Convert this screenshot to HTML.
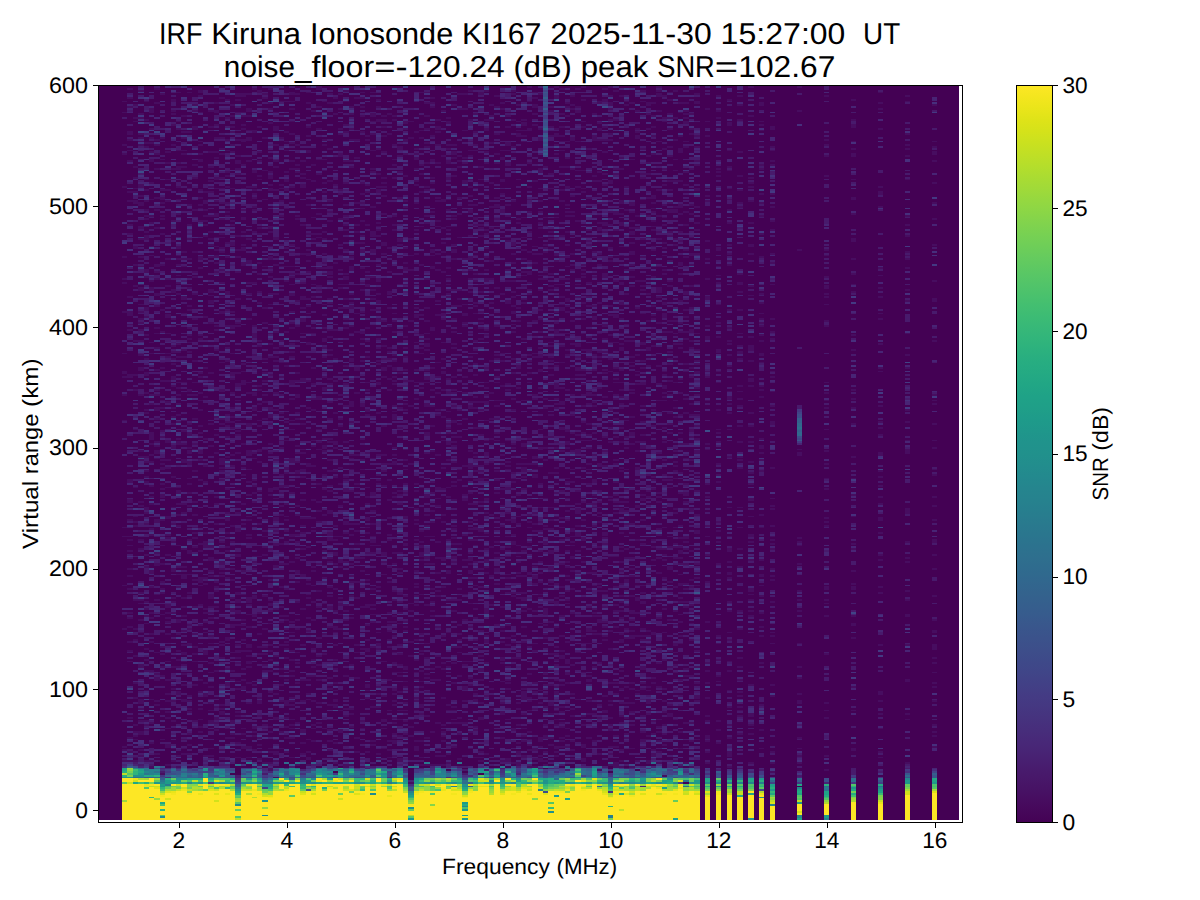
<!DOCTYPE html>
<html lang="en"><head><meta charset="utf-8"><title>IRF Kiruna Ionosonde KI167</title>
<style>html,body{margin:0;padding:0;background:#fff}svg{display:block}text{font-family:"Liberation Sans",sans-serif;fill:#000;text-rendering:geometricPrecision}</style></head><body>
<svg width="1200" height="900" viewBox="0 0 1200 900">
<defs><linearGradient id="vg" x1="0" y1="0" x2="0" y2="1"><stop offset="0.0000" stop-color="#fde725"/><stop offset="0.0156" stop-color="#f4e61e"/><stop offset="0.0312" stop-color="#eae51a"/><stop offset="0.0469" stop-color="#dfe318"/><stop offset="0.0625" stop-color="#d5e21a"/><stop offset="0.0781" stop-color="#cae11f"/><stop offset="0.0938" stop-color="#c0df25"/><stop offset="0.1094" stop-color="#b5de2b"/><stop offset="0.1250" stop-color="#aadc32"/><stop offset="0.1406" stop-color="#a0da39"/><stop offset="0.1562" stop-color="#95d840"/><stop offset="0.1719" stop-color="#8bd646"/><stop offset="0.1875" stop-color="#81d34d"/><stop offset="0.2031" stop-color="#77d153"/><stop offset="0.2188" stop-color="#6ece58"/><stop offset="0.2344" stop-color="#65cb5e"/><stop offset="0.2500" stop-color="#5cc863"/><stop offset="0.2656" stop-color="#54c568"/><stop offset="0.2812" stop-color="#4cc26c"/><stop offset="0.2969" stop-color="#44bf70"/><stop offset="0.3125" stop-color="#3dbc74"/><stop offset="0.3281" stop-color="#37b878"/><stop offset="0.3438" stop-color="#31b57b"/><stop offset="0.3594" stop-color="#2cb17e"/><stop offset="0.3750" stop-color="#27ad81"/><stop offset="0.3906" stop-color="#24aa83"/><stop offset="0.4062" stop-color="#21a685"/><stop offset="0.4219" stop-color="#1fa287"/><stop offset="0.4375" stop-color="#1f9f88"/><stop offset="0.4531" stop-color="#1e9b8a"/><stop offset="0.4688" stop-color="#1f978b"/><stop offset="0.4844" stop-color="#20938c"/><stop offset="0.5000" stop-color="#21918c"/><stop offset="0.5156" stop-color="#228d8d"/><stop offset="0.5312" stop-color="#23898e"/><stop offset="0.5469" stop-color="#25858e"/><stop offset="0.5625" stop-color="#26828e"/><stop offset="0.5781" stop-color="#277e8e"/><stop offset="0.5938" stop-color="#297a8e"/><stop offset="0.6094" stop-color="#2a768e"/><stop offset="0.6250" stop-color="#2c728e"/><stop offset="0.6406" stop-color="#2e6f8e"/><stop offset="0.6562" stop-color="#2f6b8e"/><stop offset="0.6719" stop-color="#31678e"/><stop offset="0.6875" stop-color="#33638d"/><stop offset="0.7031" stop-color="#355f8d"/><stop offset="0.7188" stop-color="#375b8d"/><stop offset="0.7344" stop-color="#39568c"/><stop offset="0.7500" stop-color="#3b528b"/><stop offset="0.7656" stop-color="#3d4e8a"/><stop offset="0.7812" stop-color="#3e4989"/><stop offset="0.7969" stop-color="#404588"/><stop offset="0.8125" stop-color="#424086"/><stop offset="0.8281" stop-color="#443b84"/><stop offset="0.8438" stop-color="#453781"/><stop offset="0.8594" stop-color="#46327e"/><stop offset="0.8750" stop-color="#472d7b"/><stop offset="0.8906" stop-color="#482878"/><stop offset="0.9062" stop-color="#482374"/><stop offset="0.9219" stop-color="#481d6f"/><stop offset="0.9375" stop-color="#48186a"/><stop offset="0.9531" stop-color="#471365"/><stop offset="0.9688" stop-color="#470d60"/><stop offset="0.9844" stop-color="#46075a"/><stop offset="1.0000" stop-color="#440154"/></linearGradient></defs>
<rect width="1200" height="900" fill="#fff"/>
<g shape-rendering="crispEdges" fill="none">
<rect x="98" y="85" width="861" height="735" fill="#440154"/>
<path stroke="#470d60" stroke-width="5" d="M124.5 101v1m0 10v1m0 31v2m0 7v2m0 31v2m0 68v2m0 20v2m0 2v2m0 27v2m0 40v1m0 17v3m0 2v2m0 16v2m0 24v1m0 106v1m0 8v1m0 48v1m0 28v1m0 13v2m0 116v2m0 1v2m0 9v2M135.5 104v2m0 11v2m0 2v1m0 44v2m0 9v2m0 9v1m0 2v2m0 7v4m0 42v3m0 15v2m0 19v2m0 53v2m0 32v2m0 13v2m0 38v1m0 57v1m0 28v1m0 4v2m0 2v2m0 72v2m0 27v2m0 9v2m0 14v2m0 25v2m0 13v2m0 25v2m0 5v2m0 2v2m0 2v1m0 17v1m0 2v2M146.5 101v1m0 17v2m0 21v2m0 2v2m0 31v1m0 9v2m0 9v2m0 7v2m0 4v2m0 1v2m0 11v2m0 2v5m0 29v4m0 3v2m0 29v4m0 5v2m0 16v2m0 22v2m0 12v4m0 16v2m0 15v2m0 1v2m0 42v2m0 3v2m0 7v2m0 4v2m0 3v2m0 24v3m0 2v2m0 9v2m0 29v2m0 10v2m0 33v2m0 5v2m0 5v2m0 6v1m0 24v2m0 9v2m0 9v2m0 18v1m0 29v2m0 2v2m0 3v2m0 26v1m0 2v2M151.5 108v5m0 15v2m0 7v2m0 3v2m0 7v2m0 6v3m0 20v2m0 15v1m0 15v2m0 5v2m0 22v1m0 8v1m0 24v2m0 5v4m0 27v2m0 22v1m0 10v1m0 40v2m0 7v2m0 27v8m0 3v2m0 9v2m0 5v2m0 22v2m0 9v2m0 5v2m0 23v2m0 4v2m0 34v4m0 12v2m0 24v2m0 3v2m0 14v2m0 6v2m0 27v2m0 27v1m0 22v2m0 18v2m0 16v2m0 4v3M162.5 93v2m0 42v2m0 20v1m0 29v2m0 6v3m0 2v2m0 11v2m0 1v2m0 13v2m0 29v2m0 43v2m0 20v2m0 29v1m0 4v2m0 11v2m0 18v1m0 6v2m0 21v2m0 4v2m0 21v2m0 2v2m0 2v3m0 13v2m0 3v2m0 4v4m0 21v2m0 15v1m0 8v1m0 17v2m0 16v2m0 5v2m0 2v2m0 20v1m0 17v1m0 13v2m0 5v2m0 11v2m0 7v2m0 62v1m0 33v2M173.5 99v3m0 8v2m0 1v2m0 9v2m0 18v2m0 22v2m0 9v1m0 40v2m0 18v2m0 47v4m0 14v2m0 9v2m0 25v2m0 4v2m0 5v2m0 3v2m0 11v4m0 5v2m0 20v2m0 7v2m0 5v2m0 20v4m0 27v2m0 9v1m0 19v1m0 15v2m0 16v2m0 2v1m0 22v4m0 25v2m0 2v2m0 9v2m0 52v2m0 11v2m0 7v2m0 10v2m0 18v2m0 26v1m0 11v2M178.5 92v1m0 28v1m0 6v2m0 20v1m0 11v2m0 2v4m0 16v2m0 11v1m0 13v2m0 31v3m0 6v1m0 2v2m0 4v2m0 9v1m0 6v2m0 9v2m0 48v2m0 6v2m0 3v2m0 24v1m0 4v2m0 5v2m0 7v2m0 9v2m0 5v2m0 15v2m0 1v4m0 42v1m0 2v4m0 9v2m0 9v2m0 9v2m0 18v1m0 10v1m0 9v2m0 6v1m0 11v2m0 31v4m0 10v2m0 15v2m0 7v2m0 5v2m0 23v4m0 60v2m0 9v2M189.5 92v1m0 38v2m0 8v1m0 46v1m0 15v2m0 18v2m0 12v2m0 18v2m0 27v2m0 16v2m0 2v2m0 16v2m0 5v2m0 2v2m0 2v1m0 8v2m0 36v3m0 2v2m0 27v2m0 7v4m0 11v2m0 1v4m0 7v4m0 13v1m0 4v2m0 7v2m0 11v2m0 32v2m0 9v4m0 20v1m0 17v2m0 1v2m0 27v2m0 2v2m0 13v3m0 35v1m0 13v2m0 3v2m0 6v2m0 1v2m0 20v2m0 4v1m0 4v2m0 7v2M200.5 90v3m0 2v2m0 15v1m0 28v1m0 2v2m0 7v2m0 4v3m0 27v2m0 6v2m0 5v2m0 2v1m0 11v2m0 34v4m0 7v2m0 65v2m0 2v2m0 32v2m0 2v2m0 14v2m0 6v1m0 8v2m0 14v2m0 5v2m0 16v4m0 5v2m0 18v2m0 62v2m0 5v2m0 25v6m0 2v1m0 18v2m0 18v2m0 9v2m0 42v2m0 10v2m0 15v2m0 9v1m0 6v2m0 3v2M205.5 130v1m0 60v2m0 7v4m0 5v2m0 4v2m0 3v2m0 2v2m0 9v2m0 79v2m0 49v2m0 13v1m0 2v2m0 9v2m0 40v2m0 25v2m0 14v2m0 49v2m0 7v7m0 29v2m0 4v2m0 23v2m0 2v2m0 7v2m0 9v1m0 17v5m0 27v2m0 9v4m0 58v2M216.5 102v2m0 6v3m0 11v2m0 11v2m0 12v2m0 4v2m0 18v3m0 8v1m0 11v2m0 11v4m0 20v1m0 8v1m0 2v2m0 4v3m0 4v2m0 7v2m0 52v2m0 2v2m0 18v2m0 65v2m0 16v2m0 16v2m0 42v2m0 5v2m0 18v2m0 34v2m0 20v2m0 3v2m0 2v2m0 11v1m0 2v2m0 62v2m0 34v2m0 9v3m0 2v2m0 5v2M227.5 99v2m0 16v2m0 20v2m0 9v1m0 20v2m0 2v2m0 9v2m0 14v2m0 4v1m0 2v2m0 2v2m0 25v2m0 12v2m0 13v2m0 18v4m0 14v2m0 14v2m0 20v2m0 11v2m0 52v2m0 5v2m0 2v2m0 9v2m0 18v2m0 1v2m0 17v1m0 9v2m0 22v2m0 3v4m0 11v2m0 12v2m0 2v2m0 5v2m0 18v2m0 58v4m0 27v2m0 12v4m0 42v1m0 8v2M232.5 104v2m0 9v2m0 9v2m0 3v2m0 11v2m0 5v2m0 35v1m0 31v2m0 2v2m0 3v2m0 11v4m0 65v2m0 12v4m0 24v1m0 18v4m0 2v2m0 12v2m0 13v2m0 7v2m0 3v2m0 4v2m0 25v2m0 9v2m0 58v2m0 14v2m0 2v1m0 10v1m0 11v2m0 9v2m0 16v2m0 9v4m0 2v1m0 9v4m0 2v2m0 20v1m0 17v2m0 7v2m0 39v4m0 2v2m0 5v2m0 2v2M243.5 93v4m0 15v1m0 2v2m0 7v2m0 2v2m0 9v3m0 22v2m0 13v1m0 8v1m0 20v2m0 6v3m0 11v2m0 11v2m0 1v4m0 11v4m0 97v2m0 6v1m0 8v5m0 58v2m0 22v2m0 5v2m0 27v2m0 18v2m0 2v1m0 17v1m0 24v2m0 22v1m0 24v2m0 3v2m0 13v2m0 9v2m0 16v2m0 9v2m0 5v4m0 38v1m0 4v2m0 11v3M254.5 85v1m0 2v2m0 40v3m0 37v3m0 13v2m0 1v2m0 2v2m0 2v2m0 7v2m0 1v2m0 20v2m0 13v1m0 35v2m0 41v2m0 6v5m0 4v1m0 11v2m0 11v2m0 23v4m0 11v4m0 41v2m0 4v1m0 20v2m0 4v2m0 5v2m0 7v2m0 53v1m0 4v2m0 5v2m0 25v4m0 15v3m0 67v2m0 40v3m0 2v2m0 2v2m0 12v2m0 15v2M259.5 90v3m0 33v2m0 23v2m0 7v2m0 13v2m0 2v1m0 38v2m0 7v2m0 4v2m0 27v2m0 9v2m0 16v2m0 9v2m0 36v2m0 3v2m0 38v2m0 2v2m0 12v2m0 15v1m0 4v2m0 22v3m0 9v2m0 27v2m0 4v2m0 25v2m0 31v1m0 55v2m0 19v2m0 11v2m0 5v2m0 42v2m0 1v4m0 11v2m0 20v2m0 5v2m0 12v2m0 4v2M270.5 88v2m0 12v2m0 4v2m0 12v2m0 33v2m0 12v2m0 2v4m0 5v2m0 2v3m0 35v3m0 2v2m0 13v1m0 9v4m0 7v2m0 2v2m0 3v2m0 15v2m0 9v1m0 28v1m0 9v2m0 11v2m0 16v2m0 31v4m0 3v4m0 5v2m0 18v2m0 7v2m0 34v4m0 2v2m0 52v2m0 29v2m0 18v2m0 2v3m0 4v2m0 11v1m0 8v1m0 11v2m0 4v2m0 7v2m0 9v2m0 19v2m0 33v2m0 3v2m0 15v1m0 2v2m0 9v2m0 4v3M281.5 101v1m0 35v2m0 45v2m0 2v1m0 11v2m0 13v2m0 27v2m0 20v1m0 73v2m0 3v2m0 15v1m0 13v2m0 16v2m0 16v2m0 26v1m0 6v2m0 25v2m0 9v3m0 4v2m0 11v2m0 7v2m0 27v2m0 18v2m0 12v2m0 7v2m0 18v2m0 7v2m0 4v2m0 21v2m0 22v2m0 14v2m0 14v2m0 17v1m0 11v2m0 15v1M286.5 101v1m0 29v2m0 8v1m0 8v1m0 20v2m0 6v3m0 6v3m0 17v1m0 38v2m0 17v1m0 13v2m0 49v2m0 29v1m0 2v2m0 54v2m0 6v1m0 10v1m0 18v2m0 6v3m0 2v2m0 11v2m0 16v2m0 11v1m0 2v2m0 9v2m0 9v2m0 20v2m0 20v1m0 2v2m0 25v2m0 2v2m0 7v2m0 11v2m0 1v2m0 2v2m0 7v2m0 20v2m0 19v6m0 11v2m0 7v2m0 9v2m0 12v2M297.5 93v2m0 49v2m0 18v2m0 2v2m0 1v2m0 42v2m0 1v2m0 27v2m0 6v1m0 13v2m0 2v2m0 25v2m0 23v2m0 45v2m0 6v2m0 12v4m0 14v2m0 4v2m0 25v2m0 5v2m0 7v2m0 7v4m0 31v2m0 7v2m0 18v2m0 5v2m0 14v2m0 11v4m0 7v2m0 18v2m0 16v2m0 7v2m0 22v1m0 9v2m0 18v2m0 38v2m0 40v2M308.5 92v1m0 9v2m0 22v2m0 7v2m0 13v3m0 26v1m0 24v2m0 20v1m0 6v2m0 14v2m0 2v3m0 4v2m0 9v2m0 25v2m0 5v2m0 6v1m0 19v1m0 8v3m0 35v2m0 16v2m0 7v2m0 54v4m0 50v2m0 27v2m0 31v2m0 2v2m0 9v1m0 2v2m0 18v2m0 11v2m0 43v2m0 2v2m0 12v2m0 4v1m0 39v1m0 11v2m0 4v3m0 4v2M313.5 110v2m0 52v2m0 14v2m0 17v1m0 17v1m0 15v2m0 3v2m0 44v1m0 11v2m0 29v2m0 4v1m0 33v2m0 14v2m0 13v2m0 9v2m0 29v1m0 4v2m0 18v2m0 32v2m0 16v2m0 11v2m0 34v2m0 2v2m0 13v1m0 15v2m0 16v2m0 27v2m0 2v1m0 6v2m0 5v2m0 7v2m0 23v2m0 22v2m0 2v1m0 11v2M324.5 101v1m0 37v2m0 3v2m0 13v1m0 10v1m0 11v2m0 7v2m0 38v2m0 5v2m0 13v2m0 7v2m0 3v2m0 4v2m0 29v1m0 9v2m0 11v2m0 9v4m0 5v2m0 7v2m0 18v2m0 9v4m0 47v2m0 5v4m0 1v2m0 22v2m0 12v2m0 24v2m0 34v2m0 4v1m0 8v1m0 11v2m0 24v1m0 29v2m0 18v2m0 26v1m0 46v1m0 33v2M335.5 97v2m0 14v2m0 69v2m0 2v1m0 73v2m0 65v2m0 27v2m0 20v2m0 16v2m0 12v2m0 27v4m0 2v2m0 21v2m0 4v2m0 47v2m0 9v1m0 2v2m0 11v4m0 7v2m0 23v2m0 20v2m0 14v4m0 2v1m0 11v2m0 13v2m0 7v2m0 12v2m0 6v1m0 8v3m0 2v4m0 11v1m0 22v2m0 18v2M340.5 93v2m0 13v2m0 18v2m0 3v2m0 18v4m0 32v2m0 2v2m0 23v2m0 24v2m0 9v1m0 13v2m0 13v1m0 2v2m0 18v2m0 85v2m0 22v2m0 5v2m0 40v2m0 14v2m0 20v2m0 29v1m0 22v4m0 3v2m0 29v2m0 4v3m0 8v1m0 13v2m0 31v1m0 48v1m0 18v4M351.5 106v2m0 5v2m0 13v2m0 9v2m0 19v2m0 4v2m0 40v1m0 17v1m0 29v2m0 8v5m0 22v2m0 7v2m0 1v4m0 16v2m0 6v1m0 24v4m0 18v2m0 19v6m0 14v2m0 31v2m0 2v1m0 10v1m0 20v2m0 31v2m0 9v2m0 27v2m0 10v2m0 4v2m0 12v2m0 20v2m0 45v2m0 42v2m0 3v2m0 11v2m0 36v2M362.5 92v1m0 4v2m0 7v2m0 7v2m0 14v2m0 49v2m0 9v2m0 7v2m0 4v1m0 11v2m0 13v2m0 5v2m0 5v4m0 14v2m0 13v2m0 5v2m0 20v2m0 18v3m0 4v2m0 20v2m0 41v4m0 31v2m0 19v2m0 8v1m0 87v2m0 11v2m0 9v2m0 23v2m0 40v2m0 70v2m0 6v1m0 37v2M367.5 112v1m0 22v2m0 2v2m0 43v2m0 5v2m0 31v2m0 45v2m0 3v2m0 6v3m0 15v2m0 23v2m0 11v2m0 14v2m0 24v1m0 6v2m0 18v3m0 2v2m0 36v2m0 33v1m0 8v2m0 5v2m0 12v4m0 6v1m0 4v2m0 18v2m0 25v2m0 23v4m0 16v2m0 13v2m0 7v4m0 32v4m0 2v1m0 6v2m0 52v2M378.5 99v2m0 5v2m0 11v3m0 8v1m0 17v2m0 23v2m0 11v2m0 1v4m0 29v2m0 2v1m0 2v2m0 4v2m0 27v2m0 12v4m0 11v2m0 5v4m0 5v2m0 7v4m0 16v2m0 7v2m0 11v2m0 1v2m0 17v3m0 27v2m0 40v2m0 18v2m0 3v2m0 2v2m0 16v2m0 42v1m0 40v2m0 26v1m0 17v1m0 10v3m0 2v2m0 11v1m0 15v2m0 2v1m0 4v2m0 5v2m0 7v2m0 2v2m0 45v2m0 3v2M389.5 113v2m0 18v2m0 82v1m0 29v2m0 22v2m0 18v4m0 12v2m0 16v2m0 20v2m0 2v2m0 5v2m0 5v2m0 11v2m0 9v2m0 72v2m0 14v2m0 18v2m0 16v2m0 15v2m0 3v2m0 25v2m0 13v2m0 29v2m0 7v2m0 1v2m0 4v2m0 7v2m0 5v2m0 31v2m0 29v1m0 29v2m0 7v2m0 6v1M394.5 115v2m0 2v2m0 23v2m0 13v1m0 4v2m0 11v2m0 36v2m0 7v2m0 3v2m0 82v1m0 6v2m0 9v2m0 21v2m0 4v2m0 5v4m0 5v2m0 2v2m0 1v2m0 20v2m0 4v1m0 2v6m0 27v2m0 5v2m0 5v4m0 27v2m0 2v2m0 54v2m0 9v2m0 25v2m0 7v2m0 14v2m0 4v2m0 12v2m0 15v1m0 9v2m0 8v1m0 15v3m0 2v2m0 5v2m0 2v2m0 11v2m0 3v2m0 9v2m0 2v2m0 1v4m0 11v2M405.5 121v3m0 4v2m0 9v3m0 11v2m0 7v2m0 11v2m0 23v2m0 4v2m0 39v2m0 13v2m0 3v4m0 9v2m0 2v1m0 20v2m0 18v2m0 9v2m0 9v2m0 7v2m0 4v1m0 6v2m0 9v2m0 21v2m0 4v2m0 38v1m0 9v2m0 8v1m0 13v2m0 7v2m0 22v3m0 24v3m0 15v2m0 25v2m0 5v2m0 11v2m0 11v2m0 3v2m0 2v2m0 34v4m0 11v1m0 4v2m0 2v1m0 11v2m0 6v1m0 9v2m0 11v2M416.5 85v1m0 45v2m0 15v2m0 3v2m0 2v3m0 8v2m0 10v2m0 2v2m0 16v2m0 25v2m0 15v1m0 6v2m0 38v2m0 12v2m0 5v4m0 6v1m0 8v1m0 8v1m0 10v1m0 15v2m0 11v1m0 15v2m0 69v1m0 13v2m0 5v2m0 9v2m0 5v2m0 9v2m0 2v2m0 14v2m0 4v1m0 24v2m0 11v2m0 1v2m0 7v2m0 2v2m0 3v2m0 33v2m0 18v2m0 11v1m0 6v2m0 7v2m0 1v2m0 4v2m0 1v2m0 8v1m0 29v2m0 4v5M421.5 92v1m0 37v1m0 6v2m0 25v2m0 7v2m0 16v2m0 33v1m0 37v2m0 48v2m0 18v2m0 2v2m0 7v2m0 4v1m0 28v1m0 4v2m0 98v1m0 42v2m0 9v2m0 2v3m0 4v5m0 2v2m0 33v1m0 38v2m0 15v2m0 1v2m0 15v2m0 9v1m0 4v2m0 16v4m0 5v2m0 25v2m0 15v1m0 6v2M432.5 97v2m0 3v2m0 2v2m0 27v2m0 22v3m0 15v2m0 3v2m0 4v1m0 22v2m0 36v4m0 2v1m0 10v3m0 15v1m0 42v4m0 36v2m0 20v2m0 14v2m0 18v2m0 23v2m0 29v2m0 9v2m0 16v2m0 9v2m0 13v1m0 26v2m0 23v2m0 11v2m0 7v2m0 3v2m0 51v2m0 9v2m0 50v2m0 31v2M443.5 110v2m0 43v2m0 42v3m0 25v2m0 13v2m0 7v2m0 18v2m0 22v1m0 17v3m0 2v2m0 22v1m0 15v2m0 11v3m0 15v2m0 25v2m0 22v1m0 26v2m0 19v2m0 24v2m0 5v2m0 34v4m0 25v2m0 47v2m0 25v2m0 4v2m0 27v2m0 25v2m0 5v2m0 2v2m0 3v2m0 13v2m0 7v2M448.5 117v2m0 2v3m0 20v2m0 2v2m0 10v4m0 13v3m0 19v1m0 9v2m0 15v1m0 2v2m0 6v1m0 17v1m0 11v2m0 9v2m0 4v1m0 4v2m0 2v2m0 1v2m0 13v2m0 65v2m0 11v3m0 17v1m0 6v2m0 3v2m0 2v2m0 3v2m0 7v4m0 14v2m0 26v1m0 8v2m0 41v2m0 24v1m0 4v4m0 25v2m0 7v2m0 4v1m0 17v1m0 33v2m0 36v2m0 4v1m0 33v2m0 7v2m0 7v2M459.5 93v2m0 13v2m0 45v2m0 3v2m0 4v2m0 29v2m0 14v2m0 22v1m0 51v2m0 7v2m0 5v2m0 64v1m0 10v1m0 26v2m0 12v2m0 11v2m0 31v1m0 9v2m0 62v2m0 43v2m0 9v2m0 23v2m0 7v2m0 4v2m0 5v2m0 4v1m0 22v2m0 40v2m0 3v2m0 9v2m0 23v2M470.5 90v2m0 27v2m0 20v1m0 8v1m0 4v2m0 22v1m0 6v2m0 7v2m0 7v2m0 3v4m0 22v2m0 19v4m0 9v2m0 7v2m0 5v2m0 4v2m0 40v1m0 22v2m0 43v2m0 2v4m0 41v2m0 11v6m0 23v2m0 9v2m0 16v2m0 5v2m0 6v1m0 2v2m0 11v2m0 3v4m0 2v2m0 5v4m0 3v2m0 24v1m0 10v1m0 11v2m0 33v1m0 15v2m0 5v2m0 45v2m0 15v1M475.5 113v2m0 16v2m0 11v2m0 4v1m0 37v1m0 15v2m0 11v3m0 4v2m0 29v1m0 17v2m0 5v2m0 20v2m0 1v2m0 6v1m0 26v2m0 7v2m0 12v2m0 9v2m0 15v1m0 4v2m0 3v2m0 4v2m0 18v2m0 23v2m0 2v2m0 7v2m0 3v2m0 7v2m0 22v2m0 14v2m0 6v3m0 9v2m0 4v1m0 15v2m0 5v2m0 7v2m0 6v1m0 22v2m0 7v2m0 20v2m0 5v2m0 31v2m0 9v1m0 2v2m0 4v3m0 24v2m0 1v2m0 26v1M486.5 90v2m0 27v2m0 7v3m0 10v1m0 9v2m0 9v2m0 62v1m0 2v2m0 2v2m0 12v2m0 7v2m0 11v2m0 7v4m0 2v1m0 44v2m0 3v2m0 31v2m0 13v1m0 4v2m0 5v2m0 5v4m0 15v1m0 19v1m0 11v4m0 7v2m0 13v1m0 19v3m0 6v1m0 4v2m0 18v2m0 14v2m0 9v4m0 3v2m0 4v2m0 34v6m0 21v2m0 2v4m0 19v2m0 26v1m0 4v2m0 56v2M491.5 104v2m0 9v2m0 2v2m0 21v2m0 38v2m0 22v2m0 19v2m0 31v2m0 16v2m0 22v2m0 56v2m0 30v2m0 24v2m0 18v2m0 21v2m0 51v2m0 30v2m0 27v2m0 27v2m0 9v2m0 71v2m0 18v2M502.5 102v2m0 4v2m0 40v1m0 6v3m0 19v3m0 11v2m0 14v4m0 24v1m0 55v2m0 58v1m0 6v2m0 23v2m0 13v1m0 28v1m0 13v2m0 9v2m0 32v2m0 15v2m0 18v2m0 21v2m0 15v1m0 40v2m0 18v2m0 2v2m0 9v2m0 14v4m0 1v2m0 17v1m0 17v1m0 2v2m0 7v4m0 22v2m0 21v2M513.5 90v2m0 1v2m0 24v2m0 25v2m0 52v2m0 40v4m0 7v2m0 7v2m0 16v2m0 9v2m0 3v2m0 7v2m0 4v3m0 10v1m0 6v2m0 25v2m0 12v2m0 24v2m0 9v2m0 9v1m0 22v2m0 2v2m0 23v2m0 4v1m0 2v2m0 33v1m0 2v4m0 11v2m0 5v4m0 20v1m0 22v2m0 2v2m0 1v2m0 38v2m0 4v2m0 14v2m0 69v3m0 31v2M518.5 104v2m0 15v1m0 8v1m0 2v4m0 42v1m0 38v2m0 2v2m0 52v2m0 29v2m0 11v2m0 43v4m0 18v2m0 74v2m0 29v2m0 20v1m0 6v2m0 20v1m0 10v1m0 4v2m0 9v2m0 1v2m0 15v2m0 3v2m0 49v2m0 7v2m0 43v2m0 4v2m0 14v2m0 16v2m0 7v4m0 7v4M529.5 85v3m0 4v1m0 8v1m0 26v3m0 28v1m0 2v2m0 22v2m0 11v1m0 11v2m0 18v2m0 18v2m0 7v2m0 2v2m0 5v4m0 7v2m0 5v2m0 2v2m0 18v1m0 10v1m0 9v2m0 18v2m0 4v2m0 10v2m0 8v1m0 17v1m0 37v2m0 23v2m0 22v1m0 19v1m0 6v2m0 5v2m0 4v1m0 9v2m0 2v2m0 3v2m0 24v3m0 33v2m0 36v2m0 25v2m0 22v2m0 1v2m0 8v1m0 20v2m0 6v1m0 4v2m0 3v2m0 15v2M540.5 93v2m0 33v2m0 7v4m0 27v5m0 15v1m0 11v2m0 9v2m0 9v2m0 3v2m0 8v1m0 15v2m0 20v1m0 2v2m0 9v2m0 13v1m0 4v2m0 7v2m0 11v2m0 14v2m0 5v4m0 11v3m0 15v2m0 40v1m0 17v3m0 8v1m0 6v2m0 16v2m0 22v1m0 13v2m0 7v2m0 2v2m0 14v2m0 9v2m0 9v2m0 7v2m0 11v1m0 2v2m0 7v2m0 15v1m0 66v1m0 4v2m0 5v2m0 33v5m0 4v2m0 7v2m0 1v4M545.5 166v2m0 49v1m0 26v2m0 1v2m0 2v2m0 18v2m0 2v1m0 2v2m0 15v1m0 40v2m0 27v2m0 31v2m0 7v2m0 27v2m0 9v2m0 10v2m0 37v1m0 15v3m0 8v2m0 1v2m0 11v4m0 63v7m0 9v2m0 7v2m0 2v2m0 34v2m0 9v2m0 7v2m0 4v1m0 6v2m0 16v2m0 9v4m0 12v2m0 7v2m0 2v2M556.5 86v2m0 4v1m0 2v4m0 13v1m0 15v2m0 3v4m0 7v2m0 7v2m0 44v1m0 17v1m0 8v1m0 10v1m0 15v3m0 4v2m0 22v1m0 2v2m0 22v2m0 9v2m0 5v5m0 8v1m0 22v2m0 16v6m0 9v2m0 3v2m0 2v2m0 32v2m0 4v2m0 18v2m0 3v2m0 18v2m0 13v1m0 8v1m0 44v2m0 20v2m0 12v2m0 2v3m0 19v1m0 2v2m0 18v2m0 5v2m0 4v2m0 3v2m0 13v2m0 5v2m0 3v4m0 11v2m0 2v1m0 8v1m0 4v2m0 20v3m0 2v2m0 2v2M567.5 102v2m0 2v2m0 7v2m0 24v1m0 15v2m0 7v2m0 18v3m0 15v2m0 5v2m0 2v2m0 14v2m0 11v2m0 10v2m0 8v1m0 11v2m0 18v4m0 3v2m0 4v2m0 20v1m0 2v2m0 11v2m0 3v2m0 33v2m0 38v3m0 9v4m0 2v2m0 29v1m0 2v2m0 15v1m0 11v2m0 7v2m0 16v2m0 11v2m0 9v2m0 3v2m0 7v2m0 2v2m0 9v2m0 7v2m0 2v1m0 37v2m0 16v5m0 8v3m0 7v2m0 15v1m0 28v1m0 6v2m0 9v2M572.5 95v2m0 7v2m0 2v2m0 27v4m0 27v2m0 19v2m0 4v2m0 14v2m0 2v2m0 36v2m0 9v2m0 3v2m0 49v2m0 21v2m0 8v1m0 24v2m0 14v2m0 2v3m0 10v1m0 2v2m0 16v2m0 16v2m0 17v1m0 11v2m0 45v4m0 4v1m0 4v2m0 2v1m0 10v3m0 11v2m0 7v2m0 7v2m0 22v2m0 50v2m0 27v2m0 13v2m0 5v2m0 23v2m0 7v2m0 7v2M583.5 86v2m0 11v2m0 20v1m0 4v2m0 42v1m0 17v1m0 2v2m0 44v1m0 15v2m0 9v2m0 3v2m0 2v2m0 1v2m0 24v2m0 10v2m0 2v2m0 13v1m0 15v2m0 18v2m0 3v2m0 7v2m0 9v2m0 9v2m0 14v2m0 9v2m0 6v1m0 15v2m0 9v2m0 32v2m0 16v2m0 16v4m0 15v1m0 4v2m0 11v1m0 60v2m0 6v1m0 2v2m0 24v1m0 42v2m0 7v2m0 18v4m0 10v4M594.5 113v2m0 20v6m0 34v2m0 3v2m0 69v2m0 3v2m0 18v2m0 27v2m0 9v4m0 34v2m0 2v2m0 9v2m0 23v2m0 5v2m0 2v2m0 18v2m0 5v2m0 20v2m0 23v4m0 11v2m0 7v2m0 2v1m0 17v2m0 45v2m0 11v1m0 17v1m0 4v2m0 2v2m0 1v2m0 13v2m0 1v2m0 26v1m0 4v2m0 42v1m0 2v2m0 25v2M599.5 101v3m0 18v2m0 4v3m0 8v2m0 30v2m0 7v2m0 20v2m0 18v2m0 3v4m0 22v2m0 9v2m0 36v2m0 29v1m0 17v2m0 3v2m0 2v2m0 20v1m0 4v2m0 74v4m0 23v2m0 9v2m0 4v1m0 4v2m0 2v1m0 4v2m0 23v2m0 35v2m0 1v2m0 2v2m0 23v2m0 2v4m0 10v2m0 27v2m0 40v2m0 11v2m0 34v2m0 14v2M610.5 86v2m0 7v2m0 5v4m0 2v2m0 9v2m0 12v2m0 4v2m0 39v4m0 27v2m0 11v2m0 21v2m0 7v2m0 2v2m0 43v2m0 7v2m0 18v2m0 6v1m0 10v1m0 4v2m0 11v1m0 37v2m0 10v2m0 4v2m0 12v2m0 53v2m0 1v2m0 18v2m0 35v1m0 73v2m0 16v2m0 11v1m0 20v2m0 16v2m0 2v2m0 11v2m0 5v2m0 2v3m0 15v2m0 5v2m0 9v2M621.5 95v2m0 60v2m0 9v2m0 30v4m0 9v2m0 7v4m0 20v1m0 8v1m0 26v3m0 17v3m0 13v2m0 13v1m0 9v2m0 2v4m0 18v2m0 11v1m0 6v2m0 5v2m0 5v2m0 2v2m0 18v2m0 12v2m0 24v2m0 1v2m0 29v2m0 5v4m0 20v2m0 12v2m0 2v2m0 9v2m0 7v2m0 11v2m0 10v2m0 4v2m0 7v2m0 5v2m0 14v2m0 4v4m0 27v2m0 16v2m0 12v2m0 11v2m0 5v2m0 25v2m0 9v2m0 4v2M626.5 101v1m0 2v2m0 80v2m0 21v2m0 6v1m0 48v1m0 2v2m0 22v2m0 29v1m0 15v2m0 78v1m0 15v2m0 9v2m0 20v1m0 4v2m0 2v1m0 9v2m0 8v1m0 2v2m0 7v2m0 11v2m0 23v2m0 7v2m0 20v4m0 21v2m0 22v2m0 2v1m0 4v2m0 47v2m0 9v2m0 3v2m0 13v2m0 14v2m0 2v2M637.5 110v2m0 16v2m0 1v2m0 2v4m0 76v2m0 10v2m0 51v2m0 25v2m0 45v2m0 15v1m0 2v2m0 7v2m0 56v2m0 7v2m0 15v3m0 35v3m0 31v2m0 29v2m0 13v1m0 11v4m0 11v2m0 21v2m0 53v1m0 2v2m0 24v1m0 40v2M648.5 102v4m0 7v2m0 13v2m0 25v2m0 5v2m0 9v2m0 22v2m0 16v2m0 20v1m0 55v2m0 25v2m0 25v4m0 14v2m0 4v1m0 48v1m0 48v1m0 4v2m0 14v2m0 4v2m0 18v1m0 66v2m0 45v2m0 3v2m0 2v2m0 2v1m0 42v2m0 2v1m0 8v5m0 9v2m0 20v2m0 2v1m0 20v4M653.5 85v1m0 16v2m0 11v2m0 9v2m0 7v2m0 16v2m0 40v4m0 3v2m0 4v1m0 2v2m0 7v2m0 4v1m0 2v2m0 15v1m0 2v2m0 25v2m0 27v2m0 7v2m0 2v2m0 16v2m0 7v2m0 62v2m0 14v2m0 49v2m0 1v2m0 7v2m0 24v2m0 23v2m0 5v2m0 11v2m0 71v3m0 42v2m0 3v2m0 15v1m0 20v2m0 11v2m0 14v2m0 2v4M664.5 85v1m0 9v2m0 20v2m0 2v1m0 26v2m0 18v2m0 14v2m0 18v2m0 11v1m0 6v2m0 16v2m0 3v2m0 6v1m0 13v2m0 2v2m0 27v3m0 8v5m0 13v2m0 38v1m0 2v2m0 9v4m0 3v2m0 2v2m0 2v1m0 26v2m0 9v2m0 1v2m0 16v2m0 13v2m0 3v2m0 24v2m0 9v1m0 10v1m0 20v2m0 4v2m0 3v2m0 16v2m0 29v2m0 22v1m0 26v2m0 27v2m0 10v2m0 9v2m0 11v2m0 7v2m0 9v2m0 29v2M675.5 90v2m0 25v2m0 20v2m0 18v1m0 10v1m0 9v2m0 24v2m0 1v4m0 25v2m0 4v2m0 74v2m0 11v1m0 9v2m0 37v1m0 17v1m0 6v2m0 7v2m0 32v2m0 9v2m0 2v2m0 3v2m0 6v1m0 29v2m0 2v2m0 13v1m0 15v2m0 1v2m0 9v2m0 27v2m0 6v1m0 15v2m0 12v2m0 17v3m0 6v1m0 11v2m0 6v1m0 15v2m0 29v1m0 40v2M680.5 102v2m0 8v1m0 22v2m0 11v5m0 27v2m0 22v4m0 5v2m0 16v2m0 7v2m0 20v4m0 7v2m0 25v2m0 20v2m0 7v2m0 10v2m0 2v2m0 29v2m0 12v2m0 20v2m0 16v2m0 4v2m0 3v2m0 27v2m0 18v2m0 31v2m0 10v2m0 7v2m0 2v4m0 3v2m0 4v2m0 9v1m0 8v3m0 11v2m0 2v2m0 11v1m0 6v2m0 12v2m0 6v1m0 35v2m0 14v2m0 2v1m0 31v2m0 15v1m0 17v2M691.5 113v2m0 13v2m0 3v2m0 33v2m0 34v2m0 7v2m0 22v1m0 15v3m0 8v2m0 19v2m0 8v1m0 11v2m0 20v4m0 7v2m0 5v2m0 18v2m0 7v2m0 4v1m0 2v2m0 16v2m0 9v2m0 13v3m0 4v2m0 21v2m0 47v4m0 38v2m0 27v2m0 5v2m0 16v2m0 4v2m0 11v1m0 15v2m0 34v2m0 45v2m0 16v2m0 7v2m0 15v2M707.5 108v2m0 11v1m0 13v2m0 58v2m0 3v2m0 38v2m0 16v2m0 18v2m0 16v4m0 4v1m0 20v2m0 9v4m0 31v1m0 4v2m0 22v1m0 42v2m0 4v1m0 33v2m0 11v2m0 27v2m0 9v1m0 17v2m0 25v2m0 38v2m0 39v2m0 6v2m0 10v2m0 13v2m0 16v2m0 3v2m0 13v4m0 1v2m0 9v2m0 9v2M718.5 95v2m0 13v2m0 5v2m0 49v2m0 1v2m0 2v2m0 70v4m0 15v1m0 8v1m0 6v2m0 3v2m0 15v1m0 17v2m0 12v2m0 11v4m0 18v1m0 10v1m0 26v2m0 18v1m0 2v2m0 7v2m0 20v2m0 9v2m0 5v2m0 38v2m0 7v2m0 4v1m0 4v2m0 20v2m0 58v1m0 11v2m0 6v1m0 15v2m0 14v2m0 4v1m0 38v2m0 7v2m0 11v2M729.5 99v2m0 21v4m0 24v1m0 15v2m0 2v1m0 17v1m0 10v1m0 9v2m0 11v2m0 20v2m0 7v2m0 5v2m0 2v2m0 43v2m0 16v2m0 11v2m0 1v2m0 9v2m0 9v2m0 24v1m0 4v4m0 3v2m0 7v2m0 15v1m0 26v2m0 49v1m0 28v1m0 11v4m0 9v2m0 9v3m0 2v2m0 22v2m0 7v2m0 20v1m0 6v2m0 20v1m0 8v2m0 18v1m0 15v2m0 16v2m0 11v2m0 12v6m0 9v2M761.5 102v4m0 15v1m0 2v2m0 4v1m0 33v2m0 2v2m0 23v2m0 7v2m0 11v2m0 16v2m0 21v2m0 35v2m0 7v2m0 9v1m0 4v2m0 2v2m0 1v2m0 7v2m0 4v2m0 11v3m0 6v1m0 22v2m0 2v2m0 5v2m0 40v2m0 5v4m0 3v2m0 5v2m0 9v2m0 42v2m0 11v1m0 28v1m0 2v2m0 13v3m0 8v1m0 9v2m0 15v2m0 12v2m0 7v2m0 25v2m0 40v2m0 23v2m0 17v1M772.5 126v4m0 16v2m0 2v1m0 9v2m0 2v2m0 27v2m0 11v2m0 12v2m0 7v2m0 22v2m0 7v2m0 20v1m0 33v2m0 11v2m0 5v2m0 31v1m0 4v2m0 13v1m0 13v2m0 14v4m0 42v2m0 29v1m0 6v2m0 1v2m0 15v2m0 9v1m0 2v2m0 2v2m0 3v2m0 18v2m0 5v2m0 2v2m0 20v2m0 29v1m0 2v2m0 6v1m0 40v2m0 9v2m0 54v2m0 9v2m0 7v2M799.5 86v2m0 22v2m0 137v2m0 198v1m0 2v4m0 81v2m0 2v2m0 2v1m0 17v2m0 25v2m0 7v2m0 9v2m0 31v1m0 22v2m0 9v2m0 14v2m0 5v4m0 24v1m0 8v2m0 9v1m0 6v2m0 5v2M826.5 85v1m0 9v2m0 42v2m0 3v2m0 9v2m0 18v2m0 72v2m0 4v1m0 20v2m0 7v4m0 4v2m0 1v2m0 6v1m0 15v2m0 3v2m0 55v1m0 9v2m0 6v1m0 6v2m0 20v1m0 20v2m0 11v2m0 13v1m0 9v2m0 27v2m0 2v2m0 2v2m0 59v4m0 9v2m0 2v1m0 11v2m0 36v2m0 47v2m0 6v1m0 6v2m0 36v2m0 12v2M853.5 99v2m0 18v2m0 3v4m0 13v1m0 6v2m0 3v4m0 22v1m0 17v3m0 13v2m0 23v4m0 16v2m0 13v2m0 9v1m0 6v2m0 41v2m0 13v2m0 38v2m0 7v2m0 7v2m0 14v2m0 31v2m0 20v1m0 15v2m0 20v1m0 26v2m0 3v2m0 20v2m0 11v2m0 1v4m0 25v2m0 6v3m0 11v2m0 47v2m0 22v1m0 37v3M880.5 92v1m0 9v2m0 4v2m0 18v2m0 56v2m0 3v4m0 11v2m0 59v2m0 6v1m0 11v2m0 7v2m0 15v1m0 4v2m0 23v2m0 22v2m0 2v1m0 33v2m0 14v2m0 4v2m0 5v2m0 16v4m0 14v2m0 4v2m0 7v2m0 9v2m0 5v2m0 12v4m0 11v2m0 20v2m0 3v2m0 25v2m0 4v2m0 50v2m0 45v4m0 5v2m0 11v2m0 13v1m0 22v2m0 4v1M907.5 85v1m0 9v2m0 4v1m0 31v2m0 9v2m0 2v2m0 5v2m0 22v1m0 35v2m0 7v2m0 9v2m0 14v2m0 2v1m0 2v2m0 7v2m0 20v2m0 9v2m0 31v1m0 20v2m0 11v2m0 40v2m0 10v2m0 17v1m0 8v5m0 54v6m0 27v2m0 14v2m0 2v2m0 27v2m0 7v2m0 13v3m0 27v2m0 33v3m0 31v2m0 4v1m0 42v2M934.5 104v2m0 35v1m0 4v2m0 3v4m0 5v2m0 20v2m0 18v2m0 14v2m0 24v2m0 34v2m0 16v4m0 38v2m0 52v2m0 4v1m0 2v2m0 18v2m0 15v1m0 6v2m0 20v1m0 4v2m0 20v2m0 7v2m0 12v2m0 18v4m0 11v2m0 12v2m0 25v2m0 22v2m0 9v3m0 11v6m0 7v2m0 3v2m0 8v1m0 9v2m0 2v2m0 12v2m0 22v2m0 5v2m0 2v2m0 9v2"/>
<path stroke="#470d60" stroke-width="6" d="M130 88v2m0 7v2m0 7v2m0 23v4m0 4v2m0 9v1m0 9v2m0 29v2m0 7v2m0 22v2m0 7v2m0 61v2m0 13v5m0 8v1m0 4v2m0 43v4m0 101v4m0 16v4m0 16v2m0 15v1m0 2v2m0 4v1m0 4v2m0 16v2m0 5v2m0 11v2m0 22v2m0 3v2m0 7v2m0 13v2m0 7v2m0 9v1m0 55v2m0 18v2m0 12v2m0 7v2M141 90v2m0 21v2m0 2v2m0 14v2m0 2v2m0 2v1m0 2v2m0 38v4m0 7v2m0 5v4m0 20v3m0 9v2m0 16v2m0 8v1m0 20v4m0 13v1m0 6v2m0 5v2m0 2v2m0 5v2m0 9v2m0 12v2m0 11v4m0 23v2m0 54v2m0 4v2m0 1v2m0 40v2m0 2v2m0 32v2m0 7v2m0 42v2m0 5v2m0 2v1m0 15v2m0 11v1m0 31v4m0 31v5m0 4v2m0 10v2m0 9v4m0 14v2m0 4v2M157 88v2m0 12v2m0 35v2m0 3v2m0 7v2m0 13v2m0 27v2m0 10v2m0 16v2m0 35v3m0 4v2m0 5v2m0 13v3m0 9v2m0 20v2m0 4v1m0 13v2m0 20v2m0 18v2m0 3v2m0 11v4m0 7v2m0 21v2m0 2v2m0 3v4m0 4v1m0 60v4m0 29v2m0 9v3m0 28v1m0 4v2m0 51v1m0 20v2m0 2v4m0 19v2m0 2v2m0 47v2M168 151v2m0 9v2m0 15v1m0 9v2m0 9v2m0 56v2m0 18v2m0 5v2m0 27v4m0 15v1m0 19v1m0 2v2m0 22v2m0 19v2m0 37v3m0 16v2m0 6v2m0 18v1m0 28v3m0 15v2m0 1v2m0 15v2m0 48v4m0 4v2m0 3v2m0 2v2m0 10v2m0 26v1m0 17v2m0 12v2m0 5v2m0 9v2m0 4v2m0 9v1m0 15v4m0 16v2M184 115v2m0 14v2m0 4v2m0 11v1m0 2v2m0 11v2m0 83v2m0 5v2m0 6v1m0 29v4m0 13v1m0 35v2m0 5v2m0 24v1m0 37v1m0 9v2m0 11v2m0 14v4m0 40v2m0 7v2m0 34v2m0 16v2m0 6v5m0 18v2m0 7v2m0 7v2m0 13v2m0 12v2m0 6v3m0 6v1m0 2v2m0 7v2m0 9v2m0 13v3m0 37v1m0 8v1m0 4v2M195 104v2m0 4v2m0 14v4m0 34v2m0 11v2m0 30v2m0 40v2m0 18v2m0 3v2m0 15v2m0 23v2m0 40v2m0 20v1m0 11v2m0 22v2m0 23v2m0 4v1m0 20v2m0 29v2m0 11v2m0 11v1m0 4v2m0 3v2m0 7v2m0 31v2m0 25v2m0 25v2m0 11v2m0 5v2m0 6v1m0 22v2m0 34v2M211 110v2m0 14v2m0 23v2m0 13v2m0 12v2m0 4v2m0 3v2m0 22v2m0 14v2m0 5v2m0 4v2m0 10v2m0 31v4m0 2v1m0 4v4m0 18v2m0 48v2m0 17v1m0 31v2m0 20v2m0 98v3m0 9v4m0 9v2m0 3v2m0 17v5m0 7v2m0 4v2m0 3v2m0 16v2m0 6v1m0 18v2m0 8v1m0 13v2m0 14v2m0 6v1m0 9v4m0 24v1m0 6v2M222 97v2m0 38v2m0 9v2m0 3v2m0 22v2m0 9v1m0 13v2m0 14v2m0 13v2m0 2v1m0 9v2m0 2v2m0 16v2m0 11v2m0 12v2m0 13v3m0 48v1m0 26v3m0 26v2m0 3v2m0 33v7m0 2v2m0 1v2m0 7v2m0 56v2m0 2v2m0 18v4m0 3v2m0 2v2m0 1v2m0 64v2m0 1v2m0 11v2m0 45v2m0 2v2m0 1v4m0 4v1m0 29v2m0 7v2M238 93v4m0 2v2m0 11v1m0 26v2m0 14v2m0 3v4m0 4v2m0 3v2m0 60v2m0 12v2m0 5v2m0 13v2m0 25v2m0 18v2m0 2v2m0 1v2m0 45v2m0 9v4m0 13v1m0 4v2m0 13v1m0 9v2m0 2v2m0 16v2m0 58v2m0 14v4m0 22v3m0 35v3m0 4v4m0 7v4m0 10v2m0 18v2m0 4v3m0 4v2m0 3v2m0 17v1m0 6v2m0 21v2m0 2v2m0 25v2m0 13v1M249 93v2m0 13v4m0 3v2m0 13v1m0 6v4m0 19v2m0 24v2m0 50v2m0 20v4m0 18v2m0 9v2m0 23v2m0 62v1m0 9v2m0 29v4m0 23v6m0 13v1m0 11v2m0 11v2m0 20v1m0 2v2m0 13v2m0 1v2m0 26v1m0 19v1m0 11v6m0 1v2m0 8v1m0 11v2m0 16v4m0 2v2m0 3v2m0 4v3m0 2v2m0 14v2m0 18v2m0 42v3m0 8v1M265 93v2m0 2v2m0 38v2m0 31v1m0 28v1m0 66v1m0 40v2m0 13v2m0 34v2m0 12v2m0 6v2m0 12v2m0 5v2m0 15v2m0 29v1m0 80v2m0 4v1m0 9v2m0 6v2m0 39v2m0 31v2m0 16v2m0 5v2m0 9v2m0 4v2m0 52v2m0 2v1m0 33v2M276 112v1m0 13v5m0 13v2m0 7v2m0 5v2m0 4v2m0 21v2m0 15v2m0 12v2m0 4v1m0 10v3m0 24v2m0 18v1m0 8v2m0 32v2m0 2v2m0 14v2m0 7v2m0 2v2m0 5v2m0 23v2m0 15v2m0 48v2m0 26v3m0 8v1m0 18v4m0 9v2m0 11v3m0 19v3m0 9v2m0 2v2m0 25v2m0 45v2m0 4v1m0 10v1m0 20v2m0 22v3m0 19v1m0 11v4m0 5v2m0 15v1M292 92v3m0 6v1m0 6v2m0 11v1m0 11v2m0 7v2m0 16v2m0 6v2m0 16v2m0 56v2m0 5v2m0 13v1m0 6v2m0 1v2m0 6v1m0 8v3m0 15v2m0 9v2m0 3v2m0 14v2m0 6v2m0 3v2m0 22v5m0 13v2m0 20v1m0 8v1m0 28v5m0 29v2m0 4v1m0 35v3m0 24v2m0 58v2m0 9v1m0 17v2m0 7v2m0 9v2m0 3v2m0 20v2m0 1v2m0 2v2m0 13v1m0 4v2m0 2v1m0 8v2m0 18v1M303 160v2m0 11v2m0 2v2m0 5v4m0 36v2m0 27v2m0 27v2m0 12v4m0 7v2m0 9v4m0 11v1m0 44v4m0 41v2m0 24v1m0 2v2m0 15v3m0 4v2m0 21v2m0 16v2m0 6v2m0 5v2m0 14v2m0 24v3m0 31v2m0 34v2m0 33v2m0 19v2m0 27v4m0 9v2m0 9v2M319 86v4m0 16v2m0 20v2m0 29v1m0 13v2m0 13v1m0 24v2m0 18v2m0 2v1m0 29v2m0 16v2m0 2v2m0 31v2m0 72v4m0 29v1m0 11v2m0 6v1m0 33v2m0 16v2m0 7v2m0 9v2m0 40v2m0 25v2m0 14v2m0 29v2m0 16v2m0 7v2m0 13v2m0 21v2m0 18v2M330 93v2m0 7v2m0 44v2m0 30v2m0 18v2m0 9v2m0 7v2m0 44v3m0 2v4m0 1v2m0 20v2m0 2v2m0 25v2m0 5v2m0 11v2m0 3v2m0 9v2m0 11v2m0 3v2m0 2v2m0 12v2m0 15v2m0 18v2m0 1v2m0 6v1m0 9v2m0 9v2m0 13v2m0 3v2m0 18v4m0 18v4m0 1v4m0 16v2m0 2v2m0 23v2m0 7v2m0 9v4m0 16v2m0 49v2m0 5v2m0 2v2m0 14v2m0 13v1m0 9v2m0 9v2m0 7v2M346 85v1m0 4v2m0 9v1m0 22v2m0 5v2m0 27v2m0 20v2m0 20v2m0 9v2m0 1v2m0 4v2m0 3v2m0 18v2m0 22v2m0 1v4m0 4v1m0 13v2m0 7v2m0 9v2m0 4v1m0 2v2m0 36v2m0 16v2m0 9v2m0 9v2m0 34v2m0 33v2m0 1v2m0 7v4m0 29v4m0 7v2m0 27v2m0 41v2m0 4v2m0 7v2m0 54v2m0 31v2m0 5v2m0 47v4M357 97v2m0 40v2m0 16v2m0 43v2m0 20v2m0 5v2m0 9v2m0 69v1m0 17v2m0 34v4m0 21v2m0 60v2m0 27v2m0 38v2m0 5v2m0 11v2m0 11v3m0 22v2m0 14v2m0 45v2m0 6v1m0 24v2m0 58v2m0 12v2M373 92v1m0 20v4m0 4v1m0 11v2m0 15v1m0 17v2m0 1v2m0 33v2m0 23v6m0 12v4m0 23v2m0 11v2m0 7v2m0 9v2m0 89v1m0 57v1m0 33v4m0 14v2m0 11v2m0 11v1m0 2v4m0 2v1m0 6v2m0 34v2m0 14v2m0 2v2m0 4v1m0 6v2m0 23v2m0 58v2m0 32v2m0 2v2M384 85v1m0 29v2m0 2v3m0 4v2m0 7v2m0 14v2m0 24v2m0 3v2m0 2v2m0 7v2m0 16v2m0 27v4m0 7v2m0 65v2m0 23v2m0 11v2m0 7v4m0 5v2m0 47v2m0 27v2m0 7v2m0 5v2m0 13v2m0 65v4m0 5v2m0 11v1m0 86v1m0 33v2m0 22v3m0 6v1m0 19v1M400 146v4m0 5v2m0 14v2m0 24v2m0 39v4m0 2v2m0 9v1m0 28v1m0 57v1m0 29v2m0 33v2m0 18v2m0 61v2m0 2v2m0 7v2m0 47v2m0 2v1m0 11v2m0 2v2m0 18v3m0 6v2m0 9v2m0 9v1m0 20v2m0 7v2m0 9v2m0 6v1m0 2v2m0 14v2m0 17v1m0 8v1m0 15v2m0 21v4M411 121v1m0 15v2m0 99v2m0 15v1m0 13v2m0 49v2m0 58v2m0 23v2m0 56v2m0 138v1m0 6v2m0 29v2m0 12v2m0 62v1m0 6v2m0 7v2m0 45v2M427 92v1m0 9v2m0 11v2m0 11v2m0 12v2m0 2v2m0 14v2m0 22v2m0 1v2m0 24v2m0 5v2m0 54v2m0 27v2m0 11v2m0 11v1m0 4v2m0 3v4m0 2v2m0 18v2m0 5v4m0 2v1m0 20v4m0 22v1m0 2v4m0 16v2m0 40v4m0 16v2m0 9v2m0 9v1m0 19v3m0 4v2m0 21v2m0 16v2m0 37v1m0 13v2m0 14v2m0 2v2m0 12v2m0 22v2m0 20v2m0 25v2M438 119v2m0 5v4m0 1v2m0 11v2m0 16v2m0 33v2m0 1v2m0 18v2m0 4v1m0 26v2m0 14v2m0 29v2m0 12v2m0 46v1m0 13v2m0 14v2m0 15v2m0 3v2m0 38v2m0 31v3m0 8v1m0 6v2m0 10v2m0 22v2m0 14v2m0 13v2m0 16v2m0 3v2m0 29v2m0 27v2m0 9v2m0 11v2m0 41v2m0 24v1m0 6v2m0 7v2M454 104v2m0 38v2m0 5v4m0 2v2m0 16v2m0 11v1m0 26v2m0 1v2m0 6v1m0 17v2m0 3v4m0 5v2m0 29v2m0 14v2m0 11v2m0 11v2m0 10v2m0 2v2m0 27v2m0 11v2m0 1v2m0 11v2m0 13v3m0 13v2m0 3v2m0 2v2m0 2v1m0 8v1m0 2v2m0 18v2m0 2v2m0 12v2m0 24v2m0 1v2m0 7v2m0 4v2m0 5v2m0 4v3m0 2v2m0 36v2m0 9v2m0 34v2m0 14v2m0 18v2m0 22v2m0 2v1m0 8v1m0 2v2m0 15v1m0 6v2M465 93v2m0 13v2m0 20v1m0 26v2m0 3v2m0 16v4m0 74v2m0 11v2m0 31v1m0 8v3m0 6v2m0 1v2m0 49v2m0 14v2m0 24v2m0 45v2m0 27v2m0 2v3m0 33v2m0 23v2m0 33v1m0 24v2m0 40v1m0 2v2m0 20v4m0 10v2m0 20v2M481 92v3m0 71v2m0 11v1m0 44v2m0 1v2m0 6v2m0 54v2m0 18v2m0 5v2m0 2v2m0 3v2m0 9v2m0 61v2m0 6v2m0 16v2m0 5v2m0 29v2m0 3v2m0 6v3m0 20v2m0 25v4m0 24v1m0 11v2m0 16v2m0 42v2m0 14v2m0 7v2m0 11v4m0 7v2m0 21v2m0 13v3m0 31v2m0 4v1m0 2v2M497 95v2m0 9v2m0 25v2m0 18v2m0 7v2m0 33v2m0 5v4m0 10v2m0 17v1m0 49v2m0 36v2m0 27v2m0 2v2m0 16v2m0 4v1m0 17v1m0 4v2m0 11v2m0 12v2m0 6v1m0 29v2m0 7v2m0 11v2m0 23v2m0 22v2m0 9v2m0 3v2m0 9v4m0 11v2m0 39v2m0 131v1M508 85v1m0 29v2m0 9v2m0 14v4m0 4v1m0 11v4m0 38v2m0 9v2m0 20v1m0 2v2m0 24v1m0 2v2m0 9v2m0 18v4m0 79v2m0 4v2m0 49v1m0 20v2m0 2v2m0 2v1m0 17v3m0 17v1m0 4v2m0 5v2m0 15v1m0 9v2m0 2v2m0 4v1m0 17v1m0 2v2m0 7v2m0 4v2m0 23v2m0 5v2m0 11v2m0 5v2m0 20v2m0 7v2m0 2v2m0 1v2m0 4v2m0 29v1m0 38v4M524 119v2m0 1v4m0 4v1m0 4v2m0 4v1m0 75v1m0 19v1m0 11v2m0 7v2m0 11v2m0 2v1m0 9v2m0 11v2m0 2v2m0 34v2m0 16v2m0 42v1m0 42v4m0 11v1m0 4v2m0 2v5m0 4v2m0 10v2m0 60v2m0 23v2m0 15v2m0 3v4m0 5v2m0 2v2m0 14v2m0 13v2m0 45v2m0 1v9m0 13v2m0 13v1m0 6v2m0 3v2m0 13v3M535 92v1m0 4v2m0 5v4m0 5v2m0 9v2m0 54v2m0 64v1m0 6v2m0 7v2m0 56v2m0 31v1m0 2v2m0 36v2m0 2v2m0 56v3m0 4v2m0 4v1m0 4v4m0 34v2m0 9v2m0 5v2m0 34v2m0 7v4m0 4v2m0 25v2m0 31v1m0 6v2m0 30v2m0 7v2m0 15v2m0 38v3m0 7v2m0 6v2M551 106v2m0 2v2m0 14v2m0 7v2m0 36v2m0 13v1m0 42v2m0 5v2m0 6v1m0 26v2m0 10v2m0 2v2m0 36v2m0 4v1m0 2v2m0 4v1m0 2v2m0 6v1m0 2v2m0 2v2m0 5v2m0 5v2m0 38v2m0 20v2m0 34v2m0 14v2m0 17v1m0 11v2m0 7v2m0 20v4m0 12v4m0 11v2m0 2v1m0 15v2m0 18v2m0 30v2m0 29v2m0 16v4m0 7v2m0 22v2m0 5v2M562 85v1m0 2v2m0 23v2m0 11v2m0 7v2m0 4v1m0 8v1m0 15v2m0 21v2m0 9v2m0 33v2m0 19v2m0 20v2m0 4v1m0 11v2m0 6v1m0 2v4m0 22v1m0 11v2m0 15v1m0 24v2m0 12v4m0 16v2m0 4v3m0 20v2m0 26v1m0 11v2m0 25v2m0 8v1m0 11v2m0 22v2m0 9v1m0 11v2m0 7v2m0 18v2m0 18v2m0 13v2m0 3v4m0 22v1m0 2v2m0 20v2m0 3v2m0 9v2m0 2v2m0 9v2m0 1v2m0 4v2M578 88v2m0 16v2m0 2v3m0 28v1m0 28v1m0 15v2m0 32v2m0 56v2m0 4v1m0 11v2m0 11v2m0 32v4m0 9v2m0 9v4m0 3v2m0 35v1m0 22v2m0 4v1m0 8v5m0 36v2m0 11v2m0 3v6m0 11v2m0 5v5m0 13v2m0 20v2m0 40v1m0 37v1m0 46v1M589 148v2m0 47v2m0 27v1m0 2v2m0 6v1m0 2v2m0 2v2m0 36v2m0 12v2m0 7v2m0 29v2m0 11v4m0 3v2m0 34v4m0 7v2m0 18v2m0 9v2m0 4v1m0 6v2m0 9v1m0 4v2m0 4v1m0 13v2m0 18v2m0 67v2m0 7v2m0 5v2m0 16v2m0 20v4m0 11v1m0 31v2m0 2v3m0 18v2m0 11v2m0 22v2M605 88v2m0 9v3m0 24v2m0 11v2m0 10v2m0 20v2m0 9v2m0 16v2m0 18v4m0 5v2m0 40v5m0 46v3m0 11v2m0 11v2m0 1v2m0 13v2m0 1v2m0 22v2m0 5v2m0 31v2m0 12v2m0 13v2m0 65v4m0 1v2m0 4v2m0 45v2m0 2v1m0 11v2m0 13v2m0 3v2m0 7v2m0 2v2m0 54v2m0 13v3M616 90v2m0 27v2m0 47v2m0 3v2m0 36v4m0 14v2m0 49v2m0 18v2m0 7v2m0 3v4m0 24v1m0 24v2m0 3v2m0 4v2m0 2v1m0 11v2m0 2v2m0 18v2m0 10v2m0 4v2m0 21v2m0 2v2m0 16v2m0 11v2m0 2v1m0 2v2m0 9v2m0 42v1m0 8v1m0 13v2m0 5v2m0 16v2m0 4v2m0 14v2m0 54v2m0 9v2m0 40v2m0 9v2m0 14v6M632 102v2m0 55v1m0 42v4m0 5v2m0 7v2m0 5v2m0 2v4m0 7v2m0 7v4m0 9v2m0 3v2m0 5v2m0 7v2m0 53v2m0 14v2m0 4v1m0 2v2m0 22v2m0 1v2m0 22v2m0 14v4m0 7v2m0 78v2m0 32v2m0 9v2m0 5v2m0 18v2m0 13v4m0 5v2m0 9v2m0 3v4m0 43v2m0 4v2m0 12v2m0 7v2m0 11v2m0 22v1m0 17v2M643 90v2m0 9v1m0 46v2m0 9v1m0 13v2m0 2v2m0 20v1m0 38v2m0 16v2m0 22v2m0 3v2m0 2v2m0 22v1m0 28v3m0 15v2m0 5v2m0 13v3m0 20v2m0 4v1m0 9v2m0 11v2m0 5v2m0 2v4m0 29v1m0 15v2m0 2v3m0 18v2m0 22v2m0 40v1m0 6v2m0 7v3m0 11v2m0 11v2m0 5v2m0 2v2m0 5v2m0 18v4m0 12v2m0 4v2m0 25v2m0 2v1m0 11v2m0 6v3m0 4v2M659 86v2m0 2v2m0 1v4m0 13v2m0 29v1m0 47v2m0 24v2m0 9v1m0 4v2m0 5v2m0 26v1m0 20v6m0 3v2m0 11v2m0 11v2m0 41v2m0 16v2m0 15v1m0 51v2m0 38v2m0 2v2m0 3v2m0 25v2m0 4v2m0 12v2m0 7v2m0 13v2m0 20v1m0 22v2m0 29v2m0 12v2m0 22v2m0 31v1m0 6v2m0 3v2m0 7v2m0 9v2m0 9v2M670 92v1m0 6v2m0 12v2m0 2v2m0 9v2m0 16v2m0 7v2m0 23v2m0 7v2m0 11v2m0 5v4m0 18v2m0 2v2m0 23v2m0 18v2m0 3v2m0 33v2m0 9v2m0 18v2m0 5v2m0 3v2m0 15v2m0 12v2m0 16v2m0 9v2m0 7v2m0 24v1m0 20v2m0 6v1m0 48v1m0 9v2m0 18v4m0 11v2m0 36v2m0 29v2m0 14v2m0 36v2m0 7v4M686 85v1m0 16v2m0 6v2m0 1v2m0 2v2m0 2v3m0 17v1m0 4v2m0 23v2m0 11v2m0 25v2m0 11v2m0 23v2m0 5v2m0 33v4m0 14v2m0 5v2m0 13v2m0 5v2m0 23v2m0 6v1m0 26v2m0 12v2m0 29v2m0 13v1m0 24v2m0 7v4m0 5v2m0 33v3m0 2v2m0 5v2m0 13v2m0 18v2m0 3v2m0 11v2m0 3v2m0 24v1m0 35v2m0 5v2m0 45v2m0 38v2M697 93v2m0 6v3m0 31v2m0 9v2m0 12v2m0 2v2m0 22v3m0 15v2m0 14v2m0 5v2m0 22v2m0 29v1m0 48v1m0 15v2m0 9v2m0 1v2m0 6v3m0 13v2m0 5v2m0 18v2m0 9v2m0 11v2m0 10v4m0 36v2m0 22v2m0 14v4m0 29v2m0 7v2m0 3v2m0 6v1m0 42v2m0 20v2m0 14v2m0 14v2m0 11v4m0 1v2m0 37v1M740 95v2m0 7v2m0 13v2m0 30v2m0 22v2m0 12v2m0 11v2m0 2v2m0 65v2m0 7v3m0 6v2m0 16v2m0 22v1m0 11v2m0 4v3m0 4v2m0 25v2m0 4v1m0 6v2m0 5v2m0 18v2m0 14v2m0 13v2m0 1v2m0 6v2m0 38v1m0 19v1m0 20v2m0 16v2m0 42v2m0 16v2m0 27v2m0 7v2m0 11v2m0 10v2m0 2v2m0 9v2m0 2v1m0 4v2m0 16v2M751 86v2m0 27v2m0 60v2m0 3v2m0 2v2m0 12v2m0 20v2m0 20v3m0 6v2m0 30v2m0 8v1m0 40v2m0 7v6m0 9v2m0 16v4m0 3v2m0 25v2m0 11v2m0 14v2m0 18v2m0 9v2m0 9v2m0 13v3m0 15v1m0 17v3m0 4v2m0 13v1m0 2v2m0 27v4m0 2v1m0 4v2m0 9v2m0 3v2m0 67v2m0 27v4m0 2v1m0 4v2m0 7v2m0 27v2"/>
<path stroke="#481a6c" stroke-width="5" d="M124.5 117v2m0 32v2m0 80v2m0 186v2m0 15v2m0 172v2m0 106v2m0 33v2m0 1v2M135.5 106v2m0 43v2m0 4v2m0 36v4m0 10v2m0 9v2m0 22v2m0 25v2m0 16v2m0 9v2m0 14v2m0 15v1m0 51v2m0 16v2m0 2v2m0 7v2m0 9v2m0 3v2m0 13v2m0 1v2m0 2v2m0 23v2m0 4v2m0 27v2m0 40v1m0 6v2m0 3v2m0 18v2m0 5v2m0 35v3m0 6v2m0 27v2m0 30v2m0 29v2m0 16v2m0 2v2m0 5v2M146.5 99v2m0 5v4m0 23v2m0 31v4m0 41v2m0 13v1m0 13v2m0 7v2m0 5v4m0 2v2m0 21v2m0 11v7m0 6v5m0 11v2m0 9v2m0 7v2m0 14v2m0 2v2m0 34v2m0 53v3m0 22v2m0 25v2m0 5v2m0 2v2m0 2v2m0 3v2m0 2v3m0 6v2m0 1v4m0 15v1m0 2v6m0 16v2m0 5v2m0 7v2m0 25v2m0 2v2m0 16v2m0 7v2m0 29v2m0 16v2m0 11v2m0 3v4M151.5 95v4m0 23v2m0 9v2m0 4v2m0 7v2m0 7v2m0 29v1m0 28v1m0 11v2m0 4v3m0 29v2m0 7v2m0 24v2m0 16v2m0 25v2m0 16v2m0 5v2m0 9v2m0 33v2m0 3v4m0 51v1m0 13v2m0 22v1m0 8v2m0 18v3m0 11v2m0 16v2m0 6v1m0 17v5m0 29v2m0 11v2m0 9v3m0 8v1m0 42v2m0 3v2m0 18v2m0 6v3m0 2v2m0 9v2M162.5 85v1m0 18v2m0 4v2m0 3v2m0 11v2m0 11v1m0 13v2m0 5v2m0 4v2m0 9v1m0 8v1m0 6v2m0 9v2m0 3v2m0 29v2m0 18v2m0 7v2m0 14v2m0 2v4m0 1v2m0 4v2m0 34v2m0 3v2m0 8v1m0 2v2m0 2v2m0 9v1m0 15v2m0 7v2m0 3v2m0 11v2m0 2v2m0 12v2m0 15v1m0 4v4m0 20v1m0 20v2m0 38v2m0 16v2m0 24v2m0 18v1m0 4v2m0 20v2m0 54v2m0 20v2m0 5v2m0 12v2m0 11v2m0 27v2M173.5 86v2m0 4v1m0 2v2m0 5v4m0 2v2m0 12v2m0 49v2m0 38v4m0 7v3m0 42v2m0 7v2m0 18v2m0 25v2m0 7v2m0 6v1m0 6v2m0 40v1m0 4v2m0 13v1m0 31v2m0 9v2m0 42v1m0 22v2m0 16v2m0 15v1m0 17v1m0 17v2m0 25v4m0 14v2m0 14v2m0 2v2m0 14v4m0 7v2m0 5v4m0 7v4m0 20v2m0 5v2m0 4v1m0 4v2m0 11v1m0 8v2M178.5 86v2m0 20v2m0 9v2m0 20v1m0 4v4m0 29v1m0 2v4m0 14v2m0 2v2m0 11v1m0 2v2m0 9v2m0 4v1m0 6v2m0 39v2m0 2v2m0 49v2m0 18v2m0 3v2m0 7v2m0 2v2m0 18v2m0 29v1m0 28v1m0 6v2m0 11v1m0 6v2m0 40v1m0 67v2m0 35v1m0 46v3m0 13v2m0 2v1m0 4v4m0 2v1m0 13v2m0 23v2m0 9v2M189.5 102v2m0 11v2m0 5v2m0 51v2m0 2v1m0 2v2m0 24v1m0 2v2m0 16v2m0 2v2m0 36v2m0 2v1m0 2v2m0 4v1m0 13v2m0 16v2m0 36v4m0 20v2m0 23v2m0 16v2m0 6v1m0 35v2m0 32v4m0 7v2m0 7v2m0 4v2m0 1v2m0 67v2m0 24v1m0 2v2m0 2v2m0 38v2m0 1v2m0 9v4m0 32v2m0 9v2m0 16v2m0 6v1M200.5 166v2m0 23v2m0 16v2m0 26v1m0 4v2m0 7v2m0 7v2m0 54v2m0 22v2m0 3v2m0 13v2m0 9v1m0 10v1m0 53v2m0 11v1m0 44v2m0 11v1m0 11v2m0 7v2m0 76v2m0 35v1m0 4v4m0 9v1m0 2v4m0 27v2m0 7v2m0 29v2m0 14v2M205.5 90v5m0 9v4m0 11v2m0 30v2m0 31v4m0 70v2m0 62v2m0 12v2m0 2v2m0 34v2m0 22v3m0 38v2m0 16v2m0 2v2m0 18v2m0 7v2m0 5v2m0 4v2m0 9v1m0 6v2m0 29v2m0 3v2m0 7v2m0 4v1m0 4v2m0 38v2m0 7v2m0 31v1m0 40v2m0 20v4m0 20v3m0 9v2m0 2v2M216.5 93v2m0 20v4m0 7v2m0 11v2m0 34v2m0 5v2m0 11v2m0 7v2m0 34v2m0 27v2m0 2v2m0 16v2m0 7v2m0 7v2m0 11v2m0 14v4m0 5v2m0 38v4m0 10v2m0 9v2m0 4v2m0 9v1m0 44v2m0 5v2m0 31v2m0 1v2m0 11v2m0 5v2m0 11v4m0 9v2m0 10v2m0 11v2m0 20v2m0 5v2m0 24v1m0 11v6m0 34v2m0 2v1m0 8v3m0 9v2m0 2v2m0 34v2M227.5 86v2m0 14v2m0 4v2m0 9v2m0 5v2m0 13v1m0 11v4m0 2v1m0 8v3m0 33v2m0 12v2m0 24v3m0 26v2m0 27v2m0 7v2m0 5v2m0 22v3m0 13v2m0 5v2m0 22v2m0 14v2m0 2v2m0 7v3m0 6v2m0 14v2m0 18v2m0 2v2m0 3v2m0 2v2m0 9v1m0 10v1m0 15v2m0 21v2m0 29v2m0 4v1m0 29v4m0 7v2m0 7v4m0 2v2m0 11v1m0 22v2m0 4v1m0 13v2m0 12v6m0 11v2m0 7v2m0 29v3m0 4v2M232.5 112v1m0 8v3m0 13v2m0 34v2m0 24v1m0 2v2m0 2v2m0 27v2m0 3v2m0 22v2m0 18v1m0 10v1m0 4v2m0 3v2m0 7v2m0 17v1m0 29v6m0 7v2m0 16v2m0 13v3m0 17v1m0 8v2m0 1v2m0 24v2m0 5v2m0 7v2m0 29v2m0 58v1m0 26v2m0 16v2m0 16v2m0 18v2m0 2v1m0 11v4m0 11v3m0 4v4m0 43v2m0 7v2m0 9v2M243.5 104v2m0 49v2m0 16v2m0 2v2m0 12v2m0 4v2m0 5v2m0 29v2m0 56v2m0 10v2m0 17v1m0 87v2m0 9v2m0 4v1m0 28v1m0 4v2m0 54v2m0 38v2m0 5v2m0 4v2m0 11v1m0 2v2m0 33v1m0 4v2m0 13v1m0 29v2m0 25v2m0 13v2m0 22v1m0 4v2m0 12v2M254.5 86v2m0 4v1m0 51v6m0 1v4m0 4v1m0 8v2m0 25v2m0 7v2m0 5v2m0 7v4m0 9v2m0 5v2m0 2v2m0 20v3m0 2v2m0 11v1m0 28v3m0 11v6m0 5v2m0 5v2m0 2v5m0 2v4m0 5v2m0 2v2m0 1v2m0 11v2m0 18v2m0 7v2m0 7v2m0 5v2m0 8v1m0 2v2m0 5v2m0 22v4m0 5v2m0 25v2m0 2v2m0 11v1m0 15v3m0 4v2m0 11v2m0 43v6m0 5v2m0 5v2m0 27v2m0 4v1m0 19v1m0 13v2m0 20v2m0 1v2m0 29v2M259.5 85v1m0 7v2m0 4v2m0 3v2m0 4v2m0 7v2m0 36v2m0 30v2m0 9v2m0 7v2m0 13v2m0 52v2m0 13v2m0 34v2m0 12v2m0 11v4m0 40v1m0 10v1m0 22v2m0 51v1m0 11v2m0 11v2m0 3v2m0 26v1m0 17v2m0 43v4m0 5v2m0 2v2m0 1v2m0 38v2m0 27v4m0 13v5m0 2v2m0 7v2m0 20v1m0 2v2m0 7v2M270.5 86v2m0 56v2m0 2v2m0 1v2m0 11v2m0 7v2m0 33v1m0 11v2m0 25v2m0 20v2m0 9v2m0 2v1m0 11v2m0 9v2m0 15v1m0 9v2m0 18v2m0 16v2m0 2v2m0 23v4m0 16v2m0 2v2m0 23v2m0 4v2m0 43v2m0 25v2m0 2v2m0 7v2m0 2v1m0 4v2m0 31v5m0 2v2m0 5v2m0 9v2m0 9v2m0 69v1m0 4v2m0 18v2m0 2v1m0 17v2m0 25v2M281.5 102v2m0 11v2m0 22v2m0 5v2m0 54v4m0 3v2m0 2v2m0 3v2m0 4v2m0 30v2m0 4v2m0 7v2m0 5v2m0 5v2m0 2v2m0 7v2m0 4v1m0 13v2m0 33v1m0 6v2m0 41v6m0 7v2m0 12v2m0 9v4m0 18v2m0 11v2m0 3v2m0 7v2m0 4v2m0 39v2m0 13v2m0 2v1m0 4v2m0 5v2m0 25v2m0 2v2m0 18v2m0 54v2m0 13v1m0 6v3m0 26v2m0 25v4M286.5 93v2m0 29v2m0 18v2m0 13v1m0 15v2m0 18v2m0 7v4m0 25v2m0 5v2m0 9v2m0 7v2m0 9v2m0 23v4m0 24v1m0 26v2m0 30v2m0 18v2m0 6v1m0 6v2m0 16v2m0 49v1m0 2v2m0 36v2m0 13v2m0 11v3m0 36v2m0 40v2m0 29v2m0 2v1m0 40v2m0 18v2M297.5 88v2m0 7v4m0 12v2m0 20v2m0 2v2m0 9v3m0 4v2m0 16v2m0 16v2m0 58v2m0 5v2m0 4v1m0 11v2m0 2v2m0 18v3m0 19v1m0 15v2m0 3v2m0 18v2m0 15v1m0 2v2m0 20v2m0 14v2m0 9v2m0 13v1m0 8v3m0 15v2m0 9v1m0 42v2m0 4v1m0 6v3m0 2v2m0 4v2m0 18v1m0 24v2m0 13v1m0 11v2m0 31v2m0 5v2m0 23v2m0 2v4m0 3v2m0 2v2M308.5 86v2m0 2v2m0 16v2m0 7v2m0 5v2m0 13v2m0 5v2m0 18v2m0 2v1m0 26v2m0 25v2m0 1v2m0 2v2m0 2v2m0 7v3m0 26v2m0 1v2m0 47v2m0 24v2m0 3v2m0 20v2m0 7v2m0 32v2m0 4v2m0 12v2m0 29v2m0 4v1m0 37v1m0 15v2m0 27v4m0 27v2m0 10v2m0 17v1m0 4v2m0 2v1m0 28v1m0 22v2m0 24v1M313.5 92v1m0 11v4m0 14v2m0 22v2m0 79v2m0 13v2m0 31v1m0 2v2m0 31v2m0 9v2m0 10v2m0 7v2m0 4v4m0 32v2m0 7v2m0 27v2m0 29v4m0 21v2m0 2v2m0 42v1m0 24v2m0 7v2m0 27v2m0 58v2m0 10v2m0 89v2m0 9v2M324.5 85v1m0 2v4m0 7v2m0 11v1m0 84v3m0 4v2m0 2v1m0 6v2m0 7v2m0 32v4m0 2v2m0 65v2m0 12v2m0 7v2m0 13v2m0 1v2m0 9v2m0 22v2m0 18v2m0 23v2m0 22v2m0 9v1m0 8v2m0 10v2m0 11v4m0 7v2m0 7v4m0 36v2m0 18v2m0 14v2m0 2v2m0 12v2m0 25v2m0 11v2m0 2v2m0 21v2m0 13v3m0 24v2m0 12v2M335.5 95v2m0 5v2m0 51v2m0 13v1m0 6v3m0 6v2m0 1v2m0 22v2m0 23v2m0 18v2m0 64v1m0 13v2m0 22v1m0 13v2m0 14v2m0 6v1m0 28v1m0 2v4m0 23v4m0 6v1m0 4v2m0 16v2m0 2v2m0 16v2m0 27v2m0 67v2m0 19v2m0 29v2m0 4v2m0 3v2m0 16v2m0 34v2m0 4v2m0 2v1m0 13v2M340.5 101v3m0 8v1m0 38v2m0 38v2m0 36v2m0 16v2m0 7v4m0 13v2m0 3v2m0 49v2m0 11v1m0 29v2m0 2v4m0 18v2m0 3v2m0 11v2m0 5v2m0 24v1m0 46v3m0 8v1m0 2v2m0 31v2m0 29v1m0 26v2m0 3v4m0 9v2m0 22v1m0 8v1m0 29v2m0 2v4m0 52v2m0 20v2M351.5 85v1m0 31v2m0 2v1m0 2v2m0 38v2m0 49v2m0 23v2m0 11v2m0 3v2m0 22v3m0 13v2m0 9v4m0 5v2m0 14v2m0 15v2m0 10v2m0 13v2m0 43v2m0 15v1m0 4v2m0 12v2m0 2v2m0 5v4m0 5v2m0 7v2m0 38v2m0 18v2m0 9v2m0 5v2m0 15v2m0 3v2m0 14v2m0 8v1m0 22v2m0 29v2m0 7v2m0 12v2m0 13v2m0 16v2m0 22v1M362.5 85v1m0 24v2m0 1v2m0 18v2m0 45v2m0 18v2m0 2v2m0 60v1m0 13v2m0 25v4m0 3v2m0 13v2m0 12v2m0 29v2m0 6v1m0 15v2m0 1v2m0 13v2m0 25v2m0 7v2m0 20v2m0 16v2m0 13v3m0 17v1m0 8v1m0 6v2m0 40v3m0 4v2m0 21v4m0 9v2m0 23v2m0 38v2m0 4v1m0 13v2m0 2v3m0 2v2m0 5v2m0 8v1m0 4v2m0 7v2m0 3v2m0 2v2M367.5 85v1m0 33v2m0 23v2m0 83v2m0 29v2m0 4v1m0 11v2m0 11v5m0 22v2m0 31v2m0 39v2m0 13v2m0 7v2m0 38v2m0 11v1m0 9v2m0 26v1m0 4v2m0 9v2m0 14v2m0 7v4m0 2v2m0 9v1m0 8v1m0 8v2m0 38v1m0 6v2m0 23v2m0 9v4m0 38v2m0 3v2m0 25v2m0 4v2m0 10v4m0 6v1M378.5 92v1m0 8v1m0 6v2m0 3v2m0 11v2m0 27v2m0 36v2m0 7v2m0 9v2m0 12v2m0 17v1m0 11v2m0 47v2m0 18v2m0 11v2m0 3v2m0 25v2m0 4v2m0 9v2m0 36v5m0 18v2m0 4v2m0 5v2m0 2v2m0 21v2m0 2v4m0 16v2m0 5v6m0 5v2m0 16v4m0 2v1m0 17v1m0 6v2m0 7v2m0 3v2m0 4v2m0 18v2m0 23v2m0 2v2m0 32v2m0 36v2m0 7v2m0 15v1M389.5 108v2m0 12v2m0 2v2m0 40v2m0 30v2m0 13v2m0 41v2m0 36v2m0 62v2m0 81v2m0 78v2m0 12v2m0 26v1m0 11v2m0 22v2m0 1v2m0 20v4m0 13v1m0 22v2m0 18v2m0 25v2m0 7v2m0 20v2m0 14v2m0 2v2M394.5 93v2m0 51v2m0 20v2m0 16v2m0 12v2m0 11v2m0 31v1m0 4v2m0 7v2m0 2v2m0 7v2m0 14v4m0 2v1m0 8v1m0 40v4m0 9v2m0 61v2m0 7v4m0 24v1m0 26v2m0 21v2m0 6v1m0 11v2m0 7v2m0 6v1m0 22v4m0 7v4m0 3v4m0 36v2m0 2v2m0 5v2m0 7v4m0 3v2m0 9v2m0 7v2m0 6v1m0 4v2m0 31v1m0 15v2m0 12v2m0 6v1M405.5 90v2m0 16v2m0 2v1m0 18v2m0 17v1m0 35v2m0 7v2m0 18v2m0 20v1m0 15v2m0 16v2m0 12v2m0 4v2m0 23v2m0 22v3m0 15v4m0 16v2m0 2v1m0 2v2m0 13v1m0 11v2m0 6v3m0 2v4m0 1v2m0 6v2m0 25v2m0 23v2m0 2v2m0 25v2m0 2v2m0 5v5m0 2v2m0 53v1m0 4v2m0 5v2m0 11v2m0 20v2m0 29v1m0 40v2m0 4v1m0 4v2m0 5v2m0 4v2m0 9v1m0 9v2m0 2v2M416.5 92v1m0 8v1m0 49v2m0 40v2m0 2v3m0 8v1m0 17v1m0 6v2m0 27v2m0 3v4m0 4v1m0 9v2m0 13v2m0 29v2m0 1v2m0 9v4m0 11v2m0 23v2m0 4v1m0 15v2m0 11v1m0 17v2m0 32v4m0 22v1m0 15v2m0 27v2m0 27v2m0 18v2m0 7v2m0 16v2m0 7v2m0 43v4m0 13v1m0 8v1m0 11v2m0 2v4m0 3v2m0 7v2m0 27v2m0 6v1M421.5 99v2m0 12v2m0 9v4m0 20v2m0 3v2m0 5v4m0 22v2m0 30v2m0 2v2m0 69v2m0 1v2m0 2v2m0 7v2m0 7v2m0 23v2m0 24v2m0 12v2m0 9v2m0 16v2m0 15v1m0 10v1m0 17v1m0 17v2m0 27v2m0 21v2m0 47v2m0 35v1m0 20v2m0 2v2m0 2v1m0 47v2m0 18v2m0 2v2m0 14v2m0 27v2M432.5 86v2m0 16v2m0 16v2m0 13v2m0 2v1m0 8v1m0 11v2m0 44v1m0 6v2m0 5v4m0 1v2m0 15v3m0 35v2m0 7v4m0 1v2m0 58v4m0 14v8m0 1v2m0 11v2m0 103v2m0 2v2m0 32v2m0 31v2m0 5v2m0 11v2m0 10v2m0 31v6m0 9v1m0 47v2m0 2v2M443.5 97v2m0 22v1m0 6v2m0 18v3m0 87v2m0 16v2m0 58v2m0 11v4m0 18v2m0 14v2m0 40v2m0 25v2m0 25v2m0 25v2m0 2v2m0 34v2m0 45v2m0 16v2m0 18v2m0 16v2m0 4v2m0 16v2m0 69v1m0 4v2M448.5 139v2m0 12v2m0 4v1m0 10v1m0 4v2m0 3v2m0 2v2m0 5v2m0 2v2m0 18v2m0 1v2m0 13v2m0 11v1m0 11v4m0 13v1m0 4v2m0 43v2m0 13v3m0 37v5m0 4v2m0 12v2m0 16v2m0 2v2m0 25v2m0 9v2m0 81v2m0 4v4m0 72v4m0 25v2m0 2v1m0 10v1m0 2v2m0 13v1m0 20v2m0 9v2m0 5v2m0 15v3m0 15v4M459.5 139v2m0 10v2m0 46v1m0 4v2m0 52v2m0 89v2m0 3v2m0 13v2m0 3v2m0 4v2m0 9v1m0 6v2m0 5v2m0 23v2m0 35v2m0 79v2m0 4v2m0 18v1m0 19v1m0 17v2m0 72v4m0 41v2m0 33v2M470.5 86v2m0 5v2m0 6v1m0 4v2m0 13v5m0 13v2m0 3v2m0 34v2m0 18v2m0 22v2m0 21v4m0 31v2m0 3v2m0 9v4m0 5v2m0 22v2m0 1v2m0 17v1m0 11v2m0 2v3m0 8v2m0 12v2m0 7v2m0 22v2m0 16v2m0 11v1m0 13v6m0 3v2m0 7v2m0 33v2m0 5v2m0 14v2m0 31v2m0 3v2m0 4v2m0 27v2m0 1v2m0 9v2m0 2v2m0 12v2m0 20v2m0 5v2m0 16v2m0 17v1m0 6v2M475.5 90v2m0 10v2m0 8v1m0 20v2m0 47v2m0 38v2m0 2v1m0 2v4m0 11v2m0 5v2m0 3v2m0 20v2m0 13v2m0 29v1m0 17v1m0 4v2m0 4v1m0 58v2m0 24v3m0 18v4m0 27v2m0 9v2m0 9v4m0 49v1m0 22v2m0 13v1m0 17v2m0 7v2m0 27v2m0 7v2m0 25v2m0 31v1m0 2v4M486.5 113v2m0 7v2m0 2v2m0 16v2m0 2v2m0 7v2m0 21v2m0 4v2m0 7v2m0 14v2m0 2v2m0 5v2m0 11v2m0 23v2m0 25v2m0 15v3m0 17v1m0 2v2m0 4v1m0 2v2m0 27v2m0 2v2m0 25v2m0 11v2m0 27v2m0 16v2m0 1v4m0 6v1m0 11v2m0 18v2m0 13v3m0 17v1m0 8v1m0 4v2m0 4v1m0 33v2m0 9v7m0 9v2m0 13v1m0 10v1m0 6v2m0 23v2m0 9v2m0 5v2m0 2v2m0 11v1m0 18v2m0 9v4m0 25v2M491.5 168v2m0 30v2m0 24v1m0 11v2m0 2v2m0 7v2m0 27v2m0 9v2m0 14v2m0 5v2m0 64v2m0 18v1m0 20v2m0 36v2m0 116v2m0 16v2m0 84v1m0 11v2m0 27v2m0 24v1m0 8v1m0 2v2m0 2v2M502.5 90v2m0 5v2m0 32v2m0 8v1m0 46v1m0 6v2m0 2v1m0 6v3m0 18v2m0 2v2m0 25v2m0 20v2m0 34v2m0 9v2m0 25v2m0 74v2m0 17v1m0 13v2m0 20v2m0 11v1m0 9v2m0 2v4m0 7v2m0 21v2m0 9v2m0 15v1m0 2v2m0 15v1m0 53v2m0 47v2m0 1v2m0 26v1m0 29v2m0 2v2m0 4v1M513.5 124v2m0 7v2m0 16v2m0 4v2m0 9v2m0 29v1m0 38v4m0 78v2m0 5v2m0 56v2m0 24v1m0 6v2m0 20v3m0 13v2m0 16v4m0 10v2m0 6v2m0 19v2m0 8v1m0 8v1m0 40v2m0 4v3m0 31v2m0 7v4m0 16v2m0 4v1m0 9v2m0 27v2m0 24v2m0 12v2m0 7v2m0 6v1M518.5 126v2m0 16v2m0 18v2m0 20v2m0 3v2m0 45v2m0 2v2m0 3v2m0 24v2m0 5v2m0 5v2m0 6v1m0 4v5m0 11v2m0 7v2m0 26v1m0 6v2m0 1v2m0 7v2m0 9v2m0 16v2m0 35v3m0 26v2m0 3v2m0 4v1m0 13v2m0 11v3m0 17v2m0 25v2m0 29v2m0 25v4m0 27v2m0 1v2m0 4v2m0 1v4m0 9v2m0 22v1m0 4v2m0 20v2m0 16v2m0 9v2m0 7v2m0 9v2M529.5 97v4m0 9v2m0 43v2m0 3v2m0 29v2m0 4v2m0 1v4m0 11v2m0 7v3m0 6v4m0 1v2m0 26v1m0 55v2m0 1v2m0 20v2m0 14v2m0 2v2m0 25v2m0 7v2m0 2v2m0 32v4m0 2v2m0 21v2m0 22v2m0 9v2m0 47v2m0 25v4m0 12v2m0 62v1m0 6v2m0 14v2m0 2v3m0 8v1m0 22v2m0 16v2m0 13v3m0 6v2M540.5 85v3m0 4v1m0 6v2m0 5v4m0 16v2m0 20v2m0 3v2m0 38v2m0 23v2m0 4v2m0 21v2m0 22v2m0 29v2m0 1v2m0 9v2m0 24v1m0 8v3m0 8v3m0 27v2m0 2v2m0 16v2m0 4v5m0 9v2m0 49v3m0 6v2m0 2v1m0 18v4m0 2v2m0 16v2m0 25v2m0 9v2m0 20v2m0 11v3m0 80v2m0 20v1m0 48v1M545.5 175v2m0 11v3m0 35v1m0 13v2m0 16v2m0 2v2m0 2v3m0 29v4m0 22v1m0 20v2m0 7v2m0 6v3m0 13v2m0 3v2m0 6v1m0 13v2m0 13v3m0 4v2m0 47v3m0 29v4m0 25v2m0 13v2m0 14v2m0 18v2m0 2v2m0 5v2m0 14v2m0 4v2m0 5v4m0 16v2m0 11v1m0 10v1m0 8v1m0 6v2m0 1v2m0 4v2m0 14v2m0 4v1m0 6v2M556.5 130v1m0 26v2m0 23v2m0 2v2m0 9v2m0 14v2m0 23v2m0 38v2m0 13v2m0 9v1m0 2v2m0 11v2m0 12v2m0 13v2m0 11v1m0 4v4m0 11v1m0 40v2m0 11v2m0 5v2m0 14v2m0 17v1m0 4v2m0 16v2m0 16v2m0 15v1m0 13v2m0 11v2m0 20v1m0 2v2m0 14v2m0 31v2m0 16v2m0 4v1m0 4v2m0 2v3m0 4v2m0 5v2m0 13v1m0 8v2m0 3v2m0 11v2M567.5 88v2m0 9v3m0 6v2m0 16v2m0 3v2m0 11v4m0 60v1m0 11v2m0 33v1m0 33v2m0 65v2m0 9v2m0 29v2m0 14v2m0 9v4m0 38v2m0 14v2m0 2v1m0 4v4m0 3v2m0 4v2m0 10v2m0 13v2m0 11v1m0 19v1m0 19v1m0 11v2m0 7v2m0 15v1m0 29v2m0 11v2m0 23v4m0 7v2m0 2v2m0 2v1m0 11v2m0 15v1m0 4v2m0 23v2M572.5 93v2m0 18v2m0 13v2m0 5v2m0 13v1m0 37v1m0 4v2m0 38v2m0 2v1m0 55v2m0 12v2m0 25v2m0 2v2m0 11v2m0 1v2m0 9v2m0 45v2m0 38v2m0 5v2m0 27v4m0 13v2m0 1v2m0 56v2m0 42v2m0 9v2m0 5v2m0 5v6m0 16v2m0 23v2m0 13v2m0 30v2m0 8v1m0 15v2M583.5 92v1m0 2v2m0 44v1m0 4v2m0 12v2m0 20v2m0 22v2m0 5v2m0 7v2m0 42v1m0 26v2m0 1v2m0 13v2m0 47v2m0 16v2m0 40v1m0 15v2m0 9v2m0 5v2m0 22v1m0 4v2m0 11v2m0 1v2m0 7v2m0 36v2m0 47v2m0 18v2m0 27v2m0 20v4m0 3v2m0 89v2M594.5 95v2m0 2v2m0 1v2m0 44v2m0 3v2m0 2v2m0 3v2m0 2v2m0 21v2m0 6v2m0 5v2m0 5v2m0 24v1m0 29v2m0 2v2m0 2v1m0 28v1m0 19v1m0 17v1m0 6v2m0 5v2m0 5v4m0 9v2m0 9v2m0 2v1m0 8v1m0 37v2m0 18v1m0 24v2m0 5v2m0 9v2m0 2v2m0 7v2m0 7v2m0 7v2m0 9v2m0 1v2m0 11v2m0 5v4m0 4v1m0 8v2m0 5v4m0 30v2m0 15v2m0 57v2m0 13v2m0 5v2m0 2v2m0 14v4m0 3v6M599.5 115v2m0 4v1m0 15v2m0 11v1m0 9v6m0 27v2m0 2v2m0 10v2m0 2v2m0 18v2m0 5v2m0 9v2m0 3v2m0 8v1m0 15v2m0 40v1m0 6v2m0 16v2m0 12v2m0 7v2m0 9v2m0 33v3m0 4v2m0 18v2m0 22v1m0 22v2m0 5v2m0 40v2m0 7v2m0 5v4m0 14v2m0 35v2m0 29v1m0 8v1m0 11v2m0 13v3m0 24v2m0 7v2m0 2v3m0 13v2m0 3v2m0 6v1M610.5 110v2m0 3v2m0 18v2m0 22v1m0 33v2m0 5v2m0 4v2m0 10v2m0 15v2m0 3v2m0 7v2m0 25v2m0 11v2m0 52v2m0 11v2m0 33v1m0 15v2m0 58v2m0 9v1m0 37v1m0 37v2m0 32v2m0 31v3m0 40v2m0 25v4m0 31v2m0 23v2m0 2v3M621.5 115v2m0 20v2m0 16v2m0 51v1m0 8v1m0 11v2m0 9v2m0 18v2m0 2v2m0 12v2m0 11v4m0 5v2m0 7v2m0 16v2m0 9v2m0 22v1m0 4v2m0 36v2m0 13v1m0 2v2m0 58v4m0 9v2m0 14v2m0 29v2m0 23v2m0 2v2m0 11v3m0 18v2m0 11v4m0 9v1m0 33v2m0 9v2m0 2v3m0 6v1m0 9v2m0 9v4m0 11v3m0 13v2m0 7v2M626.5 95v2m0 2v2m0 23v4m0 16v2m0 43v4m0 33v1m0 8v2m0 9v1m0 8v1m0 2v2m0 44v1m0 20v2m0 6v1m0 2v2m0 24v3m0 20v6m0 5v4m0 5v2m0 31v2m0 1v4m0 14v2m0 29v2m0 15v1m0 4v2m0 11v2m0 9v1m0 29v2m0 7v2m0 9v2m0 2v2m0 3v2m0 2v2m0 7v4m0 3v2m0 4v2m0 7v2m0 43v2m0 5v2m0 22v2m0 14v2m0 16v2m0 6v1m0 15v2m0 2v1M637.5 92v1m0 29v2m0 6v1m0 40v2m0 51v2m0 11v3m0 65v2m0 36v4m0 13v2m0 18v2m0 88v6m0 3v2m0 2v2m0 5v2m0 18v2m0 13v2m0 21v2m0 6v3m0 7v2m0 7v2m0 2v4m0 3v2m0 78v2m0 7v2m0 34v2m0 40v2M648.5 95v2m0 11v4m0 29v1m0 35v2m0 5v2m0 5v2m0 16v2m0 15v1m0 15v2m0 16v4m0 3v2m0 6v1m0 9v2m0 9v2m0 13v2m0 45v2m0 27v2m0 3v2m0 29v4m0 7v2m0 9v4m0 12v2m0 22v3m0 10v1m0 2v2m0 2v2m0 18v2m0 39v2m0 2v2m0 36v2m0 2v2m0 38v5m0 4v1m0 6v4m0 5v2m0 16v2m0 14v2m0 35v1M653.5 137v2m0 3v2m0 18v2m0 6v1m0 2v2m0 11v2m0 25v2m0 23v4m0 5v2m0 17v1m0 20v6m0 34v2m0 5v2m0 18v2m0 13v2m0 5v7m0 22v2m0 11v3m0 11v2m0 4v2m0 7v2m0 1v4m0 5v2m0 26v1m0 10v3m0 9v2m0 29v2m0 22v1m0 4v2m0 20v2m0 1v2m0 24v2m0 23v2m0 4v1m0 8v1m0 6v4m0 50v2m0 18v2m0 14v2M664.5 97v2m0 20v2m0 9v1m0 11v2m0 26v1m0 9v2m0 9v2m0 16v2m0 4v2m0 16v2m0 31v1m0 31v2m0 18v2m0 2v2m0 38v3m0 4v2m0 9v2m0 29v1m0 11v2m0 5v2m0 31v2m0 20v2m0 5v2m0 4v1m0 11v2m0 27v2m0 24v1m0 13v2m0 2v2m0 1v2m0 56v2m0 35v1m0 26v3m0 4v2m0 23v2m0 18v2M675.5 102v2m0 17v1m0 60v2m0 33v1m0 2v2m0 44v1m0 31v2m0 7v2m0 7v2m0 18v2m0 18v2m0 2v2m0 63v2m0 14v2m0 2v4m0 5v2m0 16v2m0 11v2m0 11v3m0 29v2m0 5v2m0 15v3m0 6v2m0 5v2m0 23v2m0 4v2m0 16v2m0 12v2m0 6v2m0 16v2m0 5v2m0 2v2m0 7v2m0 9v3m0 2v2m0 20v2m0 5v2m0 3v2m0 4v2m0 11v1m0 9v2M680.5 124v2m0 47v2m0 13v1m0 13v2m0 20v2m0 7v2m0 3v2m0 2v2m0 2v1m0 6v2m0 12v2m0 9v4m0 7v2m0 11v3m0 24v2m0 9v2m0 21v2m0 17v1m0 33v2m0 3v2m0 27v2m0 26v1m0 4v2m0 45v2m0 13v1m0 46v2m0 45v4m0 5v4m0 29v1m0 8v3m0 11v2m0 4v1m0 53v2M691.5 99v2m0 11v1m0 6v2m0 23v2m0 11v3m0 26v2m0 14v2m0 16v2m0 9v2m0 2v2m0 38v1m0 33v4m0 20v1m0 15v5m0 9v2m0 9v2m0 20v2m0 18v2m0 9v2m0 3v2m0 9v2m0 20v2m0 3v2m0 2v2m0 3v2m0 7v2m0 11v2m0 18v2m0 2v2m0 3v2m0 13v1m0 10v1m0 9v2m0 17v1m0 2v2m0 11v2m0 5v2m0 20v2m0 1v2m0 31v2m0 36v2m0 4v1m0 46v1M707.5 86v2m0 2v2m0 1v2m0 33v2m0 12v2m0 2v2m0 14v2m0 2v2m0 3v2m0 13v2m0 1v2m0 11v4m0 12v2m0 29v4m0 9v2m0 31v1m0 22v2m0 40v2m0 1v2m0 4v2m0 3v2m0 27v2m0 15v1m0 26v2m0 43v2m0 14v2m0 2v2m0 29v2m0 38v3m0 73v3m0 77v1m0 9v2m0 9v2M718.5 102v2m0 4v2m0 12v2m0 4v2m0 25v2m0 3v2m0 2v2m0 14v2m0 4v2m0 7v2m0 47v2m0 9v1m0 4v2m0 22v1m0 17v2m0 12v2m0 7v2m0 42v2m0 3v2m0 27v2m0 40v2m0 18v2m0 50v4m0 2v2m0 40v1m0 6v2m0 5v2m0 33v1m0 6v2m0 3v2m0 9v2m0 18v2m0 3v2m0 8v3m0 9v2m0 7v2m0 45v2m0 18v2m0 7v2M729.5 101v1m0 2v2m0 6v1m0 18v2m0 15v2m0 18v2m0 16v2m0 9v2m0 1v4m0 16v2m0 29v2m0 3v2m0 26v1m0 11v2m0 27v2m0 2v2m0 38v2m0 5v2m0 9v2m0 51v1m0 13v2m0 2v1m0 37v2m0 48v2m0 18v2m0 11v2m0 22v1m0 33v2m0 2v2m0 19v2m0 27v2m0 4v2m0 3v2m0 9v2m0 20v2m0 9v2m0 16v2M761.5 97v2m0 11v2m0 34v2m0 14v2m0 2v2m0 36v2m0 3v2m0 2v2m0 2v1m0 40v2m0 2v2m0 2v1m0 17v1m0 4v2m0 4v1m0 28v1m0 38v2m0 2v4m0 7v2m0 2v1m0 24v2m0 21v2m0 37v1m0 2v4m0 49v2m0 7v2m0 3v2m0 25v2m0 13v2m0 18v2m0 7v2m0 7v2m0 31v1m0 13v2m0 9v2m0 9v2m0 7v5m0 4v2m0 2v1m0 6v2m0 34v4m0 12v2M772.5 90v2m0 23v2m0 31v2m0 21v4m0 5v2m0 20v2m0 14v2m0 15v2m0 23v2m0 16v2m0 53v1m0 6v2m0 11v1m0 18v2m0 8v1m0 20v2m0 4v2m0 3v2m0 9v2m0 7v2m0 5v2m0 9v2m0 78v2m0 16v2m0 7v2m0 29v2m0 3v2m0 9v2m0 15v1m0 29v2m0 7v4m0 4v2m0 43v2m0 12v2m0 4v2m0 9v2m0 5v2M799.5 93v2m0 252v2m0 56v4m0 134v2m0 21v2m0 6v1m0 8v2m0 21v2m0 7v2m0 9v2m0 16v2m0 78v2m0 13v1m0 13v2m0 2v1m0 8v2m0 7v2M826.5 86v4m0 11v1m0 20v2m0 7v2m0 2v2m0 9v2m0 5v2m0 24v1m0 4v4m0 9v2m0 1v2m0 16v6m0 20v2m0 1v2m0 4v2m0 3v2m0 2v2m0 3v2m0 9v2m0 2v2m0 38v3m0 28v1m0 13v2m0 34v2m0 11v2m0 20v2m0 7v2m0 18v2m0 10v2m0 4v2m0 12v2m0 9v2m0 15v1m0 22v2m0 9v2m0 3v2m0 15v2m0 50v2m0 15v1m0 13v2m0 5v2m0 2v4m0 54v4m0 7v2M853.5 112v1m0 8v3m0 44v2m0 3v2m0 7v2m0 45v2m0 2v2m0 36v2m0 20v2m0 18v1m0 4v2m0 18v2m0 14v2m0 13v2m0 14v2m0 5v2m0 7v2m0 42v2m0 16v2m0 5v2m0 2v2m0 23v2m0 4v2m0 16v2m0 14v2m0 20v4m0 27v2m0 9v1m0 6v2m0 50v2m0 2v4m0 36v2m0 18v2m0 14v2m0 11v2m0 11v7M880.5 90v2m0 20v1m0 24v2m0 31v3m0 22v2m0 12v2m0 22v2m0 12v2m0 4v2m0 3v2m0 9v2m0 20v2m0 16v2m0 90v2m0 15v2m0 16v2m0 27v2m0 14v2m0 29v2m0 38v2m0 65v2m0 11v3m0 31v2m0 2v2m0 36v3m0 6v2m0 34v2m0 9v2m0 5v2M907.5 102v2m0 18v2m0 4v2m0 9v2m0 29v1m0 2v2m0 2v2m0 38v1m0 15v2m0 18v2m0 1v2m0 26v1m0 13v2m0 14v8m0 25v2m0 25v2m0 2v2m0 5v2m0 2v2m0 1v2m0 4v2m0 12v2m0 22v2m0 9v2m0 16v2m0 5v2m0 5v4m0 18v2m0 11v2m0 27v2m0 7v2m0 43v2m0 25v2m0 17v1m0 18v2m0 2v2m0 69v2m0 25v2m0 2v1M934.5 110v2m0 16v2m0 18v2m0 97v2m0 62v3m0 13v2m0 7v2m0 24v1m0 29v2m0 73v2m0 3v2m0 49v2m0 18v2m0 32v4m0 22v1m0 13v2m0 80v1m0 4v2m0 13v1m0 6v2"/>
<path stroke="#481a6c" stroke-width="6" d="M130 93v2m0 15v2m0 12v2m0 11v2m0 7v2m0 34v2m0 29v2m0 20v2m0 1v2m0 27v2m0 7v4m0 45v2m0 7v2m0 2v2m0 9v2m0 38v2m0 43v2m0 14v2m0 13v2m0 5v2m0 24v1m0 6v2m0 1v2m0 4v2m0 5v2m0 4v1m0 26v2m0 1v2m0 24v2m0 7v2m0 21v2m0 35v1m0 4v2m0 32v2m0 4v2m0 5v4m0 5v2m0 29v2m0 3v2m0 6v1M141 85v3m0 7v2m0 49v2m0 2v1m0 8v1m0 8v2m0 3v2m0 5v2m0 27v2m0 7v2m0 9v2m0 13v2m0 1v2m0 11v2m0 2v2m0 3v4m0 11v1m0 13v2m0 9v2m0 2v1m0 6v2m0 9v3m0 19v1m0 20v4m0 5v2m0 4v5m0 35v5m0 6v1m0 38v2m0 9v2m0 22v2m0 7v4m0 3v2m0 4v1m0 4v2m0 7v2m0 29v2m0 41v4m0 2v2m0 3v2m0 15v1m0 19v1m0 6v2m0 1v4m0 2v2m0 1v2m0 20v2m0 7v2m0 22v2m0 5v2m0 3v4m0 2v2M157 86v2m0 38v4m0 20v3m0 4v2m0 3v2m0 13v2m0 25v4m0 27v2m0 3v2m0 2v2m0 1v2m0 7v2m0 11v2m0 4v3m0 9v2m0 15v1m0 6v2m0 59v2m0 18v2m0 9v2m0 11v2m0 3v2m0 4v2m0 40v1m0 33v2m0 11v1m0 19v1m0 4v4m0 9v2m0 3v4m0 12v2m0 9v2m0 15v1m0 8v2m0 1v2m0 13v5m0 8v1m0 28v1m0 2v2m0 9v2m0 23v2m0 44v1m0 2v2M168 130v3m0 15v2m0 18v2m0 1v2m0 36v2m0 24v2m0 1v2m0 2v2m0 47v2m0 2v1m0 11v2m0 29v4m0 5v2m0 9v4m0 9v1m0 17v2m0 12v2m0 18v2m0 4v1m0 8v2m0 25v2m0 14v2m0 56v2m0 22v2m0 14v2m0 22v1m0 19v1m0 2v2m0 15v1m0 2v2m0 4v1m0 89v2M184 102v2m0 2v2m0 20v2m0 12v2m0 18v2m0 16v2m0 4v2m0 23v2m0 51v2m0 5v2m0 7v2m0 2v1m0 2v2m0 13v2m0 10v2m0 4v2m0 3v2m0 6v1m0 2v2m0 2v2m0 29v1m0 11v2m0 2v2m0 2v1m0 20v2m0 11v2m0 2v1m0 11v2m0 4v2m0 52v2m0 18v2m0 38v2m0 7v2m0 47v2m0 14v2m0 33v2m0 21v2m0 31v2m0 5v2m0 2v2m0 1v2m0 4v2M195 97v4m0 1v2m0 4v2m0 29v2m0 5v2m0 11v1m0 15v2m0 9v2m0 11v1m0 17v1m0 2v2m0 51v2m0 16v2m0 16v4m0 3v2m0 6v1m0 2v4m0 11v3m0 26v1m0 31v2m0 24v1m0 4v2m0 5v2m0 2v2m0 12v2m0 31v2m0 31v2m0 18v1m0 6v2m0 20v1m0 8v2m0 3v4m0 27v4m0 99v2m0 2v2m0 25v2m0 7v4M211 93v2m0 7v2m0 26v1m0 33v2m0 4v3m0 4v2m0 14v4m0 2v1m0 4v2m0 2v1m0 51v2m0 11v2m0 5v2m0 36v4m0 11v1m0 11v2m0 7v2m0 24v2m0 3v4m0 12v4m0 15v1m0 17v3m0 15v2m0 7v2m0 25v2m0 13v1m0 9v2m0 9v2m0 42v2m0 18v2m0 14v2m0 4v1m0 6v3m0 6v2m0 5v2m0 7v2m0 33v1m0 9v4m0 4v1m0 28v1m0 2v4m0 4v1m0 18v2M222 92v1m0 9v2m0 4v2m0 5v2m0 16v2m0 4v2m0 23v4m0 3v2m0 6v1m0 2v4m0 3v2m0 2v2m0 2v5m0 47v2m0 9v4m0 7v2m0 16v2m0 29v7m0 24v2m0 5v2m0 9v2m0 3v2m0 4v2m0 3v4m0 7v4m0 9v2m0 16v2m0 43v2m0 4v1m0 19v1m0 4v2m0 7v2m0 3v2m0 4v2m0 3v4m0 7v2m0 5v2m0 4v2m0 11v3m0 15v2m0 30v2m0 6v1m0 38v2m0 20v2m0 2v2m0 67v1m0 6v2M238 106v2m0 5v2m0 15v1m0 2v2m0 9v2m0 24v1m0 6v2m0 1v4m0 136v2m0 21v2m0 4v2m0 16v2m0 18v2m0 7v2m0 11v2m0 12v2m0 2v2m0 7v4m0 19v2m0 33v4m0 3v2m0 5v2m0 4v2m0 9v3m0 20v4m0 18v2m0 14v2m0 18v2m0 11v2m0 20v2m0 3v2m0 16v2m0 7v4m0 42v1m0 13v2m0 9v2m0 3v2m0 24v3M249 131v2m0 22v2m0 47v4m0 18v1m0 2v2m0 20v2m0 32v2m0 8v1m0 2v2m0 7v4m0 45v2m0 4v1m0 2v2m0 51v2m0 20v1m0 17v1m0 84v5m0 11v2m0 9v2m0 2v1m0 116v2m0 26v3m0 13v2m0 12v2M265 86v2m0 4v1m0 2v2m0 5v2m0 4v2m0 11v1m0 96v2m0 7v2m0 4v2m0 16v2m0 5v2m0 9v2m0 25v2m0 29v2m0 20v2m0 11v1m0 6v2m0 12v2m0 22v2m0 14v2m0 4v1m0 17v2m0 14v2m0 11v2m0 27v2m0 1v2m0 9v2m0 49v2m0 3v2m0 17v1m0 11v2m0 2v2m0 11v1m0 17v2m0 1v2m0 15v1m0 4v2m0 4v1m0 4v2m0 47v2m0 1v2m0 26v1m0 15v2M276 86v2m0 5v2m0 2v2m0 16v2m0 2v2m0 12v2m0 24v1m0 35v4m0 3v2m0 5v4m0 2v2m0 12v8m0 16v3m0 2v2m0 18v2m0 22v2m0 7v2m0 3v2m0 7v2m0 24v3m0 11v2m0 13v3m0 2v2m0 7v2m0 18v2m0 18v2m0 14v2m0 4v2m0 3v2m0 4v2m0 3v2m0 2v2m0 36v2m0 5v2m0 2v2m0 1v2m0 2v2m0 18v2m0 5v2m0 40v2m0 43v2m0 16v2m0 18v2m0 2v2m0 21v2m0 15v1m0 15v2m0 18v2M292 86v2m0 31v2m0 25v2m0 36v2m0 16v2m0 42v1m0 6v3m0 15v2m0 2v1m0 26v2m0 16v2m0 23v2m0 11v2m0 25v2m0 36v2m0 13v3m0 31v2m0 5v2m0 4v2m0 23v2m0 27v2m0 29v2m0 2v5m0 9v2m0 22v2m0 10v4m0 7v2m0 2v2m0 50v2m0 15v2m0 32v2m0 22v2M303 90v2m0 27v2m0 20v3m0 2v2m0 34v2m0 15v1m0 18v4m0 18v2m0 31v2m0 5v2m0 54v2m0 13v2m0 9v1m0 42v2m0 11v2m0 12v2m0 7v2m0 20v2m0 27v2m0 22v1m0 17v3m0 19v1m0 2v2m0 31v2m0 32v2m0 27v2m0 20v2m0 23v2m0 6v1m0 6v3m0 35v2m0 3v2M319 99v2m0 14v2m0 4v1m0 13v2m0 20v2m0 41v2m0 6v1m0 18v2m0 13v2m0 2v1m0 9v2m0 4v4m0 21v2m0 2v2m0 3v2m0 2v4m0 74v2m0 2v3m0 26v1m0 18v2m0 8v1m0 100v2m0 38v2m0 16v2m0 2v3m0 4v2m0 32v4m0 5v2m0 15v2m0 3v2m0 29v2m0 18v2m0 3v2m0 7v2m0 22v2M330 90v2m0 18v2m0 3v2m0 7v2m0 13v2m0 21v2m0 2v2m0 31v1m0 9v2m0 2v4m0 38v1m0 24v2m0 5v2m0 16v2m0 113v1m0 11v2m0 96v2m0 13v1m0 2v2m0 2v2m0 31v1m0 6v2m0 10v2m0 17v3m0 9v2m0 22v2m0 1v2m0 2v2m0 58v2m0 5v2m0 23v2M346 97v2m0 14v2m0 18v4m0 4v1m0 13v4m0 5v2m0 13v3m0 7v2m0 6v2m0 18v1m0 4v2m0 11v2m0 5v2m0 7v2m0 5v4m0 25v2m0 49v2m0 36v2m0 7v2m0 4v1m0 8v1m0 31v2m0 22v2m0 16v2m0 5v2m0 15v1m0 2v2m0 7v2m0 5v2m0 11v2m0 22v2m0 9v1m0 2v2m0 45v2m0 7v2m0 6v3m0 2v2m0 13v1m0 2v4m0 2v1m0 4v2m0 29v2m0 1v2m0 2v2m0 5v4m0 4v1m0 26v3m0 2v2m0 4v1M357 86v2m0 16v2m0 24v1m0 10v1m0 35v2m0 29v1m0 75v1m0 22v2m0 56v2m0 9v2m0 43v2m0 27v2m0 7v2m0 11v2m0 13v1m0 4v2m0 2v2m0 63v2m0 2v1m0 91v2M373 85v3m0 7v2m0 15v1m0 9v2m0 18v2m0 109v2m0 5v2m0 33v1m0 28v1m0 55v2m0 3v2m0 9v4m0 16v2m0 3v2m0 27v2m0 11v2m0 4v1m0 26v2m0 7v2m0 5v2m0 2v1m0 20v2m0 15v2m0 10v2m0 17v1m0 69v2m0 11v2m0 7v2m0 14v2m0 4v1m0 31v2m0 29v2m0 2v2M384 122v2m0 7v2m0 20v2m0 34v2m0 42v2m0 21v2m0 4v2m0 54v2m0 40v2m0 45v2m0 7v2m0 49v3m0 49v2m0 20v2m0 13v1m0 6v2m0 30v2m0 20v2m0 7v2m0 24v1m0 26v2m0 1v2m0 2v5m0 33v2m0 9v2m0 9v2m0 10v2m0 2v2M400 101v3m0 2v2m0 2v3m0 15v3m0 11v2m0 6v1m0 15v4m0 29v1m0 24v2m0 30v2m0 15v2m0 43v2m0 11v2m0 34v4m0 14v2m0 2v2m0 7v2m0 9v2m0 10v2m0 2v2m0 2v1m0 6v2m0 21v2m0 2v2m0 9v2m0 11v1m0 8v2m0 3v2m0 24v1m0 4v2m0 23v2m0 31v2m0 27v2m0 25v2m0 4v1m0 13v2m0 13v1m0 20v2m0 22v3m0 8v2m0 1v2m0 7v2m0 4v2m0 7v2M411 108v2m0 43v2m0 268v2m0 29v2m0 51v1m0 107v2m0 143v2M427 90v2m0 5v2m0 2v1m0 20v2m0 6v1m0 20v2m0 13v2m0 29v2m0 7v2m0 47v1m0 15v2m0 23v2m0 67v2m0 5v2m0 26v1m0 35v4m0 63v2m0 3v4m0 9v2m0 5v2m0 18v6m0 5v2m0 16v6m0 14v2m0 20v2m0 12v2m0 15v2m0 7v7m0 2v2m0 12v2m0 6v1m0 6v2m0 1v2m0 6v3m0 33v2m0 5v2m0 4v1M438 85v1m0 60v4m0 16v2m0 61v2m0 18v2m0 11v2m0 18v2m0 3v4m0 13v1m0 77v1m0 4v2m0 23v2m0 18v2m0 56v2m0 15v1m0 78v2m0 27v2m0 11v2m0 5v4m0 112v2M454 92v1m0 4v4m0 61v2m0 4v3m0 22v2m0 13v1m0 37v1m0 80v2m0 25v2m0 42v2m0 3v2m0 2v2m0 23v2m0 13v2m0 7v2m0 9v2m0 3v2m0 34v2m0 4v2m0 3v2m0 9v2m0 2v2m0 23v2m0 2v2m0 32v2m0 22v2m0 3v2m0 5v2m0 20v2m0 2v2m0 39v2m0 9v2m0 31v2M465 142v2m0 53v2m0 9v1m0 42v2m0 36v2m0 33v1m0 15v2m0 9v2m0 14v2m0 14v2m0 44v1m0 55v2m0 9v2m0 68v2m0 27v2m0 24v3m0 13v2m0 5v2m0 7v2m0 11v2m0 14v2m0 6v1m0 13v4m0 3v2m0 11v2m0 11v2m0 16v2m0 9v2m0 1v2m0 2v2M481 90v2m0 3v2m0 5v2m0 4v4m0 9v1m0 2v2m0 22v2m0 1v2m0 6v1m0 24v2m0 16v2m0 13v1m0 11v2m0 35v1m0 6v2m0 9v1m0 17v2m0 9v1m0 57v1m0 10v1m0 2v2m0 24v1m0 8v1m0 38v2m0 11v2m0 7v2m0 9v2m0 11v2m0 29v1m0 13v2m0 9v2m0 36v2m0 20v2m0 27v3m0 6v2m0 23v2m0 24v3m0 29v2m0 4v1m0 4v2M497 113v2m0 6v1m0 9v2m0 6v2m0 34v2m0 7v2m0 14v2m0 7v4m0 4v1m0 2v2m0 4v1m0 4v2m0 23v2m0 6v2m0 29v1m0 15v2m0 7v2m0 2v1m0 26v2m0 16v2m0 45v2m0 7v2m0 2v1m0 6v2m0 20v1m0 8v2m0 9v1m0 9v2m0 31v2m0 4v1m0 2v2m0 4v1m0 24v5m0 6v2m0 154v1m0 8v2m0 21v2M508 93v4m0 4v1m0 8v2m0 1v2m0 26v1m0 26v3m0 2v4m0 20v2m0 21v2m0 7v2m0 31v2m0 23v2m0 44v1m0 11v2m0 6v1m0 2v2m0 2v2m0 23v2m0 22v3m0 4v2m0 9v3m0 8v2m0 30v2m0 13v2m0 23v2m0 42v2m0 92v4m0 47v1m0 8v2m0 29v3m0 20v2M524 102v2m0 60v2m0 38v2m0 18v2m0 18v2m0 34v2m0 5v2m0 65v2m0 18v2m0 35v1m0 15v5m0 6v2m0 32v2m0 5v2m0 9v2m0 15v1m0 6v2m0 30v2m0 4v2m0 16v2m0 63v2m0 2v2m0 36v2m0 2v3m0 27v2m0 11v2m0 7v2m0 4v1m0 18v2M535 85v1m0 33v2m0 16v4m0 10v2m0 4v2m0 5v2m0 31v2m0 110v5m0 8v2m0 12v2m0 34v2m0 22v2m0 9v2m0 2v1m0 18v4m0 74v2m0 4v2m0 34v2m0 11v2m0 9v1m0 10v1m0 8v1m0 20v2m0 13v2m0 20v1m0 8v1m0 6v2m0 18v2m0 3v2m0 4v1m0 10v1m0 24v2m0 14v2m0 4v1m0 4v2M551 88v2m0 9v2m0 11v3m0 4v2m0 9v1m0 6v4m0 16v2m0 16v2m0 5v2m0 13v2m0 18v1m0 2v2m0 5v2m0 6v2m0 12v2m0 15v1m0 9v2m0 2v2m0 22v3m0 2v2m0 5v2m0 6v1m0 4v2m0 23v2m0 7v2m0 18v2m0 20v2m0 4v1m0 13v2m0 5v4m0 7v2m0 2v2m0 1v2m0 6v1m0 26v2m0 83v2m0 7v2m0 18v2m0 27v2m0 7v4m0 2v3m0 31v2m0 3v2m0 16v2m0 18v2m0 36v2m0 2v2m0 4v1M562 146v2m0 25v2m0 9v2m0 36v2m0 13v1m0 13v2m0 7v2m0 14v2m0 24v2m0 14v2m0 9v2m0 3v2m0 7v2m0 62v2m0 5v2m0 4v1m0 15v2m0 5v4m0 16v4m0 25v2m0 60v2m0 5v2m0 36v2m0 16v2m0 47v2m0 11v2m0 38v1m0 4v2m0 38v2M578 92v1m0 15v2m0 14v2m0 2v2m0 23v2m0 2v2m0 1v4m0 2v2m0 11v1m0 13v2m0 40v2m0 12v2m0 15v3m0 35v1m0 9v2m0 9v4m0 7v4m0 18v2m0 2v1m0 15v2m0 29v2m0 5v2m0 7v2m0 3v2m0 22v2m0 11v2m0 7v2m0 10v2m0 17v1m0 57v1m0 4v2m0 3v2m0 2v4m0 7v2m0 20v2m0 1v2m0 4v3m0 6v3m0 10v1m0 6v2m0 5v2m0 3v2m0 6v2m0 9v3m0 47v2m0 4v2m0 3v2M589 90v2m0 3v2m0 27v2m0 29v4m0 9v2m0 1v2m0 31v2m0 7v2m0 18v2m0 7v2m0 2v1m0 11v2m0 24v1m0 4v4m0 34v2m0 13v1m0 19v1m0 6v2m0 1v2m0 6v2m0 7v2m0 14v2m0 65v2m0 11v2m0 5v2m0 13v1m0 4v2m0 13v1m0 20v2m0 54v2m0 9v2m0 9v2m0 5v2m0 13v2m0 7v2m0 13v1m0 11v2m0 11v2m0 21v2m0 2v2m0 22v1m0 6v2M605 95v2m0 5v2m0 29v6m0 3v2m0 22v2m0 11v1m0 2v2m0 27v2m0 2v2m0 12v2m0 9v2m0 4v1m0 9v6m0 4v3m0 18v2m0 16v2m0 6v1m0 17v2m0 9v1m0 35v2m0 21v2m0 9v2m0 18v4m0 16v2m0 7v2m0 51v2m0 7v2m0 16v2m0 9v4m0 1v2m0 11v5m0 20v4m0 5v2m0 13v2m0 3v2m0 53v2m0 3v2m0 31v2m0 20v1m0 18v2m0 6v2M616 101v1m0 15v2m0 56v2m0 11v1m0 17v2m0 12v4m0 31v1m0 2v4m0 13v1m0 2v2m0 49v2m0 5v2m0 13v2m0 10v4m0 45v2m0 9v2m0 16v2m0 56v2m0 4v2m0 1v2m0 15v2m0 19v6m0 2v2m0 5v2m0 11v1m0 2v2m0 16v2m0 15v2m0 18v1m0 8v2m0 5v2m0 7v2m0 2v1m0 6v2m0 3v2m0 4v2m0 5v2m0 52v2m0 15v1M632 85v1m0 22v2m0 12v2m0 29v4m0 18v2m0 32v2m0 26v1m0 98v2m0 31v2m0 12v2m0 18v2m0 24v1m0 6v2m0 50v2m0 18v4m0 2v2m0 16v2m0 5v2m0 5v2m0 4v2m0 5v2m0 4v1m0 22v2m0 27v2m0 4v3m0 87v2m0 5v2m0 9v2m0 20v2M643 92v1m0 13v2m0 7v2m0 22v2m0 5v2m0 14v2m0 7v2m0 2v2m0 9v3m0 15v2m0 7v2m0 18v2m0 32v2m0 2v2m0 20v2m0 16v2m0 11v1m0 4v2m0 18v2m0 21v2m0 6v2m0 12v2m0 18v2m0 49v2m0 7v2m0 5v4m0 3v2m0 37v1m0 11v2m0 4v1m0 11v2m0 2v2m0 49v2m0 16v2m0 18v2m0 5v4m0 12v4m0 9v2m0 11v1m0 10v1m0 18v2m0 11v2M659 88v2m0 29v2m0 29v1m0 2v2m0 7v2m0 2v2m0 5v2m0 11v2m0 12v2m0 27v2m0 2v2m0 29v2m0 34v2m0 36v2m0 5v2m0 6v1m0 58v2m0 9v2m0 4v1m0 20v2m0 6v1m0 8v2m0 54v2m0 14v2m0 5v2m0 51v2m0 2v1m0 8v2m0 1v2m0 4v5m0 7v2m0 2v4m0 9v3m0 35v2m0 1v2m0 6v1m0 28v1m0 8v2m0 9v1m0 4v5M670 122v2m0 40v2m0 29v2m0 9v2m0 12v4m0 9v2m0 9v2m0 10v2m0 11v2m0 31v2m0 1v2m0 4v2m0 11v1m0 22v2m0 27v2m0 13v1m0 19v1m0 28v1m0 6v2m0 27v2m0 5v2m0 13v3m0 2v4m0 5v4m0 32v2m0 6v1m0 31v2m0 2v2m0 9v1m0 31v2m0 31v2m0 32v2m0 4v2m0 21v2m0 7v2m0 13v2m0 3v2M686 90v2m0 32v2m0 18v2m0 13v1m0 6v2m0 21v2m0 2v2m0 2v2m0 1v2m0 2v2m0 27v2m0 31v3m0 4v2m0 10v2m0 11v2m0 2v2m0 16v2m0 29v2m0 16v2m0 23v2m0 24v1m0 33v2m0 3v2m0 4v2m0 2v1m0 15v2m0 3v2m0 11v2m0 3v2m0 42v2m0 11v1m0 46v2m0 21v2m0 18v2m0 7v2m0 13v2m0 5v2m0 2v1m0 48v1m0 4v2m0 2v1M697 86v2m0 7v2m0 24v1m0 6v2m0 3v2m0 2v2m0 11v1m0 6v3m0 24v2m0 29v2m0 30v2m0 6v1m0 62v2m0 20v2m0 12v2m0 24v2m0 19v2m0 13v2m0 16v2m0 4v1m0 22v2m0 7v2m0 2v2m0 1v2m0 27v2m0 6v1m0 8v3m0 20v2m0 11v2m0 3v2m0 26v1m0 2v2m0 2v3m0 11v2m0 9v2m0 45v2m0 6v1m0 4v2m0 3v2m0 20v2m0 14v2m0 4v2m0 9v3m0 8v3M740 113v2m0 6v1m0 60v2m0 20v2m0 2v1m0 18v2m0 8v1m0 20v2m0 9v2m0 65v2m0 22v2m0 45v2m0 11v3m0 29v2m0 9v2m0 110v2m0 6v3m0 6v2m0 7v2m0 9v2m0 25v4m0 7v2m0 29v1m0 20v2m0 7v2m0 4v2m0 1v2m0 9v2m0 7v2m0 7v2m0 2v2m0 13v1M751 92v3m0 4v2m0 29v1m0 26v2m0 21v2m0 7v2m0 6v3m0 60v2m0 13v1m0 13v2m0 7v2m0 51v2m0 21v2m0 24v1m0 22v2m0 11v2m0 11v1m0 20v2m0 31v2m0 3v2m0 15v2m0 10v2m0 22v2m0 11v1m0 31v2m0 9v2m0 13v1m0 8v2m0 29v1m0 27v2m0 20v2m0 4v1m0 35v2"/>
<path stroke="#482475" stroke-width="5" d="M124.5 340v2m0 50v2m0 60v2m0 152v2m0 154v2M135.5 101v1m0 37v2m0 12v2m0 24v1m0 73v2m0 43v2m0 27v2m0 2v2m0 29v1m0 51v2m0 87v2m0 25v2m0 54v2m0 4v2m0 3v2m0 82v1m0 64v2m0 16v2M146.5 110v2m0 10v2m0 24v2m0 14v2m0 11v2m0 3v2m0 11v2m0 78v1m0 15v2m0 67v3m0 33v2m0 18v2m0 14v2m0 6v3m0 26v1m0 24v2m0 2v1m0 62v2m0 29v2m0 9v1m0 35v2m0 34v2m0 7v4m0 3v2m0 29v2m0 25v2m0 11v2M151.5 85v1m0 6v1m0 13v2m0 7v2m0 54v2m0 11v2m0 20v2m0 16v2m0 25v2m0 25v2m0 11v2m0 3v4m0 5v2m0 7v4m0 51v2m0 18v3m0 9v2m0 60v2m0 18v2m0 45v2m0 11v2m0 3v2m0 6v1m0 17v1m0 4v2m0 27v2m0 67v2m0 47v2m0 23v2m0 5v2m0 2v2M162.5 92v1m0 19v1m0 114v2m0 22v2m0 20v2m0 83v2m0 12v4m0 58v2m0 2v2m0 12v2m0 18v2m0 18v2m0 22v1m0 11v2m0 4v2m0 34v2m0 3v2m0 66v1m0 6v2m0 10v2m0 4v2m0 7v2m0 20v1m0 20v2m0 27v2m0 17v1M173.5 139v2m0 7v2m0 9v1m0 20v2m0 9v2m0 18v2m0 14v2m0 4v2m0 12v2m0 56v2m0 33v2m0 1v2m0 9v2m0 4v2m0 7v2m0 9v2m0 1v2m0 7v2m0 6v1m0 26v2m0 36v2m0 29v2m0 16v3m0 77v1m0 8v3m0 2v4m0 18v3m0 10v1m0 33v2m0 20v1m0 31v2m0 22v2m0 1v2m0 4v2M178.5 117v2m0 5v2m0 9v2m0 34v2m0 80v2m0 11v1m0 11v2m0 7v2m0 24v1m0 10v1m0 17v1m0 77v1m0 75v2m0 9v1m0 13v2m0 31v2m0 1v2m0 6v1m0 19v1m0 29v2m0 36v2m0 13v2m0 7v2m0 3v2m0 4v2m0 41v2m0 15v1m0 15v2m0 2v1M189.5 88v2m0 20v2m0 7v2m0 14v2m0 16v2m0 16v2m0 4v2m0 10v2m0 15v2m0 23v2m0 4v1m0 2v2m0 20v2m0 25v2m0 34v2m0 18v4m0 56v2m0 20v2m0 27v2m0 1v2m0 47v2m0 31v2m0 69v2m0 7v2m0 32v2m0 18v2m0 5v2m0 13v2m0 3v4m0 7v2m0 14v2m0 6v2m0 16v2m0 7v2m0 2v1M200.5 97v2m0 14v2m0 56v2m0 49v2m0 2v1m0 28v1m0 20v2m0 6v1m0 10v1m0 13v2m0 2v1m0 17v3m0 22v2m0 82v1m0 15v2m0 5v2m0 20v2m0 12v2m0 31v2m0 29v2m0 5v2m0 51v1m0 9v2m0 2v2m0 31v2m0 21v2m0 5v2m0 35v2m0 5v2m0 3v2M205.5 102v2m0 13v2m0 5v2m0 16v2m0 118v2m0 29v2m0 59v2m0 6v1m0 17v2m0 48v2m0 15v2m0 47v2m0 29v1m0 20v2m0 87v2m0 9v2m0 85v2m0 2v1m0 18v2m0 2v2M216.5 86v2m0 72v2m0 2v2m0 33v1m0 18v2m0 18v2m0 44v1m0 11v2m0 15v1m0 31v2m0 7v2m0 53v2m0 10v2m0 18v2m0 49v2m0 11v3m0 4v2m0 51v3m0 11v2m0 56v2m0 7v2m0 56v2m0 9v2m0 9v2m0 38v2M227.5 85v1m0 6v3m0 11v2m0 25v2m0 27v2m0 16v2m0 15v2m0 18v1m0 6v2m0 1v2m0 2v4m0 20v1m0 19v1m0 19v3m0 2v2m0 3v2m0 7v2m0 35v2m0 21v2m0 31v2m0 7v2m0 11v1m0 8v2m0 30v2m0 2v2m0 31v1m0 19v1m0 35v2m0 7v2m0 5v2m0 2v3m0 8v1m0 19v1m0 2v2m0 13v1m0 17v2m0 7v2m0 1v2m0 35v1m0 13v2m0 4v1m0 24v2m0 20v2M232.5 88v2m0 67v2m0 11v1m0 4v2m0 31v1m0 18v2m0 18v2m0 2v2m0 9v2m0 2v5m0 7v2m0 5v2m0 31v2m0 40v2m0 70v2m0 6v1m0 29v4m0 2v2m0 9v1m0 2v4m0 14v4m0 20v2m0 9v2m0 9v2m0 1v2m0 2v2m0 49v2m0 3v2m0 85v4m0 52v2M243.5 166v2m0 14v2m0 9v2m0 7v2m0 4v1m0 2v2m0 45v2m0 29v2m0 16v2m0 42v2m0 7v2m0 32v2m0 20v2m0 38v2m0 3v2m0 6v1m0 8v1m0 113v2m0 3v2m0 2v2m0 9v2m0 96v3m0 6v1M254.5 93v2m0 15v2m0 72v2m0 114v2m0 38v2m0 29v1m0 57v1m0 6v2m0 40v1m0 20v2m0 6v1m0 15v2m0 3v2m0 29v2m0 9v2m0 7v2m0 11v2m0 59v2m0 33v5m0 31v2m0 14v2M259.5 108v2m0 2v1m0 28v1m0 8v1m0 11v2m0 44v1m0 8v1m0 17v2m0 1v2m0 55v1m0 58v2m0 132v2m0 4v2m0 5v2m0 4v1m0 26v2m0 36v2m0 25v2m0 5v2m0 49v2m0 20v3m0 17v1m0 28v3m0 2v2m0 4v1m0 28v1M270.5 110v2m0 30v2m0 18v2m0 29v2m0 9v2m0 34v2m0 11v2m0 27v2m0 54v2m0 45v2m0 2v3m0 35v2m0 18v2m0 10v2m0 64v2m0 7v2m0 1v2m0 20v2m0 14v2m0 53v2m0 68v2m0 6v2m0 3v2m0 42v1m0 8v2m0 3v2M281.5 86v2m0 2v5m0 26v1m0 26v2m0 12v2m0 13v2m0 12v2m0 53v3m0 18v2m0 51v2m0 20v3m0 6v2m0 5v2m0 14v2m0 2v2m0 3v2m0 26v1m0 8v1m0 15v4m0 9v1m0 29v2m0 2v2m0 9v2m0 5v2m0 7v2m0 11v2m0 67v2m0 112v2m0 9v2m0 5v2m0 7v2m0 22v1M286.5 97v2m0 13v1m0 8v1m0 33v2m0 3v2m0 15v2m0 7v2m0 9v2m0 38v1m0 4v4m0 30v2m0 22v2m0 12v2m0 29v2m0 45v2m0 33v2m0 29v1m0 4v4m0 3v2m0 114v2m0 44v1m0 31v2m0 9v2m0 42v1m0 11v2m0 22v2M297.5 117v2m0 18v2m0 43v2m0 27v2m0 45v2m0 2v2m0 54v2m0 94v2m0 34v2m0 187v2m0 7v2m0 29v2m0 43v2m0 2v1M308.5 157v2m0 34v2m0 47v2m0 60v1m0 11v2m0 44v1m0 48v1m0 96v2m0 44v2m0 9v1m0 11v2m0 45v2m0 9v2m0 25v2m0 9v2m0 20v2m0 16v2m0 53v1M313.5 115v2m0 14v4m0 9v2m0 45v2m0 4v2m0 5v2m0 47v2m0 11v1m0 9v2m0 9v2m0 2v2m0 7v2m0 18v2m0 25v2m0 9v2m0 31v1m0 4v2m0 18v2m0 18v2m0 36v2m0 11v1m0 22v2m0 118v3m0 8v3m0 29v2m0 18v4m0 20v2m0 47v2M324.5 115v2m0 18v2m0 14v2m0 2v2m0 11v2m0 7v2m0 9v1m0 6v2m0 3v2m0 16v2m0 6v1m0 17v2m0 10v2m0 13v2m0 14v2m0 60v2m0 23v2m0 16v2m0 4v2m0 25v2m0 40v2m0 9v1m0 20v2m0 29v2m0 25v2m0 7v2m0 4v2m0 34v2m0 40v2m0 12v4m0 16v6m0 3v2m0 20v2m0 29v2M335.5 146v2m0 3v2m0 20v4m0 14v2m0 96v2m0 5v2m0 11v2m0 143v2m0 7v2m0 23v2m0 9v2m0 11v2m0 2v1m0 11v2m0 36v2m0 13v2m0 36v2m0 14v2m0 25v2m0 85v4m0 7v2m0 4v2M340.5 88v2m0 27v2m0 2v1m0 44v2m0 59v2m0 75v1m0 22v2m0 9v2m0 20v2m0 83v2m0 7v2m0 32v2m0 22v2m0 5v2m0 54v2m0 44v2m0 130v2M351.5 108v2m0 16v2m0 2v1m0 20v2m0 29v2m0 7v2m0 2v2m0 5v4m0 11v1m0 9v2m0 75v1m0 40v2m0 7v2m0 9v2m0 51v3m0 11v2m0 18v2m0 20v2m0 27v2m0 11v1m0 26v2m0 29v1m0 10v1m0 11v2m0 49v2m0 96v2m0 10v2M362.5 88v2m0 5v2m0 5v2m0 24v2m0 45v2m0 70v2m0 35v1m0 71v2m0 7v2m0 5v2m0 4v2m0 20v1m0 53v2m0 23v2m0 7v2m0 4v2m0 20v3m0 13v2m0 5v2m0 11v4m0 9v1m0 13v2m0 13v3m0 33v2m0 1v2m0 9v2m0 6v1m0 4v2m0 74v2M367.5 86v2m0 13v1m0 11v2m0 6v1m0 4v2m0 18v4m0 25v2m0 5v2m0 5v2m0 4v2m0 7v2m0 5v4m0 36v2m0 22v1m0 13v2m0 47v2m0 5v2m0 22v2m0 25v2m0 27v2m0 5v4m0 14v2m0 2v2m0 110v2m0 20v2m0 103v2m0 27v2m0 20v2m0 20v2M378.5 85v1m0 4v2m0 3v2m0 36v2m0 2v4m0 27v3m0 26v2m0 12v2m0 2v2m0 1v2m0 20v2m0 5v2m0 11v2m0 4v1m0 2v2m0 4v3m0 7v2m0 17v1m0 6v2m0 3v2m0 16v2m0 6v1m0 8v2m0 16v2m0 34v2m0 71v1m0 6v2m0 1v2m0 9v2m0 2v2m0 22v3m0 18v2m0 25v2m0 26v1m0 11v2m0 11v2m0 9v2m0 21v2m0 8v1m0 2v2m0 5v2m0 13v2m0 12v2m0 26v1m0 6v2M389.5 101v1m0 53v2m0 98v1m0 68v1m0 28v1m0 69v2m0 34v2m0 96v2m0 55v1M394.5 106v2m0 22v1m0 66v2m0 48v2m0 58v2m0 9v2m0 31v3m0 75v1m0 71v2m0 14v2m0 6v2m0 19v2m0 26v1m0 37v2m0 10v2m0 6v1m0 118v4M405.5 102v2m0 15v2m0 21v2m0 40v2m0 3v2m0 18v2m0 7v2m0 7v2m0 9v2m0 6v1m0 8v1m0 37v2m0 12v2m0 44v1m0 18v2m0 9v2m0 4v2m0 5v2m0 87v2m0 14v2m0 16v2m0 33v2m0 7v2m0 5v2m0 32v2m0 6v3m0 60v2m0 11v2m0 1v2m0 6v1m0 4v2m0 22v1m0 13v2m0 9v2m0 2v1M416.5 93v6m0 9v2m0 7v2m0 36v2m0 20v3m0 20v2m0 15v1m0 20v2m0 4v2m0 36v2m0 27v2m0 12v2m0 2v2m0 20v2m0 39v2m0 9v2m0 13v2m0 3v2m0 2v2m0 11v1m0 6v5m0 4v2m0 3v2m0 49v2m0 22v1m0 9v2m0 8v1m0 9v2m0 7v2m0 35v3m0 53v2m0 16v2m0 7v2m0 58v2M421.5 168v2m0 79v2m0 27v2m0 87v2m0 51v3m0 9v2m0 33v2m0 3v2m0 11v2m0 9v2m0 27v2m0 45v2m0 27v2m0 63v2m0 49v3m0 48v1M432.5 88v2m0 36v2m0 14v2m0 9v2m0 25v2m0 7v2m0 29v2m0 58v2m0 3v2m0 8v1m0 116v6m0 52v2m0 22v2m0 58v2m0 12v2m0 25v2m0 6v1m0 49v2m0 7v2m0 8v1m0 9v2m0 9v2m0 16v2m0 53v2M443.5 106v2m0 33v3m0 152v2m0 11v2m0 38v2m0 43v2m0 138v2m0 34v2m0 11v2m0 14v2m0 5v2m0 140v1M448.5 93v2m0 4v2m0 23v2m0 25v2m0 4v2m0 9v2m0 3v2m0 36v2m0 25v2m0 16v2m0 37v1m0 6v3m0 2v2m0 4v1m0 6v2m0 16v2m0 16v2m0 2v2m0 1v4m0 7v2m0 18v2m0 9v2m0 33v1m0 6v2m0 23v2m0 25v4m0 5v2m0 13v2m0 3v2m0 11v2m0 2v1m0 2v2m0 7v2m0 7v2m0 15v2m0 12v2m0 4v1m0 11v2m0 33v2m0 29v1m0 2v2m0 42v1m0 6v4m0 21v2M459.5 106v2m0 94v2m0 107v2m0 20v1m0 73v2m0 5v2m0 4v1m0 116v2m0 40v4m0 58v2m0 18v1m0 20v2M470.5 104v2m0 22v2m0 12v2m0 13v2m0 14v2m0 33v1m0 6v2m0 20v1m0 8v1m0 57v1m0 17v2m0 68v2m0 29v2m0 22v2m0 10v4m0 87v2m0 4v1m0 37v5m0 29v2m0 16v2m0 4v1m0 13v2m0 20v2m0 12v2m0 18v2m0 22v2m0 18v2M475.5 108v2m0 9v2m0 14v2m0 9v2m0 18v2m0 21v2m0 46v1m0 26v2m0 3v2m0 13v1m0 2v4m0 76v2m0 14v2m0 49v2m0 47v2m0 2v1m0 35v2m0 11v1m0 26v2m0 27v2m0 25v2m0 16v2m0 9v2m0 7v2m0 2v1m0 2v2m0 7v2m0 7v4m0 25v2m0 26v1m0 9v4M486.5 93v2m0 47v2m0 2v2m0 5v2m0 13v2m0 5v4m0 10v2m0 6v2m0 19v2m0 4v2m0 11v1m0 2v4m0 11v1m0 17v2m0 7v2m0 11v1m0 46v1m0 20v2m0 78v2m0 25v2m0 51v2m0 16v2m0 9v2m0 32v2m0 65v2m0 36v2m0 11v2m0 9v4m0 25v2M491.5 146v2m0 7v2m0 18v2m0 54v2m0 49v2m0 161v2m0 11v1m0 100v2m0 36v2m0 31v2m0 12v2m0 58v2M502.5 88v2m0 3v4m0 47v2m0 67v2m0 5v2m0 4v1m0 49v4m0 20v2m0 23v2m0 47v2m0 27v2m0 13v2m0 7v2m0 30v2m0 17v1m0 4v2m0 31v1m0 24v2m0 29v2m0 14v2m0 47v2m0 33v1m0 15v2m0 1v2m0 2v2m0 9v4m0 16v2m0 3v2m0 15v3M513.5 86v4m0 23v2m0 26v1m0 29v2m0 54v4m0 2v2m0 12v2m0 114v2m0 2v2m0 25v2m0 25v2m0 7v2m0 6v2m0 63v2m0 47v2m0 18v2m0 16v2m0 38v2m0 7v2m0 7v2m0 61v2M518.5 92v1m0 2v2m0 2v2m0 7v2m0 41v2m0 15v2m0 41v4m0 36v2m0 5v2m0 9v2m0 4v1m0 38v2m0 20v2m0 13v2m0 5v2m0 18v2m0 2v1m0 47v2m0 4v2m0 18v2m0 101v2m0 33v1m0 9v2m0 9v4m0 14v2m0 29v2m0 2v2m0 29v1m0 28v1m0 4v2m0 25v2m0 11v2M529.5 95v2m0 7v2m0 35v1m0 6v2m0 3v2m0 16v2m0 31v4m0 5v2m0 12v2m0 33v2m0 50v2m0 17v1m0 2v4m0 18v2m0 18v2m0 36v2m0 80v1m0 13v2m0 43v2m0 18v2m0 11v2m0 3v2m0 17v3m0 22v2m0 2v1m0 38v2m0 29v2m0 4v1m0 40v2M540.5 110v2m0 3v2m0 4v1m0 28v1m0 8v3m0 2v2m0 13v1m0 15v2m0 11v1m0 4v2m0 121v2m0 2v2m0 59v2m0 4v2m0 27v2m0 3v4m0 11v2m0 74v2m0 14v2m0 6v1m0 6v2m0 38v1m0 22v2m0 9v2m0 27v2m0 13v1M545.5 168v2m0 23v2m0 32v2m0 40v2m0 5v2m0 13v2m0 9v2m0 9v1m0 6v2m0 38v2m0 5v2m0 2v1m0 127v2m0 6v1m0 31v2m0 7v2m0 15v1m0 17v2m0 10v2m0 4v2m0 1v2m0 13v2m0 22v1m0 9v2m0 45v2m0 6v2m0 29v1m0 13v2M556.5 90v2m0 21v6m0 22v1m0 18v2m0 9v2m0 18v4m0 52v2m0 31v2m0 7v2m0 49v2m0 11v1m0 26v2m0 9v1m0 8v1m0 8v2m0 10v2m0 2v4m0 9v2m0 50v2m0 2v2m0 3v2m0 13v2m0 9v2m0 3v2m0 14v4m0 4v7m0 4v1m0 11v2m0 71v2m0 21v2m0 22v2m0 1v2m0 66v1M567.5 121v1m0 8v1m0 22v4m0 22v1m0 9v2m0 31v2m0 58v2m0 20v1m0 33v2m0 54v2m0 4v1m0 51v2m0 7v2m0 25v2m0 40v2m0 7v2m0 11v2m0 32v4m0 25v2m0 20v2m0 31v2m0 28v2m0 47v2m0 4v2m0 5v2M572.5 92v1m0 58v2m0 118v2m0 27v2m0 11v3m0 20v2m0 22v2m0 34v2m0 3v2m0 27v2m0 6v2m0 3v2m0 27v2m0 107v2m0 61v2m0 116v2M583.5 115v2m0 20v2m0 12v4m0 65v2m0 4v1m0 17v3m0 4v2m0 3v2m0 29v2m0 42v2m0 7v2m0 11v1m0 42v2m0 11v2m0 7v2m0 14v2m0 14v2m0 7v4m0 7v2m0 53v2m0 3v2m0 4v1m0 64v2m0 5v2m0 14v2m0 26v1m0 8v3m0 11v2m0 42v1m0 46v2M594.5 85v1m0 47v2m0 20v2m0 31v1m0 10v1m0 6v2m0 5v2m0 3v2m0 11v4m0 18v3m0 22v2m0 5v2m0 9v2m0 9v2m0 2v2m0 9v2m0 10v2m0 2v2m0 20v3m0 4v2m0 20v2m0 32v2m0 2v3m0 22v2m0 2v2m0 1v2m0 37v1m0 9v4m0 22v2m0 9v1m0 6v2m0 3v2m0 35v1m0 6v2m0 20v1m0 15v2m0 3v4m0 14v2m0 4v2m0 7v2m0 69v1m0 11v4M599.5 267v2m0 45v2m0 69v2m0 7v2m0 4v1m0 2v2m0 18v2m0 15v1m0 6v2m0 5v2m0 14v2m0 84v1m0 13v2m0 2v1m0 125v2m0 9v2M610.5 113v2m0 6v1m0 6v2m0 16v2m0 2v1m0 35v2m0 38v1m0 2v2m0 65v2m0 13v2m0 12v6m0 70v2m0 8v1m0 17v1m0 8v2m0 25v2m0 56v2m0 40v1m0 8v1m0 22v2m0 67v2m0 2v2m0 76v1M621.5 88v2m0 18v2m0 3v2m0 2v4m0 1v2m0 2v2m0 110v2m0 13v2m0 21v2m0 35v1m0 11v2m0 7v2m0 62v2m0 21v2m0 11v2m0 14v2m0 35v1m0 4v2m0 11v2m0 10v2m0 8v3m0 45v2m0 47v2m0 26v1m0 55v2M626.5 131v2m0 2v2m0 18v4m0 5v2m0 11v2m0 9v1m0 4v2m0 7v2m0 11v2m0 1v2m0 4v2m0 27v2m0 52v2m0 20v2m0 20v3m0 2v2m0 24v3m0 45v2m0 29v2m0 33v2m0 30v2m0 29v4m0 7v2m0 11v3m0 17v1m0 40v2m0 4v2m0 77v2m0 8v1M637.5 95v2m0 15v1m0 76v4m0 36v2m0 35v3m0 27v2m0 22v2m0 20v1m0 6v2m0 12v2m0 58v2m0 2v2m0 34v2m0 29v4m0 23v2m0 4v1m0 24v2m0 67v2m0 1v2m0 18v2m0 27v2m0 24v1m0 57v1m0 4v2M648.5 97v2m0 13v1m0 69v2m0 9v2m0 16v2m0 4v3m0 18v2m0 7v2m0 29v2m0 2v2m0 16v2m0 3v2m0 20v2m0 2v2m0 7v2m0 25v2m0 45v4m0 36v4m0 5v6m0 19v2m0 37v3m0 6v1m0 8v1m0 19v1m0 6v2m0 11v3m0 33v2m0 18v2m0 3v2m0 9v2m0 3v2m0 33v2m0 41v2M653.5 95v2m0 13v2m0 21v2m0 31v2m0 101v2m0 13v1m0 48v1m0 66v1m0 2v2m0 22v2m0 29v1m0 22v2m0 11v2m0 36v2m0 51v1m0 18v2m0 13v2m0 34v2m0 2v2m0 11v1m0 27v2m0 6v2m0 34v2m0 5v2m0 7v2m0 4v2M664.5 102v2m0 33v2m0 21v2m0 13v2m0 12v2m0 2v2m0 5v4m0 16v2m0 7v2m0 20v2m0 31v1m0 42v2m0 7v2m0 29v2m0 7v2m0 78v2m0 7v2m0 9v2m0 9v1m0 2v2m0 2v2m0 11v1m0 9v2m0 22v2m0 13v1m0 35v5m0 2v2m0 3v2m0 18v2m0 29v4m0 11v2m0 21v2m0 11v2m0 18v7M675.5 122v2m0 51v2m0 38v2m0 10v2m0 2v2m0 7v2m0 7v2m0 36v4m0 11v2m0 7v2m0 59v2m0 18v2m0 125v2m0 11v4m0 25v2m0 60v1m0 2v2m0 9v2m0 16v2m0 29v2m0 14v4m0 31v3m0 28v1M680.5 95v2m0 29v2m0 61v2m0 100v2m0 20v1m0 2v6m0 3v2m0 102v1m0 15v2m0 43v2m0 16v4m0 120v1m0 31v2m0 18v2m0 2v2m0 12v2m0 13v2m0 9v1m0 28v1M691.5 88v2m0 5v2m0 65v2m0 2v2m0 5v2m0 2v2m0 29v1m0 9v2m0 13v2m0 9v2m0 16v2m0 9v2m0 38v1m0 11v2m0 7v2m0 18v2m0 42v2m0 20v1m0 13v2m0 2v2m0 5v2m0 52v2m0 4v2m0 5v2m0 47v2m0 40v1m0 8v2m0 5v2m0 3v2m0 2v2m0 7v2m0 5v2m0 16v2m0 13v2m0 16v4m0 3v2m0 4v2m0 10v2m0 9v2m0 6v1m0 6v2m0 10v2M707.5 130v1m0 68v1m0 13v2m0 9v2m0 74v2m0 3v2m0 22v2m0 9v2m0 12v2m0 9v4m0 3v2m0 13v4m0 7v2m0 9v2m0 68v4m0 16v2m0 2v2m0 16v4m0 2v1m0 24v2m0 32v2m0 2v2m0 38v2m0 21v2m0 35v1m0 31v2M718.5 97v2m0 22v1m0 67v2m0 15v2m0 5v5m0 8v1m0 2v2m0 31v2m0 3v2m0 9v2m0 5v2m0 13v2m0 11v1m0 17v2m0 21v2m0 2v2m0 20v2m0 9v1m0 44v2m0 31v1m0 18v2m0 18v2m0 27v2m0 9v2m0 16v2m0 15v2m0 3v2m0 18v2m0 14v2m0 24v2m0 9v1m0 33v4m0 3v2m0 51v2m0 5v4m0 2v1M729.5 88v4m0 27v2m0 21v2m0 15v3m0 55v1m0 13v2m0 14v2m0 13v2m0 16v2m0 29v2m0 7v2m0 27v2m0 11v3m0 6v1m0 20v4m0 4v1m0 6v4m0 14v2m0 74v2m0 11v2m0 16v2m0 3v2m0 49v2m0 4v1m0 13v2m0 40v2m0 12v2m0 38v2m0 4v1m0 9v4m0 2v2m0 16v2m0 2v1m0 9v2M761.5 112v1m0 20v2m0 6v1m0 29v2m0 65v2m0 20v2m0 38v2m0 18v2m0 36v2m0 5v2m0 16v2m0 26v1m0 55v2m0 39v2m0 35v1m0 6v4m0 1v2m0 9v2m0 9v2m0 11v3m0 4v2m0 29v2m0 23v2m0 65v2m0 13v2m0 1v2m0 26v1M772.5 102v2m0 33v4m0 36v2m0 18v2m0 45v2m0 9v1m0 8v2m0 14v2m0 11v2m0 1v2m0 27v2m0 7v2m0 11v2m0 31v2m0 67v1m0 84v2m0 10v2m0 13v2m0 7v2m0 40v2m0 3v2m0 89v2m0 7v2m0 54v2M799.5 443v2m0 45v2m0 80v2m0 18v2m0 1v2m0 6v3m0 18v2m0 49v2m0 81v2m0 11v2m0 4v1M826.5 92v1m0 131v2m0 1v2m0 11v2m0 147v2m0 7v2m0 11v3m0 31v2m0 12v2m0 20v2m0 54v2m0 6v1m0 2v2m0 2v4m0 36v2m0 12v2m0 29v2m0 29v2m0 20v1m0 42v2m0 4v1m0 18v2m0 22v2M853.5 85v1m0 20v2m0 63v2m0 11v2m0 2v1m0 22v2m0 72v2m0 24v2m0 18v2m0 27v2m0 12v4m0 31v2m0 14v2m0 54v2m0 13v2m0 9v1m0 17v2m0 1v2m0 16v2m0 2v2m0 62v1m0 17v1m0 19v1m0 4v2m0 25v2m0 2v2m0 9v1m0 13v2M880.5 119v2m0 25v2m0 118v1m0 15v2m0 50v2m0 4v2m0 9v2m0 36v2m0 5v2m0 25v2m0 80v2m0 3v2m0 24v3m0 27v2m0 7v2m0 24v2m0 11v1m0 15v2m0 94v2m0 11v1m0 22v2m0 5v2M907.5 191v2m0 36v2m0 40v2m0 5v2m0 22v2m0 5v2m0 54v2m0 20v2m0 7v2m0 3v4m0 22v2m0 12v2m0 2v2m0 29v2m0 45v2m0 54v2m0 4v1m0 64v2m0 56v2m0 21v2m0 16v2m0 15v2M934.5 97v4m0 72v2m0 29v2m0 18v2m0 81v2m0 16v2m0 33v2m0 29v1m0 19v1m0 73v2m0 43v2m0 4v1m0 98v2m0 78v2m0 31v3m0 17v1"/>
<path stroke="#482475" stroke-width="6" d="M130 95v2m0 7v2m0 2v2m0 2v1m0 49v2m0 16v2m0 24v3m0 11v2m0 4v3m0 11v2m0 80v2m0 12v2m0 4v3m0 2v2m0 31v2m0 50v2m0 13v2m0 3v2m0 29v2m0 7v2m0 114v2m0 23v2m0 51v2m0 32v2m0 9v2m0 7v2m0 13v2M141 88v2m0 58v2m0 14v2m0 4v1m0 6v2m0 3v2m0 4v1m0 10v1m0 11v2m0 4v1m0 35v2m0 40v1m0 11v2m0 15v1m0 17v1m0 17v3m0 49v2m0 6v1m0 28v1m0 11v4m0 4v1m0 2v2m0 47v2m0 43v2m0 26v1m0 33v2m0 13v3m0 9v2m0 36v4m0 9v2m0 9v2m0 25v2m0 11v1m0 8v2M157 117v2m0 14v2m0 49v4m0 34v2m0 18v2m0 58v2m0 9v1m0 8v2m0 25v2m0 2v1m0 24v2m0 3v2m0 2v2m0 54v2m0 11v2m0 12v2m0 42v2m0 7v4m0 19v2m0 44v2m0 12v4m0 139v2M168 86v2m0 34v4m0 2v2m0 54v2m0 13v1m0 40v2m0 11v2m0 56v2m0 12v2m0 15v1m0 64v2m0 11v3m0 24v2m0 23v2m0 20v2m0 87v2m0 63v2m0 16v2m0 40v2m0 58v1M184 99v2m0 21v2m0 20v2m0 25v2m0 20v2m0 4v1m0 4v2m0 50v2m0 2v2m0 80v1m0 4v2m0 11v2m0 38v1m0 64v2m0 25v2m0 20v2m0 20v1m0 46v2m0 43v2m0 2v1m0 8v2m0 23v2m0 13v1m0 24v2m0 2v1m0 8v1m0 2v2m0 4v1M195 85v1m0 85v4m0 9v2m0 11v2m0 19v2m0 17v1m0 109v2m0 25v2m0 31v2m0 67v2m0 92v2m0 3v2m0 15v2m0 18v2m0 10v2m0 6v1m0 44v4m0 43v2M211 108v2m0 32v4m0 38v2m0 2v1m0 24v2m0 69v1m0 20v2m0 33v2m0 58v1m0 73v5m0 11v2m0 22v2m0 5v2m0 18v2m0 5v2m0 60v2m0 21v2m0 13v2m0 7v2m0 18v2m0 34v2M222 88v2m0 16v2m0 5v2m0 6v3m0 82v3m0 22v2m0 34v2m0 87v2m0 45v2m0 25v2m0 4v2m0 43v2m0 53v1m0 8v1m0 42v2m0 24v1m0 13v4m0 38v2m0 21v2m0 22v2m0 14v2m0 11v3m0 2v2m0 9v2m0 2v2M238 135v2m0 58v2m0 5v2m0 149v1m0 11v2m0 22v2m0 16v2m0 7v2m0 27v2m0 32v2m0 9v2m0 51v2m0 32v2m0 2v2m0 78v1m0 60v2M249 146v2m0 41v2m0 44v2m0 10v2m0 15v2m0 7v2m0 94v3m0 35v2m0 2v1m0 15v3m0 6v2m0 5v2m0 14v2m0 24v2m0 79v4m0 36v2m0 27v2m0 62v3m0 13v2m0 14v2m0 27v2M265 128v2m0 25v2m0 83v2m0 4v1m0 144v1m0 17v2m0 10v2m0 42v2m0 14v2m0 107v2m0 96v2m0 23v2m0 5v2m0 11v2m0 33v3M276 85v1m0 20v2m0 5v2m0 20v2m0 14v2m0 65v2m0 65v4m0 15v1m0 9v2m0 13v2m0 52v2m0 2v2m0 16v2m0 11v2m0 25v2m0 11v1m0 44v2m0 7v2m0 27v2m0 7v2m0 2v2m0 12v2m0 15v1m0 6v2m0 10v2m0 11v2m0 2v2m0 3v2m0 2v2m0 9v2m0 9v3m0 13v2m0 3v2m0 11v2m0 16v2m0 42v1m0 13v2M292 141v1m0 8v1m0 40v2m0 13v2m0 83v2m0 7v2m0 38v2m0 23v2m0 5v2m0 20v2m0 18v2m0 47v2m0 11v2m0 16v2m0 11v1m0 35v2m0 36v2m0 16v2m0 51v1m0 33v2m0 47v2M303 150v1m0 120v2m0 5v2m0 31v2m0 29v1m0 39v1m0 89v2m0 33v1m0 37v1m0 31v2m0 93v1m0 96v2M319 93v2m0 35v1m0 40v2m0 45v2m0 24v2m0 9v1m0 17v2m0 76v2m0 72v2m0 96v4m0 34v2m0 2v1m0 17v2m0 30v4m0 69v2m0 72v2M330 95v2m0 11v2m0 65v2m0 12v2m0 13v2m0 27v2m0 5v2m0 14v4m0 24v1m0 40v4m0 33v1m0 22v2m0 5v2m0 6v1m0 20v2m0 11v2m0 9v2m0 3v2m0 2v2m0 22v1m0 20v2m0 20v4m0 2v1m0 8v1m0 17v2m0 7v2m0 78v1m0 66v1m0 6v2m0 5v2m0 5v2m0 15v1m0 6v2M346 92v1m0 33v2m0 16v2m0 31v2m0 12v2m0 18v2m0 92v2m0 7v2m0 6v2m0 25v2m0 11v1m0 17v2m0 14v2m0 9v2m0 2v1m0 35v2m0 9v1m0 4v2m0 4v1m0 15v2m0 27v2m0 21v2m0 11v4m0 2v3m0 58v2m0 62v1m0 40v2m0 5v2m0 2v2m0 23v2M357 88v2m0 70v2m0 20v2m0 335v2m0 27v2m0 4v2m0 52v2M373 131v2m0 40v2m0 13v1m0 4v2m0 43v2m0 64v1m0 17v2m0 38v1m0 2v2m0 16v2m0 33v2m0 29v1m0 9v2m0 17v1m0 80v2m0 76v2m0 5v2m0 78v2M384 226v1m0 40v2m0 7v2m0 26v1m0 20v2m0 11v2m0 16v2m0 4v1m0 24v2m0 16v2m0 4v1m0 53v2m0 7v2m0 11v1m0 126v1m0 66v1m0 11v2m0 5v2M400 88v4m0 23v2m0 7v2m0 25v2m0 4v2m0 14v2m0 2v3m0 9v2m0 38v2m0 35v3m0 58v2m0 4v3m0 42v2m0 3v2m0 18v2m0 11v2m0 98v1m0 2v2m0 4v2m0 10v2m0 36v2m0 11v2m0 7v4m0 16v2m0 14v4m0 58v2m0 34v2m0 9v4m0 7v2m0 7v2M411 180v2m0 149v2m0 107v1m0 111v2m0 163v2m0 61v2M427 85v1m0 62v2m0 27v2m0 12v2m0 60v2m0 18v2m0 20v1m0 62v2m0 7v2m0 32v2m0 22v4m0 49v1m0 2v2m0 5v2m0 2v2m0 52v2m0 37v1m0 8v1m0 28v1m0 80v2m0 14v2m0 18v2m0 7v2M438 231v2m0 58v2m0 45v2m0 38v2m0 61v2m0 35v1m0 102v2m0 41v2m0 27v2m0 89v4M454 133v2m0 13v2m0 74v2m0 65v2m0 27v2m0 36v2m0 2v1m0 96v2m0 8v1m0 6v2m0 74v2m0 49v1m0 31v2m0 40v2m0 23v2m0 29v2M465 115v2m0 43v2m0 9v2m0 38v2m0 24v1m0 24v2m0 5v2m0 74v2m0 16v2m0 22v2m0 12v2m0 6v2m0 65v2m0 43v2m0 9v2m0 78v2m0 67v1M481 99v2m0 21v2m0 13v4m0 52v2m0 14v2m0 9v2m0 36v2m0 4v2m0 12v2m0 15v3m0 11v2m0 14v2m0 6v1m0 13v2m0 9v2m0 5v2m0 56v2m0 11v4m0 5v2m0 20v3m0 13v2m0 3v2m0 22v2m0 11v2m0 12v2m0 31v2m0 7v2m0 7v2m0 2v1m0 8v1m0 15v2m0 5v2m0 4v1m0 11v2m0 16v2m0 31v2m0 69v2M497 126v2m0 14v2m0 24v2m0 45v2m0 12v2m0 11v2m0 14v2m0 36v2m0 11v2m0 49v2m0 16v2m0 50v2m0 24v2m0 1v2m0 51v2m0 31v1m0 13v2m0 18v2m0 45v2m0 5v4m0 42v2m0 16v2m0 9v2m0 3v2m0 5v2m0 2v2m0 16v2m0 20v2M508 90v2m0 5v2m0 9v2m0 78v1m0 11v2m0 33v2m0 5v7m0 24v2m0 23v2m0 16v4m0 5v2m0 42v2m0 21v4m0 62v1m0 22v4m0 5v4m0 7v6m0 1v2m0 20v2m0 9v2m0 16v2m0 22v2m0 3v2m0 11v2m0 27v2m0 20v1m0 17v2m0 5v2m0 18v2m0 3v2m0 18v2m0 25v2M524 92v3m0 11v4m0 41v2m0 20v2m0 52v4m0 9v2m0 42v1m0 8v2m0 47v1m0 17v2m0 70v2m0 20v2m0 36v2m0 25v2m0 38v2m0 5v4m0 89v2m0 23v2m0 14v2m0 49v2M535 93v2m0 75v1m0 78v2m0 45v2m0 9v2m0 22v2m0 72v2m0 7v2m0 25v2m0 4v2m0 12v2m0 7v2m0 20v2m0 13v1m0 2v2m0 22v2m0 34v2m0 29v2m0 59v2m0 20v2m0 20v2m0 38v2M551 128v2m0 16v2m0 96v2m0 14v2m0 31v2m0 18v1m0 6v2m0 78v1m0 51v2m0 2v2m0 72v2m0 33v1m0 38v2m0 9v2m0 13v2m0 25v2m0 9v2m0 52v2m0 5v2m0 24v2M562 92v1m0 49v2m0 36v2m0 45v2m0 9v2m0 13v2m0 3v2m0 9v2m0 109v2m0 1v2m0 56v2m0 16v2m0 18v2m0 24v2m0 14v2m0 18v2m0 49v2m0 10v2m0 87v2m0 18v2m0 38v2M578 126v2m0 20v2m0 25v2m0 65v2m0 18v4m0 21v2m0 9v2m0 13v1m0 4v2m0 34v2m0 40v2m0 7v2m0 34v2m0 42v2m0 67v2m0 50v2m0 31v2m0 31v1m0 33v2m0 7v2m0 5v2m0 2v2m0 16v2m0 12v2M589 92v1m0 46v3m0 44v2m0 7v2m0 20v3m0 18v2m0 7v2m0 11v2m0 9v2m0 20v2m0 5v2m0 9v2m0 3v2m0 35v1m0 82v2m0 7v2m0 90v2m0 40v2m0 109v1m0 28v1m0 6v2m0 25v2m0 11v2M605 124v2m0 4v1m0 57v3m0 4v2m0 7v2m0 3v2m0 22v2m0 43v2m0 13v2m0 3v4m0 20v2m0 25v2m0 2v1m0 2v2m0 18v2m0 7v2m0 27v2m0 5v2m0 4v2m0 20v1m0 17v2m0 1v2m0 7v2m0 15v2m0 5v2m0 23v2m0 9v2m0 4v1m0 2v2m0 65v4m0 11v2m0 1v2m0 20v6m0 11v1m0 8v3m0 31v2m0 2v1m0 9v2m0 17v3M616 86v2m0 20v4m0 12v2m0 4v1m0 11v2m0 9v2m0 5v2m0 4v2m0 21v2m0 8v1m0 2v2m0 83v2m0 22v2m0 20v1m0 22v2m0 38v2m0 9v2m0 20v1m0 2v2m0 9v2m0 20v2m0 11v1m0 9v2m0 2v2m0 25v2m0 71v2m0 21v2m0 4v2m0 77v2m0 27v2m0 18v2M632 200v2m0 60v2m0 3v2m0 42v2m0 212v2m0 47v1m0 193v1M643 97v2m0 34v2m0 15v1m0 9v2m0 35v2m0 7v2m0 1v2m0 15v5m0 6v1m0 6v2m0 9v1m0 2v2m0 4v2m0 61v2m0 34v2m0 44v2m0 12v2m0 2v2m0 47v2m0 25v2m0 9v2m0 9v2m0 9v1m0 58v4m0 11v2m0 29v2m0 10v2m0 9v2m0 15v1m0 13v4m0 18v2m0 1v2m0 2v2m0 2v1m0 15v2m0 11v1m0 8v2m0 18v1M659 115v2m0 60v2m0 48v2m0 13v2m0 2v1m0 11v2m0 35v1m0 33v2m0 54v2m0 69v2m0 25v2m0 45v2m0 22v2m0 32v2m0 45v2m0 24v1m0 8v3m0 38v2m0 47v2M670 93v2m0 31v2m0 7v2m0 13v5m0 22v2m0 14v2m0 83v2m0 65v2m0 7v2m0 116v2m0 45v4m0 9v2m0 51v1m0 29v2m0 6v1m0 37v1m0 11v2m0 7v2m0 55v1m0 9v2m0 13v4M686 95v2m0 141v2m0 7v2m0 20v2m0 25v2m0 26v1m0 120v2m0 5v2m0 9v2m0 11v2m0 1v2m0 6v1m0 10v1m0 20v2m0 13v2m0 10v2m0 13v2m0 3v2m0 4v2m0 18v2m0 10v2m0 24v2m0 25v2m0 11v2m0 38v1m0 20v2M697 106v2m0 22v1m0 17v2m0 1v2m0 9v2m0 11v2m0 18v2m0 36v2m0 7v2m0 2v1m0 11v2m0 11v4m0 10v2m0 8v1m0 20v2m0 6v1m0 2v2m0 14v2m0 6v2m0 14v2m0 9v2m0 2v1m0 2v2m0 9v2m0 13v1m0 6v2m0 3v2m0 2v2m0 16v2m0 2v1m0 6v2m0 7v2m0 25v2m0 5v2m0 16v4m0 2v2m0 12v2m0 4v3m0 24v2m0 16v2m0 45v2m0 2v2m0 2v1m0 2v2m0 4v1m0 35v2m0 3v2m0 7v2m0 7v2m0 53v2M740 86v4m0 2v1m0 9v2m0 18v4m0 94v2m0 7v2m0 11v2m0 51v1m0 20v4m0 27v2m0 5v2m0 109v2m0 43v2m0 2v2m0 38v2m0 59v2m0 9v2m0 42v2m0 5v2m0 20v1m0 19v1m0 8v1m0 8v2m0 23v2M751 104v2m0 4v2m0 38v1m0 22v2m0 36v2m0 22v2m0 72v2m0 11v2m0 5v2m0 114v2m0 32v2m0 6v1m0 17v2m0 20v1m0 17v1m0 2v2m0 4v2m0 30v2m0 13v2m0 40v1m0 31v2m0 9v4m0 5v2m0 9v2m0 12v2m0 27v2m0 20v2"/>
<path stroke="#472f7d" stroke-width="5" d="M124.5 222v2m0 16v2m0 469v2m0 38v2m0 9v2m0 2v2M135.5 148v2m0 56v2m0 135v2m0 55v1m0 17v2m0 21v2m0 27v2m0 62v2m0 206v2M146.5 135v2m0 22v1m0 24v2m0 11v3m0 51v2m0 20v2m0 12v2m0 6v1m0 22v2m0 2v2m0 5v2m0 20v2m0 1v2m0 22v2m0 50v2m0 13v2m0 3v2m0 13v2m0 11v1m0 40v2m0 93v1m0 2v4m0 32v2m0 17v1m0 20v2m0 7v4m0 9v2m0 11v1m0 35v2M151.5 153v2m0 120v1m0 24v2m0 58v2m0 47v2m0 128v2m0 116v2m0 14v2m0 13v2m0 16v2m0 11v1M162.5 101v1m0 33v2m0 56v2m0 83v2m0 53v1m0 77v1m0 125v2m0 51v2m0 52v2m0 80v2m0 41v2M173.5 85v1m0 4v2m0 25v2m0 18v2m0 11v1m0 11v4m0 34v2m0 56v2m0 11v2m0 22v1m0 20v2m0 80v2m0 1v2m0 46v1m0 33v4m0 21v2m0 15v2m0 10v2m0 4v2m0 14v2m0 4v3m0 17v1m0 96v2m0 31v2m0 18v2M178.5 126v2m0 65v2m0 23v2m0 22v2m0 36v2m0 22v1m0 2v2m0 40v2m0 81v2m0 15v5m0 80v2m0 16v2m0 16v2m0 16v2m0 18v2m0 63v2m0 36v2m0 4v2m0 7v2m0 29v1M189.5 104v4m0 105v2m0 2v1m0 8v1m0 8v2m0 29v1m0 57v1m0 6v3m0 29v2m0 65v2m0 64v2m0 45v2m0 16v2m0 43v2M200.5 104v2m0 20v2m0 177v2m0 60v2m0 11v2m0 65v2m0 85v2m0 117v2m0 113v1M205.5 266v1m0 13v2m0 49v2m0 12v2m0 11v2m0 23v2m0 4v2m0 110v2m0 172v2m0 14v2m0 64v1m0 8v2M216.5 119v2m0 9v1m0 31v2m0 9v2m0 107v2m0 313v2m0 2v2m0 61v2M227.5 90v2m0 9v1m0 40v2m0 13v2m0 30v4m0 2v2m0 32v2m0 38v2m0 42v1m0 13v2m0 20v2m0 16v2m0 2v1m0 4v2m0 4v1m0 15v3m0 2v2m0 47v2m0 11v2m0 12v2m0 73v3m0 4v2m0 29v2m0 16v2m0 34v4m0 3v2m0 38v2m0 25v2m0 2v2M232.5 86v2m0 42v1m0 2v2m0 4v2m0 12v2m0 45v2m0 29v2m0 4v1m0 18v2m0 44v2m0 27v2m0 7v2m0 105v2m0 10v2m0 44v2m0 43v2m0 13v1m0 28v3m0 7v2m0 75v1m0 20v2m0 20v2m0 2v1m0 2v2m0 11v2m0 2v1m0 9v2M243.5 113v2m0 18v2m0 54v2m0 33v2m0 34v2m0 78v2m0 69v1m0 80v2m0 34v2m0 13v2m0 20v1m0 124v1m0 69v2m0 2v2M254.5 113v2m0 136v2m0 127v2m0 183v1m0 17v2m0 54v2m0 72v2m0 42v1m0 4v2M259.5 131v2m0 35v2m0 135v2m0 17v1m0 42v2m0 29v2m0 41v2m0 11v2m0 42v1m0 91v2M270.5 113v2m0 4v2m0 16v2m0 7v2m0 47v2m0 52v2m0 15v1m0 28v1m0 84v2m0 30v2m0 132v2m0 9v2m0 78v2m0 27v2m0 20v2m0 21v2M281.5 112v1m0 17v1m0 109v2m0 91v1m0 57v1m0 4v2m0 52v2m0 15v2m0 59v2m0 24v2m0 10v2m0 7v2m0 24v2m0 27v2m0 1v2m0 22v2m0 45v2m0 9v2m0 23v2M286.5 146v2m0 45v2m0 83v2m0 25v2m0 53v2m0 139v2m0 31v2m0 72v2m0 72v2M297.5 170v1m0 149v4m0 114v2m0 16v2m0 54v2m0 63v2m0 107v2m0 47v2m0 11v1m0 8v1M308.5 238v2m0 49v2m0 43v2m0 80v2m0 31v1m0 8v1m0 82v2m0 98v2m0 65v2m0 16v2m0 38v2M313.5 86v2m0 120v1m0 234v2m0 31v3m0 156v2M324.5 108v2m0 20v1m0 10v1m0 98v2m0 4v1m0 28v1m0 86v1m0 42v2m0 5v2m0 2v2m0 3v2m0 11v2m0 4v1m0 17v1m0 20v2m0 26v1m0 19v1m0 8v1m0 9v2m0 35v2m0 47v1m0 39v1m0 40v2m0 18v2m0 14v2M335.5 195v2m0 119v2m0 261v2m0 56v2m0 47v2m0 67v2M340.5 90v2m0 39v2m0 75v3m0 87v2m0 11v2m0 32v2m0 210v2m0 31v2m0 2v1m0 156v2m0 2v2M351.5 93v2m0 17v1m0 6v2m0 20v1m0 8v1m0 48v1m0 31v2m0 2v2m0 7v2m0 5v2m0 18v2m0 18v2m0 29v3m0 57v1m0 4v2m0 22v1m0 15v2m0 83v2m0 3v4m0 36v2m0 18v2m0 7v2m0 11v2m0 34v2m0 13v2m0 14v2m0 11v2m0 70v2m0 13v2M362.5 151v2m0 15v2m0 1v2m0 58v2m0 4v3m0 15v1m0 4v2m0 16v2m0 150v2m0 4v2m0 38v2m0 5v2m0 45v2m0 51v2m0 41v2m0 7v2m0 120v1m0 2v2m0 2v2M367.5 97v2m0 54v2m0 7v2m0 35v1m0 46v1m0 51v2m0 34v2m0 24v2m0 81v2m0 60v2m0 54v2m0 54v2m0 51v2m0 9v1m0 13v2m0 27v2M378.5 135v2m0 5v2m0 2v2m0 69v1m0 106v1m0 31v2m0 16v2m0 15v1m0 2v4m0 3v2m0 20v2m0 33v1m0 113v2m0 79v2m0 45v2m0 27v2m0 35v2M389.5 173v2m0 101v2m0 189v2m0 172v2m0 21v2m0 102v1m0 8v1M394.5 171v2m0 76v2m0 11v2m0 108v2m0 33v2m0 40v1m0 24v2m0 89v1m0 31v2m0 11v2m0 72v2m0 29v2M405.5 110v2m0 1v2m0 18v2m0 16v2m0 7v2m0 2v2m0 22v1m0 35v2m0 52v2m0 2v2m0 18v3m0 8v1m0 4v2m0 56v2m0 58v2m0 67v2m0 41v2m0 7v2m0 80v2m0 5v2m0 81v2m0 18v2m0 9v2m0 2v2m0 3v2M416.5 170v1m0 66v1m0 11v2m0 9v2m0 16v2m0 24v1m0 17v2m0 65v2m0 72v2m0 5v2m0 31v2m0 43v2m0 13v2m0 12v2m0 54v2m0 13v2m0 5v4m0 34v2m0 7v6m0 25v2m0 29v2M421.5 336v2m0 2v2m0 50v2m0 22v2m0 315v2M432.5 119v2m0 72v2m0 22v1m0 135v1m0 8v1m0 95v1m0 4v2m0 14v2m0 4v2m0 12v2m0 18v2m0 31v2m0 12v2m0 51v2m0 36v2m0 38v2m0 50v2m0 17v3M443.5 112v1m0 319v2m0 129v2M448.5 86v2m0 109v2m0 88v2m0 112v2m0 17v1m0 9v2m0 6v2m0 14v2m0 51v1m0 98v2m0 2v2m0 12v2m0 42v2m0 72v2m0 33v1M459.5 269v2m0 16v2m0 281v2m0 138v1M470.5 126v2m0 99v2m0 13v2m0 11v1m0 8v2m0 1v2m0 11v2m0 2v1m0 42v2m0 9v2m0 3v2m0 15v2m0 20v1m0 125v2m0 7v2m0 96v2m0 20v2m0 29v2m0 20v1m0 38v2m0 24v3m0 17v2M475.5 199v1m0 13v2m0 76v2m0 2v1m0 26v2m0 68v2m0 69v2m0 11v2m0 30v2m0 36v2m0 8v1m0 9v2m0 6v1m0 68v1m0 37v1m0 20v2m0 16v2m0 20v2M486.5 86v2m0 24v1m0 11v2m0 11v2m0 40v1m0 28v1m0 44v2m0 36v2m0 23v2m0 7v2m0 22v2m0 40v1m0 35v2m0 45v2m0 7v2m0 23v2m0 9v2m0 9v2m0 11v2m0 9v2m0 39v4m0 38v2m0 33v3m0 2v2m0 58v3M491.5 117v2m0 179v2m0 147v2m0 68v2m0 107v4m0 72v2M502.5 224v2m0 219v2m0 23v2m0 82v2m0 5v2m0 3v2m0 51v2m0 52v2m0 35v1m0 58v4M513.5 97v2m0 3v2m0 6v2m0 36v2m0 9v1m0 57v1m0 49v2m0 163v2m0 16v2m0 53v2m0 5v4m0 70v2m0 22v2m0 56v2m0 40v1m0 28v1m0 11v2m0 2v2M518.5 229v2m0 15v1m0 64v2m0 30v2m0 47v2m0 80v2m0 109v3m0 58v2m0 100v1m0 22v2M529.5 90v2m0 1v2m0 55v1m0 44v2m0 87v1m0 6v2m0 18v2m0 221v2m0 3v2m0 7v2m0 35v1m0 13v2m0 20v2m0 18v2m0 5v2m0 2v1m0 4v2m0 32v2m0 42v2m0 5v2m0 14v2M540.5 135v2m0 36v2m0 112v2m0 54v2m0 37v1m0 131v3m0 19v1m0 62v2m0 9v2m0 38v2m0 41v2m0 11v2m0 12v2m0 26v1M545.5 179v1m0 4v2m0 13v1m0 6v2m0 27v2m0 12v2m0 45v2m0 33v2m0 10v2m0 31v2m0 47v2m0 27v2m0 90v2m0 6v2m0 14v2m0 31v1m0 28v1m0 17v2m0 10v2m0 13v2m0 36v2m0 31v1m0 8v1m0 13v2M556.5 85v1m0 7v2m0 11v2m0 11v2m0 29v1m0 19v1m0 8v1m0 9v2m0 60v2m0 20v2m0 21v2m0 45v2m0 49v2m0 44v1m0 17v1m0 17v2m0 30v2m0 22v2m0 52v2m0 24v2m0 10v2m0 15v2m0 61v2m0 34v2m0 29v2M567.5 93v2m0 38v2m0 105v2m0 33v1m0 9v2m0 42v2m0 123v2m0 60v1m0 231v1m0 9v2M572.5 166v2m0 32v2m0 29v2m0 27v2m0 69v2m0 16v2m0 31v1m0 292v2m0 27v2M583.5 204v2m0 25v2m0 29v2m0 103v2m0 13v1m0 28v1m0 80v4m0 18v2m0 50v2m0 18v2m0 18v2m0 40v2m0 49v1M594.5 101v1m0 13v2m0 9v2m0 98v1m0 13v2m0 18v2m0 31v2m0 32v2m0 18v2m0 31v2m0 1v2m0 31v2m0 74v2m0 34v2m0 58v2m0 5v2m0 9v2m0 100v2m0 14v2M599.5 168v2m0 88v2m0 24v1m0 145v2m0 46v1m0 15v2m0 31v1m0 165v2M610.5 106v2m0 16v2m0 83v2m0 44v1m0 26v2m0 14v2m0 45v2m0 7v2m0 47v2m0 109v2m0 61v2m0 25v2m0 20v2m0 34v2m0 8v1m0 96v2m0 2v2m0 16v2M621.5 102v2m0 55v1m0 198v2m0 54v2m0 16v2m0 24v1m0 62v2m0 76v2m0 45v2m0 58v2m0 2v1m0 13v2m0 38v2M626.5 133v2m0 102v1m0 6v2m0 18v2m0 10v4m0 7v2m0 13v2m0 16v2m0 9v2m0 25v2m0 7v2m0 5v2m0 18v2m0 20v2m0 54v2m0 2v2m0 14v2m0 33v1m0 35v2m0 70v2m0 83v2m0 13v2m0 9v2m0 12v2M637.5 90v2m0 1v2m0 245v2m0 159v2m0 91v1m0 89v2m0 9v2m0 20v2m0 47v2M648.5 122v2m0 11v2m0 150v2m0 47v2m0 16v2m0 49v2m0 14v2m0 49v2m0 5v2m0 26v1m0 9v2m0 56v2m0 17v5m0 7v2m0 29v2m0 9v2m0 79v2m0 37v1M653.5 146v2m0 32v2m0 36v2m0 93v1m0 24v2m0 81v2m0 22v2m0 22v1m0 22v2m0 11v2m0 16v2m0 5v2m0 4v1m0 13v2m0 25v2m0 2v4m0 38v1m0 73v2M664.5 90v2m0 65v2m0 7v2m0 9v2m0 130v2m0 27v2m0 2v1m0 93v2m0 50v2m0 53v2m0 1v2m0 40v2m0 60v2m0 1v2m0 98v2M675.5 85v1m0 13v2m0 76v2m0 23v2m0 52v2m0 82v2m0 49v1m0 64v2m0 87v1m0 60v2m0 73v1m0 60v4m0 9v2m0 9v2M680.5 110v2m0 125v1m0 9v2m0 89v2m0 29v2m0 36v2m0 14v2m0 29v2m0 18v2m0 89v1m0 104v2m0 25v2m0 40v1m0 11v2M691.5 115v2m0 4v1m0 4v2m0 25v2m0 25v2m0 7v2m0 2v2m0 45v4m0 47v4m0 88v2m0 2v2m0 32v2m0 33v2m0 20v1m0 113v2m0 63v2m0 65v2m0 11v2m0 9v1m0 2v4m0 9v2m0 7v2M707.5 476v2m0 63v2m0 14v2m0 16v2m0 60v2m0 25v2m0 103v2m0 2v2M718.5 124v2m0 15v1m0 2v4m0 2v1m0 11v2m0 24v1m0 11v2m0 87v2m0 42v1m0 64v2m0 43v2m0 25v2m0 15v1m0 39v1m0 75v1m0 37v2m0 57v2M729.5 195v2m0 43v2m0 16v2m0 16v2m0 44v2m0 145v3m0 53v2m0 77v2m0 40v2m0 5v2m0 74v2m0 18v2m0 18v2M761.5 128v2m0 21v2m0 22v2m0 23v2m0 35v1m0 44v2m0 3v2m0 44v1m0 84v2m0 1v2m0 17v1m0 17v1m0 2v4m0 23v2m0 47v2m0 4v2m0 58v1m0 49v2m0 2v2m0 49v2m0 3v2m0 5v2M772.5 112v1m0 53v2m0 2v1m0 4v2m0 7v2m0 3v2m0 40v2m0 43v2m0 85v2m0 2v2m0 20v2m0 54v4m0 43v2m0 98v2m0 27v2m0 5v2m0 22v1m0 115v1M799.5 124v2m0 428v2m0 12v2m0 136v2m0 3v2m0 9v2m0 2v2m0 23v2m0 7v2M826.5 385v2m0 36v2m0 143v2m0 192v2M853.5 142v2m0 196v2m0 23v2m0 49v2m0 69v1m0 4v2m0 20v2m0 156v1m0 104v1M880.5 141v1m0 66v1m0 156v2m0 45v2m0 42v2m0 30v2m0 125v2m0 131v1m0 28v1M907.5 131v2m0 26v3m0 37v1m0 8v1m0 4v2m0 78v2m0 36v2m0 38v1m0 28v1m0 231v1m0 138v2M934.5 102v2m0 147v2m0 2v1m0 437v2m0 49v2m0 23v2"/>
<path stroke="#472f7d" stroke-width="6" d="M130 188v1m0 60v2m0 20v2m0 36v2m0 103v2m0 109v2m0 29v1m0 169v2m0 11v1m0 22v2M141 97v2m0 5v2m0 13v2m0 18v2m0 12v2m0 5v2m0 13v2m0 12v2m0 60v2m0 23v2m0 56v2m0 15v2m0 61v2m0 49v2m0 3v2m0 36v2m0 24v2m0 21v2m0 4v2m0 21v2m0 20v2m0 43v2m0 7v2m0 4v2m0 11v1m0 58v4m0 18v2M157 85v1m0 56v2m0 58v2m0 116v2m0 38v2m0 116v1m0 55v2m0 74v2m0 12v2m0 38v4m0 56v4M168 166v2m0 76v2m0 29v3m0 120v2m0 30v2m0 96v2m0 2v2m0 25v2m0 36v2m0 2v2m0 174v1M184 86v2m0 9v2m0 9v2m0 168v2m0 83v2m0 53v2m0 165v3m0 69v2m0 49v2m0 52v4M195 112v1m0 35v2m0 3v2m0 236v1m0 6v2m0 36v2m0 90v2m0 36v2m0 67v2m0 98v2m0 9v2M211 200v2m0 20v2m0 18v2m0 11v1m0 97v1m0 29v2m0 26v1m0 49v2m0 69v2m0 5v2m0 138v2m0 19v2m0 22v2M222 90v2m0 78v1m0 40v2m0 4v1m0 9v2m0 55v1m0 19v1m0 2v2m0 20v2m0 5v2m0 5v2m0 49v2m0 9v2m0 22v1m0 15v2m0 2v1m0 33v2m0 47v2m0 152v2m0 2v1m0 29v2m0 4v2m0 12v2M238 117v2m0 52v2m0 16v2m0 78v2m0 132v2m0 20v2m0 45v2m0 210v2m0 22v2m0 10v2m0 56v2M249 121v1m0 218v2m0 59v2m0 13v2m0 23v2m0 114v2m0 2v2m0 18v2m0 50v2M265 182v2m0 40v2m0 29v1m0 17v2m0 7v2m0 188v2m0 47v2m0 22v1m0 13v2m0 51v2m0 59v2m0 62v2m0 32v2m0 4v1M276 88v4m0 29v1m0 35v2m0 21v2m0 40v2m0 20v2m0 36v2m0 56v2m0 27v2m0 45v2m0 45v2m0 4v3m0 22v2m0 5v2m0 20v2m0 11v1m0 19v3m0 16v2m0 26v1m0 2v2m0 16v2m0 11v2m0 4v1m0 37v1m0 42v2m0 3v2m0 6v2m0 7v2m0 10v2M292 104v2m0 105v2m0 27v2m0 7v2m0 274v2m0 23v2m0 49v2m0 96v1M303 151v2m0 114v2m0 18v2m0 27v2m0 165v2m0 42v1m0 11v2m0 94v2m0 96v2m0 38v2M319 92v1m0 17v2m0 77v2m0 75v1m0 4v2m0 2v1m0 44v2m0 2v1m0 2v2m0 16v2m0 18v2m0 111v1m0 164v1m0 15v2m0 58v1M330 155v2m0 103v2m0 20v2m0 38v2m0 36v2m0 36v2m0 76v2m0 9v1m0 58v2m0 8v1m0 15v2m0 36v2m0 34v2m0 16v2m0 2v2m0 12v2m0 76v2M346 166v2m0 5v2m0 13v1m0 10v1m0 9v2m0 45v2m0 98v2m0 29v4m0 59v2m0 31v2m0 2v1m0 6v4m0 50v2m0 13v2m0 36v2m0 50v2m0 27v2m0 51v4m0 1v2m0 20v2M357 93v2m0 120v2m0 47v2m0 32v2m0 127v2m0 339v1M373 177v2m0 96v1m0 9v2m0 116v2m0 4v2m0 183v1m0 24v2M384 108v2m0 107v1m0 205v2m0 134v2m0 89v2m0 114v2M400 99v2m0 21v2m0 11v2m0 22v1m0 60v2m0 4v3m0 4v2m0 12v2m0 4v2m0 30v2m0 6v2m0 25v2m0 96v2m0 23v2m0 27v2m0 4v1m0 29v2m0 7v2m0 9v2m0 11v2m0 11v2m0 48v2m0 8v1m0 91v2m0 5v2m0 14v2m0 35v2M411 182v2m0 600v2M427 93v2m0 44v2m0 32v2m0 36v2m0 16v2m0 11v2m0 22v1m0 26v2m0 79v2m0 36v2m0 36v2m0 18v2m0 73v1m0 20v2m0 20v2m0 38v2m0 16v2m0 33v1m0 11v2M438 193v2m0 277v2m0 40v2M454 95v2m0 11v2m0 76v2m0 23v2m0 94v2m0 2v2m0 70v2m0 9v2m0 56v2m0 47v2m0 18v2m0 71v1m0 62v2m0 69v1m0 37v2M465 137v2m0 27v2m0 25v2m0 65v2m0 11v2m0 81v2m0 82v1m0 160v2m0 136v1m0 35v2M481 112v1m0 18v2m0 116v2m0 29v2m0 18v2m0 40v1m0 48v3m0 13v2m0 16v2m0 22v3m0 4v2m0 69v1m0 29v2m0 15v1m0 2v2m0 35v1m0 18v2m0 37v1m0 66v1m0 24v2M497 108v2m0 78v1m0 127v2m0 4v2m0 10v2m0 4v2m0 78v1m0 42v2m0 22v1m0 44v2m0 54v4m0 9v2m0 1v2m0 26v1m0 8v2m0 5v2m0 7v2m0 34v2m0 36v2m0 22v2M508 119v2m0 34v2m0 3v2m0 51v2m0 60v1m0 13v2m0 51v1m0 104v2m0 3v2m0 45v2m0 24v3m0 4v2m0 18v2m0 40v1m0 11v4m0 5v2m0 40v2m0 9v2m0 30v2m0 8v3m0 13v2m0 1v2M524 139v2m0 70v2m0 18v2m0 29v2m0 3v2m0 27v2m0 16v2m0 87v2m0 94v2m0 7v2m0 111v2m0 94v2m0 45v2M535 121v1m0 78v2m0 13v2m0 52v2m0 149v1m0 15v2m0 107v1m0 91v2m0 25v2M551 222v2m0 2v1m0 73v2m0 23v2m0 7v2m0 46v1m0 11v2m0 34v2m0 6v2m0 41v2m0 4v1m0 46v2m0 5v2m0 3v2m0 40v2M562 106v2m0 9v2m0 2v1m0 198v2m0 56v2m0 43v2m0 33v1m0 39v1m0 35v3m0 20v2m0 16v2m0 123v4m0 45v2m0 17v1M578 151v2m0 100v2m0 25v2m0 20v2m0 1v2m0 4v2m0 50v2m0 20v2m0 2v2m0 139v2m0 7v2m0 16v2m0 15v1m0 20v2m0 29v2m0 7v2m0 118v2m0 9v2M589 128v2m0 40v1m0 9v2m0 127v2m0 2v1m0 20v2m0 18v2m0 27v6m0 9v2m0 29v1m0 26v2m0 18v2m0 56v2m0 25v4m0 27v2m0 1v2m0 13v2m0 11v1M605 93v2m0 9v2m0 7v2m0 85v2m0 11v2m0 67v2m0 1v2m0 31v2m0 20v2m0 23v2m0 49v2m0 36v2m0 27v2m0 32v2m0 6v2m0 52v2m0 27v2m0 56v2m0 56v2m0 11v2m0 14v2M616 133v2m0 36v2m0 4v2m0 14v2m0 31v3m0 6v2m0 29v1m0 18v2m0 15v2m0 30v2m0 18v2m0 6v1m0 11v2m0 51v2m0 23v2m0 33v1m0 93v2m0 5v2m0 9v2m0 58v2m0 34v2m0 27v2m0 11v2M632 88v2m0 34v2m0 20v2m0 134v2m0 174v1m0 28v1m0 162v2M643 86v2m0 5v2m0 22v2m0 11v1m0 22v2m0 13v2m0 19v2m0 75v1m0 37v1m0 71v2m0 65v2m0 5v2m0 17v3m0 15v1m0 77v1m0 15v2m0 31v1m0 62v2m0 21v2m0 49v2m0 7v2m0 9v2M659 307v2m0 22v2m0 3v2m0 76v2m0 49v2m0 9v2m0 117v2m0 17v1m0 127v2m0 20v2M670 115v2m0 2v2m0 18v2m0 86v2m0 8v3m0 51v2m0 127v3m0 6v1m0 33v2m0 98v2m0 29v1m0 6v2m0 54v2m0 3v4m0 25v2m0 6v1m0 24v2m0 36v2M686 164v2m0 4v1m0 82v2m0 166v2m0 162v1m0 185v2M697 131v2m0 22v2m0 54v2m0 27v2m0 51v2m0 3v2m0 7v2m0 53v1m0 11v2m0 7v2m0 18v2m0 36v2m0 11v2m0 25v2m0 11v2m0 56v2m0 3v2m0 9v2m0 4v1m0 6v2m0 7v2m0 7v2m0 23v2m0 11v2m0 16v2m0 7v2m0 11v2m0 63v2m0 7v2m0 2v2m0 11v1M740 157v2m0 29v1m0 35v2m0 7v2m0 36v2m0 248v2m0 34v2m0 9v4m0 47v2m0 67v2m0 76v2m0 1v2M751 95v2m0 24v1m0 2v2m0 36v2m0 2v2m0 45v4m0 10v2m0 2v2m0 51v1m0 29v2m0 9v2m0 123v2m0 15v2m0 7v2m0 3v2m0 13v2m0 52v2m0 14v2m0 7v2m0 44v2m0 5v2m0 60v1m0 17v5m0 26v1m0 29v2"/>
<path stroke="#443983" stroke-width="5" d="M124.5 242v2M135.5 193v2m0 313v2m0 152v2M146.5 97v2m0 32v2m0 453v2m0 85v2m0 24v1m0 44v2m0 7v4m0 9v2M151.5 124v2m0 4v1m0 82v2m0 148v2m0 133v1m0 2v2m0 9v2m0 18v2m0 7v2m0 9v2m0 7v2m0 5v2m0 51v2M162.5 133v2m0 315v2m0 27v2m0 46v1m0 247v2M173.5 177v2m0 43v2m0 98v2m0 117v2m0 69v2m0 100v1m0 31v2m0 63v2m0 33v2m0 3v2M178.5 206v2m0 3v2m0 38v2m0 18v2m0 161v2m0 25v2m0 100v2m0 72v2m0 130v2M189.5 128v2m0 7v4m0 3v2m0 81v2m0 85v2m0 49v4m0 3v2m0 62v2m0 96v2m0 110v2m0 11v2m0 97v2M200.5 521v2M205.5 131v2m0 100v2m0 433v2M216.5 231v2m0 25v2m0 15v1m0 135v1m0 60v2m0 72v2m0 13v2m0 90v2m0 89v2M227.5 113v2m0 13v2m0 49v1m0 2v2m0 147v2m0 172v2m0 81v2m0 9v2m0 89v1m0 17v2M232.5 93v2m0 51v2m0 47v2m0 7v2m0 11v1m0 31v2m0 111v1m0 131v2m0 5v2m0 34v2M243.5 200v2m0 80v2m0 7v2m0 217v2m0 256v1M254.5 101v1m0 162v2m0 96v1m0 26v2m0 166v2m0 18v2M259.5 353v1m0 174v2m0 51v2m0 152v2M270.5 285v2m0 44v2m0 3v2m0 178v1m0 13v2m0 123v2m0 7v2M281.5 104v2m0 87v2m0 63v2m0 165v2m0 5v2m0 169v1m0 33v2m0 81v2M286.5 115v2m0 205v2m0 137v2m0 163v2m0 22v2m0 14v2m0 81v2m0 17v1M297.5 121v1m0 158v2M308.5 396v2m0 2v1m0 368v2M313.5 251v2m0 292v1m0 115v1m0 106v1M324.5 300v2m0 49v2m0 199v2m0 25v2m0 47v2M335.5 360v2m0 186v2m0 71v2m0 150v2M340.5 220v2m0 163v2m0 24v1m0 58v2m0 234v2m0 9v2m0 9v1m0 29v2M351.5 110v2m0 10v2m0 55v1m0 29v2m0 13v2m0 150v2m0 72v2m0 35v1m0 20v2m0 82v2m0 92v2M362.5 146v2m0 105v2m0 47v2m0 85v2m0 130v2m0 118v2m0 18v1M367.5 88v2m0 273v2m0 33v2m0 215v2M378.5 322v2m0 76v1m0 2v2m0 67v2m0 123v2m0 53v1m0 4v2m0 11v2m0 7v2m0 7v2m0 14v2m0 4v1m0 24v2m0 20v1M394.5 487v1m0 238v2M405.5 86v2m0 38v2m0 69v2m0 5v2m0 34v2m0 53v1m0 151v2m0 38v3m0 69v2m0 62v1m0 8v1m0 11v2m0 93v1m0 28v1m0 2v2M416.5 99v2m0 119v2m0 65v2m0 2v2m0 79v2m0 80v2m0 9v2m0 92v2m0 36v2m0 44v1m0 8v1m0 28v1m0 87v4M421.5 769v2M432.5 403v2m0 44v1m0 298v1M448.5 104v2m0 25v2m0 71v2m0 41v4m0 47v2m0 150v2m0 91v2m0 11v1m0 55v2m0 34v2m0 38v2m0 61v2M459.5 244v2m0 522v3M470.5 137v2m0 81v2m0 31v2m0 7v2m0 148v4m0 54v2m0 65v2m0 44v2m0 85v2m0 43v2M475.5 115v2m0 67v2m0 47v2m0 130v2m0 285v1M486.5 135v2m0 23v2m0 55v1m0 28v1m0 66v1m0 91v2m0 18v2m0 78v2m0 18v2m0 36v3m0 98v2m0 40v2m0 25v4m0 21v2m0 6v2M491.5 479v2m0 127v2m0 158v1M502.5 115v2m0 123v2m0 103v2m0 103v2m0 55v1m0 116v2m0 147v2M513.5 276v2m0 158v2m0 237v2M518.5 124v2m0 69v2m0 165v1m0 136v2m0 107v2m0 129v1m0 28v3M529.5 180v2m0 35v1m0 84v2m0 45v2m0 34v4m0 80v1m0 15v2m0 69v1m0 22v2m0 139v2M540.5 151v2m0 230v2m0 69v2m0 36v2m0 18v2m0 158v1m0 93v2M545.5 112v1m0 2v4m0 12v2m0 53v2m0 96v1m0 33v2m0 7v2m0 22v2m0 32v4m0 5v2m0 125v2m0 71v1m0 91v2m0 81v2M556.5 110v2m0 47v1m0 67v2m0 6v2m0 21v2m0 49v2m0 3v2m0 29v4m0 2v2m0 1v2m0 185v2m0 23v2m0 2v2m0 7v2m0 87v2m0 18v2m0 5v2m0 69v2M567.5 110v2m0 61v2m0 51v1m0 151v2m0 252v1M583.5 148v2m0 49v1m0 38v2m0 125v2m0 205v2m0 5v2m0 132v2M594.5 159v1m0 48v1m0 256v2m0 2v1m0 51v2m0 40v2m0 90v2M599.5 104v2M610.5 97v2m0 67v2m0 246v2m0 4v1m0 109v2m0 69v2m0 172v2M621.5 242v2m0 76v2m0 342v2m0 102v1M626.5 88v2m0 7v2m0 13v1m0 87v2m0 20v2m0 9v2m0 36v2m0 16v2m0 223v2m0 29v1m0 55v2m0 112v2m0 7v4M637.5 104v2m0 228v2m0 236v2M648.5 342v1m0 51v2m0 136v2m0 34v2m0 136v2m0 20v1M653.5 117v2m0 32v2m0 64v1m0 37v1m0 22v2m0 22v2m0 16v2m0 36v2m0 29v2m0 25v2m0 36v2m0 51v1m0 4v2m0 136v2m0 43v2m0 14v2m0 27v2m0 15v1M664.5 231v2m0 62v1m0 207v2m0 9v2m0 223v1m0 8v1M675.5 295v1m0 71v2m0 43v2m0 20v2m0 143v2m0 27v2m0 98v2m0 61v2M680.5 119v2m0 12v2m0 241v2m0 63v2m0 84v1M691.5 227v2m0 162v1m0 93v2m0 11v1m0 18v2m0 46v1m0 49v2m0 116v2M707.5 184v2m0 116v2m0 464v1M718.5 86v2m0 42v1m0 318v1M729.5 211v2m0 25v2m0 65v2m0 221v2m0 241v4M761.5 231v2m0 11v2m0 525v4M772.5 191v2m0 500v2m0 65v2m0 7v2m0 6v1M799.5 409v3m0 29v2m0 180v1m0 149v2m0 7v2M853.5 296v2m0 4v2m0 175v2m0 196v2m0 58v2m0 36v2m0 5v2M880.5 392v2m0 64v1m0 191v2m0 3v2m0 116v2M907.5 246v1m0 135v1m0 24v2m0 60v1m0 158v2m0 16v2m0 107v2m0 12v2M934.5 112v1m0 84v2m0 65v2m0 130v2"/>
<path stroke="#443983" stroke-width="6" d="M130 266v1m0 35v2m0 454v2M141 92v1m0 22v2m0 25v2m0 93v1m0 29v2m0 74v2m0 4v2m0 70v2m0 58v2m0 73v1m0 26v2m0 12v2m0 74v2m0 35v1M157 191v2m0 107v2m0 38v2m0 279v2M168 650v2m0 12v2m0 105v2M184 135v2m0 58v2m0 85v2m0 11v1m0 363v2m0 7v2M195 421v2m0 27v2m0 53v2m0 101v2m0 159v2M211 247v2m0 330v2m0 179v2m0 4v5m0 11v2M222 255v1m0 8v2m0 21v2m0 4v2m0 159v2m0 40v2m0 61v2m0 71v1m0 26v2m0 16v2m0 16v2M238 104v2m0 116v2m0 190v2m0 67v2m0 295v2M249 336v2m0 160v1m0 9v2m0 258v1M265 188v1m0 154v2m0 29v2m0 167v2m0 105v2m0 23v2m0 74v2m0 2v2m0 18v2M276 99v2m0 54v2m0 47v2m0 2v1m0 40v2m0 73v1m0 124v1m0 29v2m0 58v2m0 38v2m0 118v3m0 67v2M292 313v1m0 33v2m0 147v2m0 5v2m0 226v2M303 443v2m0 203v2M319 532v2m0 226v2M330 133v2m0 165v2m0 16v2m0 22v1m0 26v2m0 18v2m0 16v2m0 159v2m0 121v2m0 71v4M346 99v2m0 5v4m0 32v2m0 15v1m0 156v2m0 51v2m0 21v2m0 36v2m0 80v2m0 89v1m0 10v1m0 13v2m0 16v2m0 80v1M373 302v2m0 12v2m0 16v2m0 354v1m0 77v1M400 139v2m0 19v2m0 20v4m0 14v2m0 7v2m0 24v2m0 88v2m0 16v2m0 51v2m0 47v2m0 23v2m0 51v2m0 11v1m0 160v2M427 209v2m0 9v2m0 54v2m0 276v2M454 548v2m0 54v2m0 38v2m0 83v2M465 85v1m0 98v2m0 80v1m0 127v2m0 181v2m0 51v2m0 101v2m0 42v1M481 106v2m0 139v2m0 346v2m0 69v2m0 20v2m0 16v2M497 235v2m0 1v2m0 147v2m0 32v2m0 20v2m0 56v2m0 140v1m0 66v1M508 88v2m0 132v2m0 40v2m0 5v2m0 3v2m0 53v2m0 39v2m0 31v2m0 13v1m0 183v2m0 17v1m0 38v2m0 9v2m0 67v2m0 20v2M524 104v2m0 498v2m0 160v2M535 171v2m0 325v1m0 69v2M551 102v2m0 410v3m0 155v1m0 42v2m0 18v2M562 255v1m0 156v2m0 33v2m0 5v2m0 31v1m0 131v2m0 148v2M578 119v2m0 174v1m0 44v2m0 9v2m0 59v2m0 103v2m0 129v2m0 70v2m0 31v2m0 2v1m0 6v2M589 208v1m0 13v2m0 3v2m0 69v2m0 205v2m0 34v2m0 13v1M605 235v2m0 7v2m0 61v2m0 20v2m0 161v2m0 14v2m0 36v2m0 138v2m0 80v1M616 209v2m0 96v2m0 257v2m0 7v2M643 112v1m0 209v2m0 184v2m0 53v2m0 184v2m0 18v2M659 208v1m0 134v2m0 299v2M670 200v2m0 91v2m0 101v2m0 51v1m0 198v2m0 3v2m0 114v2M686 108v2m0 659v2M697 237v1m0 11v2m0 5v2m0 64v2m0 12v2m0 82v1m0 38v2m0 24v2m0 67v2m0 50v2m0 2v2m0 5v2m0 22v2M740 226v1m0 97v1m0 44v2m0 40v1m0 359v2M751 85v1m0 47v2m0 136v2m0 58v2m0 132v2m0 90v2m0 185v2"/>
<path stroke="#414487" stroke-width="5" d="M146.5 170v1m0 53v2M151.5 247v2m0 147v2m0 112v2M162.5 508v2m0 7v2M173.5 418v2m0 10v2m0 265v2M178.5 238v2m0 165v2m0 16v2m0 69v2M189.5 398v2m0 369v2M200.5 137v2m0 161v2m0 464v2m0 3v2M205.5 771v2M216.5 414v2M227.5 146v2m0 313v2m0 207v2m0 9v1m0 66v1m0 19v1M232.5 606v2m0 25v2m0 133v3M243.5 318v2M254.5 115v2m0 101v2M259.5 682v2m0 82v2M270.5 775v2M281.5 325v2m0 7v2m0 93v1M286.5 338v2M308.5 720v2m0 49v2M324.5 113v2m0 2v2m0 188v2m0 58v2m0 42v1m0 285v2m0 67v2M335.5 710v1M340.5 662v2M351.5 425v2m0 302v2m0 2v2M362.5 318v2m0 91v1m0 49v2m0 227v1m0 77v3M367.5 258v2M378.5 519v2m0 212v2m0 25v2M389.5 771v2M394.5 88v2M405.5 343v2m0 6v2m0 34v2m0 87v2M416.5 144v2m0 101v2m0 238v1m0 11v2m0 9v2M421.5 771v2M432.5 771v4M448.5 309v2m0 5v2m0 232v2m0 94v2m0 120v1M470.5 160v2m0 272v2M475.5 122v2m0 374v1m0 269v3m0 2v2M486.5 159v1m0 138v2m0 185v2m0 1v2m0 4v2m0 89v1m0 28v3m0 29v2m0 51v1M491.5 374v2m0 395v2m0 4v1M502.5 775v2M513.5 563v2M518.5 171v2m0 314v1M529.5 267v2m0 122v1m0 9v2m0 42v2m0 27v2m0 41v2M540.5 463v2m0 306v2M545.5 90v2m0 9v1m0 4v2m0 2v2m0 36v2m0 164v2m0 203v2m0 189v1m0 62v2M556.5 146v2m0 83v2m0 223v2m0 304v2m0 5v2M567.5 528v2M572.5 454v2M583.5 155v2m0 618v2M594.5 411v1m0 307v1M599.5 200v2m0 566v1m0 2v2M610.5 175v2m0 94v2M621.5 130v1m0 332v2M626.5 159v1m0 218v2m0 107v1m0 33v2m0 69v2m0 179v2M648.5 164v2m0 206v2m0 17v1m0 67v2m0 95v1m0 66v1M653.5 282v2m0 128v2m0 42v2m0 14v2m0 245v1m0 15v2M675.5 327v2M680.5 604v2m0 69v2m0 105v2M691.5 86v2m0 178v1m0 104v1M707.5 474v2m0 210v2m0 83v2m0 4v1M718.5 356v2m0 98v2m0 18v2m0 67v1M729.5 436v2M761.5 189v2m0 296v1m0 223v2m0 64v1M772.5 666v2m0 114v2M799.5 412v2m0 24v2M853.5 612v2M880.5 469v1m0 57v1m0 254v2M907.5 362v1M934.5 771v2"/>
<path stroke="#414487" stroke-width="6" d="M130 632v1m0 55v2m0 63v2m0 9v2M141 122v2m0 7v2m0 325v1m0 153v3M157 131v2m0 417v2m0 177v2M168 769v2M184 322v2m0 38v1m0 183v2m0 218v2M195 106v2m0 446v2m0 212v1M211 389v2m0 152v2m0 226v2M222 416v2m0 74v2m0 170v2M238 115v2m0 665v2M249 512v2M265 787v2M276 101v1m0 35v2m0 78v1m0 71v2m0 174v2m0 40v1m0 104v2m0 14v2m0 32v2M303 771v2M319 536v1M330 768v1M346 88v2m0 491v2M384 601v2M400 121v1m0 232v2m0 174v2M411 786v1M427 445v2m0 80v1m0 241v2M454 135v2m0 603v2m0 27v2M465 298v2M481 349v2m0 18v2m0 375v2M497 273v2m0 87v1m0 307v2M508 543v2M551 213v2m0 554v2M562 771v2M578 458v1M589 215v2m0 150v2m0 129v1m0 187v4M605 121v1m0 96v2m0 189v2m0 45v2m0 61v2m0 64v1m0 13v2m0 69v2M616 421v2m0 56v2M632 769v2M643 215v2m0 255v2m0 294v1M659 278v2m0 252v2M670 262v2m0 96v2m0 94v2m0 313v4M686 700v2m0 66v1M697 142v2m0 165v2m0 45v2m0 33v1m0 51v2m0 16v2m0 205v2m0 99v2M740 454v2m0 190v2m0 52v2m0 44v2M751 775v2"/>
<path stroke="#3d4d8a" stroke-width="5" d="M135.5 766v2M146.5 643v1M151.5 710v1M162.5 777v1M173.5 773v2M189.5 771v2M200.5 224v2M216.5 768v1M227.5 516v1m0 229v2m0 14v2m0 5v2M232.5 777v1M243.5 773v2m0 2v1M259.5 258v2m0 116v2M270.5 101v1m0 671v2m0 2v1M308.5 777v1M313.5 769v2M335.5 777v1M351.5 242v2m0 270v2M362.5 773v2M389.5 773v4M394.5 336v2M405.5 85v1m0 203v2m0 484v2M448.5 771v2M470.5 177v2m0 304v2m0 283v1m0 2v2M486.5 88v2m0 502v2m0 32v2M491.5 773v2M518.5 775v2M529.5 777v1M545.5 93v4m0 2v2m0 3v2m0 7v2m0 4v2m0 1v4m0 4v1m0 6v2m0 3v2m0 2v2m0 3v2m0 2v2m0 192v2m0 424v3m0 13v2M556.5 99v2m0 105v2m0 242v2m0 321v2M572.5 768v1M594.5 246v1M637.5 670v2M648.5 235v2M653.5 264v2m0 313v2M664.5 354v2m0 412v1m0 4v2M675.5 773v2m0 2v1M680.5 762v2M707.5 430v2m0 343v2M718.5 773v2m0 2v1M729.5 777v1M761.5 775v2m0 12v2M799.5 414v4m0 18v2M826.5 778v4"/>
<path stroke="#3d4d8a" stroke-width="6" d="M141 171v2m0 109v2m0 301v1M157 768v1M168 773v2M195 771v2M222 150v1m0 540v2m0 75v1M249 771v2m0 4v1M276 139v2m0 86v2m0 194v2m0 158v2m0 183v1M292 777v1M303 762v2m0 11v3M346 412v2M357 769v2m0 6v1M427 287v2m0 201v2M438 766v2M454 777v1M465 778v2M497 160v2M524 184v2m0 583v2M551 666v2M562 762v2M578 577v2M605 106v2m0 62v1m0 600v2M616 777v1M632 764v2m0 5v4m0 2v1M659 766v2M670 768v1M686 773v2M697 771v2M740 773v2M751 773v2"/>
<path stroke="#39568c" stroke-width="5" d="M162.5 766v2M173.5 768v1m0 2v2M178.5 771v4M200.5 769v2m0 2v2m0 2v1M216.5 775v2M227.5 771v2m0 4v1M259.5 769v2M308.5 789v2M313.5 777v1M362.5 777v1M405.5 777v1M416.5 773v2M421.5 773v2M432.5 777v1M443.5 768v1M448.5 474v2M459.5 771v4M475.5 771v2m0 4v1M486.5 762v2M513.5 766v2M529.5 762v2M545.5 88v2m0 2v1m0 9v2m0 17v1m0 4v2m0 5v2m0 6v1M556.5 764v2M572.5 777v1M610.5 762v2m0 13v1M621.5 777v1M626.5 777v1M637.5 777v1M648.5 766v2M653.5 769v2M664.5 771v2M675.5 309v2M718.5 775v2M729.5 775v2M799.5 440v1M880.5 780v2M907.5 773v2m0 2v1M934.5 775v3"/>
<path stroke="#39568c" stroke-width="6" d="M222 777v1M265 778v2M276 775v2M346 768v1M411 787v4M427 768v1M508 768v1M524 768v1m0 2v2M551 771v4M605 777v1M632 775v2M643 773v2M659 777v1M697 193v2m0 397v2m0 179v2m0 2v1M740 775v3M751 777v1"/>
<path stroke="#355f8d" stroke-width="5" d="M146.5 777v1M162.5 778v2M173.5 777v1M189.5 775v3M200.5 775v2M227.5 775v2M232.5 771v2m0 2v2M243.5 769v4M254.5 764v2M259.5 775v3M281.5 777v1M286.5 771v4M313.5 762v2m0 11v2M335.5 768v1M351.5 762v2M362.5 771v2M394.5 769v2M416.5 775v2M421.5 775v2M432.5 775v2M459.5 775v3M470.5 769v2m0 2v2m0 7v2m0 2v1M475.5 775v2M486.5 777v1M502.5 777v1M513.5 777v1M518.5 777v1M529.5 768v1M540.5 769v2m0 4v2M545.5 85v1m0 11v2m0 9v2m0 25v2m0 2v2m0 3v2m0 4v1m0 2v2M567.5 777v1M572.5 769v2m0 2v2M599.5 773v2m0 2v1M626.5 771v2M637.5 768v1M653.5 777v1M691.5 768v1M718.5 771v2M799.5 418v5m0 7v2m0 348v2M934.5 773v2"/>
<path stroke="#355f8d" stroke-width="6" d="M130 766v2M184 768v1m0 2v2M195 777v1M211 773v4M238 784v3M292 764v2m0 12v2M346 777v1M373 775v3M427 775v2M551 766v2m0 7v2M589 768v3m0 4v2M605 769v2M616 768v1M643 775v2M670 775v2M686 764v2m0 9v2"/>
<path stroke="#31688e" stroke-width="5" d="M151.5 777v1M178.5 775v2M216.5 777v1M227.5 773v2M259.5 773v2M281.5 768v1M286.5 777v1M308.5 775v2M313.5 773v2M351.5 777v1M362.5 775v2M389.5 769v2M405.5 773v2M416.5 777v1M470.5 777v1M491.5 769v2m0 4v2M513.5 768v1M540.5 773v2M545.5 86v2m0 40v2M556.5 778v2M567.5 766v2M583.5 768v3M599.5 766v2M610.5 778v2M621.5 773v2M626.5 769v2m0 4v2M637.5 771v4M648.5 769v4M653.5 768v1M664.5 777v1M675.5 762v2M680.5 775v3M691.5 762v2m0 7v2m0 4v1M772.5 780v2M799.5 423v4m0 2v1m0 2v4"/>
<path stroke="#31688e" stroke-width="6" d="M157 777v1M168 775v2M249 773v2M265 764v2M276 771v2M330 769v2M384 768v3M427 773v2m0 2v1M438 777v1M454 768v1M508 777v1M524 777v1M562 773v2M589 771v4M659 769v4M697 775v2"/>
<path stroke="#2f6c8e" stroke-width="5" d="M135.5 777v1M173.5 769v2M189.5 773v2M254.5 768v1m0 8v1M270.5 778v2M286.5 762v2M297.5 768v1m0 8v1M308.5 773v2M367.5 777v1M394.5 777v1M421.5 777v1M448.5 773v2M567.5 771v2M594.5 766v2M599.5 775v2m0 9v1M621.5 769v2M675.5 769v2M680.5 768v1M691.5 769v2M826.5 786v1M853.5 780v2M880.5 778v2M907.5 775v2"/>
<path stroke="#2f6c8e" stroke-width="6" d="M184 777v1M195 775v2M238 764v2M265 780v2M276 773v2M292 775v2M319 768v1M330 777v1M346 769v2M357 775v2M373 769v2M465 782v2M551 777v1M616 773v2M659 768v1M686 777v1"/>
<path stroke="#2d708e" stroke-width="5" d="M178.5 777v1M216.5 771v2M286.5 775v2M351.5 768v1m0 6v2M394.5 775v2M416.5 766v2M448.5 775v2M513.5 771v2M529.5 775v2M540.5 777v1M556.5 775v2M583.5 771v4M610.5 780v4M621.5 775v2M653.5 762v2M664.5 769v2M799.5 427v2m0 349v2M853.5 778v2M880.5 786v1"/>
<path stroke="#2d708e" stroke-width="6" d="M141 768v1M157 771v2M184 769v2M249 769v2M357 771v2M427 771v2M454 771v2M465 780v2M524 775v2M562 775v2M643 777v1M659 773v2M686 786v1"/>
<path stroke="#2b748e" stroke-width="5" d="M270.5 782v2M281.5 769v2M286.5 769v2M297.5 762v2M340.5 769v2M367.5 764v2M389.5 782v2M443.5 769v2m0 6v1M459.5 762v2M513.5 769v2M567.5 768v1m0 6v2M583.5 777v1M648.5 777v1M675.5 775v2M691.5 775v2M826.5 789v2"/>
<path stroke="#2b748e" stroke-width="6" d="M141 777v1M211 777v1M265 782v2M357 773v2M411 766v2M497 771v2M508 775v2M524 773v2M616 769v4M670 777v1M686 780v2"/>
<path stroke="#2a788e" stroke-width="5" d="M146.5 768v3m0 2v2M162.5 780v2M243.5 775v2M313.5 771v2M335.5 769v2M367.5 769v2M378.5 777v1M394.5 768v1m0 2v2M502.5 766v2M529.5 771v2M545.5 766v2M556.5 777v1M567.5 773v2M680.5 769v2M826.5 787v2"/>
<path stroke="#2a788e" stroke-width="6" d="M157 766v2M195 773v2M222 769v2M238 787v2M249 762v2m0 11v2M330 773v2M346 771v2M373 771v4M427 762v2M481 768v1M497 768v1M589 777v1M605 773v4"/>
<path stroke="#287c8e" stroke-width="5" d="M173.5 775v2M281.5 771v2M324.5 769v2M367.5 771v4M443.5 771v2M486.5 773v2M572.5 771v2m0 2v2M610.5 816v2M621.5 771v2M637.5 775v2M653.5 771v2"/>
<path stroke="#287c8e" stroke-width="6" d="M168 784v2M184 773v2M222 773v2M303 778v2M346 773v2M508 773v2M562 777v1"/>
<path stroke="#27808e" stroke-width="5" d="M151.5 769v6M216.5 773v2M324.5 768v1m0 8v1M432.5 782v2M443.5 773v2M540.5 789v2M594.5 777v1M621.5 782v2M648.5 775v2M729.5 778v2m0 2v2M761.5 782v2M772.5 778v2M799.5 815v1"/>
<path stroke="#27808e" stroke-width="6" d="M184 775v2M319 777v1M411 791v2M454 773v2M508 769v2M740 778v2"/>
<path stroke="#25848e" stroke-width="5" d="M135.5 768v1M162.5 782v2M189.5 782v2M259.5 771v2M340.5 777v1M394.5 773v2M486.5 768v1M513.5 782v2M610.5 815v1M648.5 773v2M653.5 775v2M772.5 804v2M799.5 816v2M826.5 818v2"/>
<path stroke="#25848e" stroke-width="6" d="M157 769v2M222 771v2M292 768v5M346 775v2M384 777v1M400 768v3M438 769v2m0 2v4M454 786v1M616 775v2M740 782v2"/>
<path stroke="#23888e" stroke-width="5" d="M146.5 771v2M270.5 780v2M297.5 771v2M313.5 778v2M324.5 771v2M443.5 775v2M491.5 780v4M529.5 769v2M626.5 782v2M675.5 782v2M799.5 787v2M907.5 778v2"/>
<path stroke="#23888e" stroke-width="6" d="M157 773v2M222 782v2M292 773v2M400 777v1M465 806v1M481 769v2M497 777v1M632 782v2M670 778v2M751 782v2"/>
<path stroke="#228c8d" stroke-width="5" d="M162.5 816v2M178.5 778v2M205.5 769v2M259.5 782v2M281.5 775v2M313.5 782v2M324.5 773v2M351.5 773v2M362.5 782v2M405.5 778v2M502.5 778v2M518.5 778v2M529.5 773v2M707.5 782v2M761.5 797v1M880.5 787v2"/>
<path stroke="#228c8d" stroke-width="6" d="M238 789v2m0 13v2M265 815v1M303 780v4M319 769v4M330 771v2M373 793v2M384 773v2M454 782v2M465 786v1M497 773v2M643 782v2M659 782v2"/>
<path stroke="#21918c" stroke-width="5" d="M135.5 775v2M200.5 782v2M205.5 777v1M216.5 769v2M243.5 782v2M254.5 769v2M297.5 769v2M340.5 771v2M367.5 775v2M405.5 780v2M502.5 782v2M513.5 775v2M545.5 782v2M567.5 782v2M594.5 768v3M653.5 773v2M691.5 782v2M853.5 787v2"/>
<path stroke="#21918c" stroke-width="6" d="M141 775v2M184 778v2M249 782v2M357 782v2M411 793v2M427 782v2M454 775v2M481 777v1M535 777v1M551 811v2M605 782v2M643 780v2"/>
<path stroke="#1f948c" stroke-width="5" d="M124.5 777v1M173.5 782v2M205.5 768v1M227.5 782v2M254.5 773v2M308.5 782v2M335.5 775v2M394.5 782v2M416.5 778v2M513.5 773v2M545.5 780v2M572.5 782v2M637.5 782v2M680.5 771v2M718.5 782v2m0 2v1M907.5 782v2"/>
<path stroke="#1f948c" stroke-width="6" d="M222 775v2M265 800v2M400 773v2M411 807v2M438 768v1M465 784v2M616 782v2M659 775v2"/>
<path stroke="#1f988b" stroke-width="5" d="M162.5 786v1M216.5 782v2M232.5 782v2M297.5 773v2M324.5 775v2M389.5 780v2M405.5 782v2M416.5 782v2M448.5 782v2M502.5 780v2M529.5 782v2M599.5 782v2M610.5 784v2M680.5 773v2M761.5 778v2M772.5 789v2M907.5 780v2M934.5 782v2"/>
<path stroke="#1f988b" stroke-width="6" d="M157 782v2M249 778v2M276 782v2M384 775v2M465 809v2M508 782v2M535 771v2M578 777v1M589 782v2M697 782v2M751 818v2"/>
<path stroke="#1e9c89" stroke-width="5" d="M162.5 784v2M178.5 780v4M286.5 782v2M416.5 780v2M421.5 782v2M475.5 782v2M518.5 780v2M556.5 782v2m0 11v2M594.5 775v2M664.5 782v2M799.5 802v2M826.5 815v3M880.5 789v2"/>
<path stroke="#1e9c89" stroke-width="6" d="M130 777v1M141 773v2M168 780v4M238 791v2M292 782v2M319 773v2M400 771v2M411 818v2M465 802v2m0 11v1m0 2v2M481 771v2M535 769v2M643 778v2M697 780v2"/>
<path stroke="#1fa188" stroke-width="5" d="M124.5 768v1M189.5 778v2M254.5 782v2M259.5 778v2M281.5 782v2M308.5 780v2M340.5 782v2M351.5 769v2M594.5 771v4M610.5 786v1M653.5 782v2M664.5 780v2m0 5v2M675.5 818v2M772.5 784v2M799.5 818v2M826.5 791v4"/>
<path stroke="#1fa188" stroke-width="6" d="M141 769v2M211 778v2M319 782v2M330 775v2m0 1v2M373 782v2M411 795v2M438 771v2M465 787v2M497 775v2M535 768v1M751 793v2"/>
<path stroke="#20a486" stroke-width="5" d="M200.5 778v2M270.5 786v1M281.5 773v2M335.5 782v2M340.5 775v2M378.5 773v2M421.5 778v2M459.5 782v2M486.5 771v2m0 2v2m0 5v2M545.5 778v2M567.5 798v2M707.5 778v2M772.5 786v1M799.5 789v2m0 2v2M880.5 791v2M934.5 780v2"/>
<path stroke="#20a486" stroke-width="6" d="M195 778v2M265 786v1M276 778v2M578 768v1M670 780v2M751 778v2"/>
<path stroke="#22a884" stroke-width="5" d="M124.5 769v2M135.5 782v2M151.5 775v2M162.5 802v2M254.5 771v2M270.5 784v2M340.5 768v1M378.5 768v1M475.5 778v2M540.5 778v2m0 2v2M583.5 782v2M621.5 793v2M648.5 782v2M707.5 780v2m0 4v1M772.5 793v2M799.5 784v2M853.5 789v2M934.5 778v2"/>
<path stroke="#22a884" stroke-width="6" d="M141 771v2M195 782v2M265 784v2M384 771v2M524 782v2M551 782v2M562 782v2M632 780v2M670 782v2M740 795v2M751 780v2"/>
<path stroke="#25ac82" stroke-width="5" d="M146.5 775v2M205.5 775v2M270.5 787v2M297.5 782v2M324.5 787v2M351.5 782v2M367.5 782v2M389.5 778v2M443.5 782v2M459.5 778v2M729.5 786v1M799.5 791v2M826.5 795v2M853.5 793v2M880.5 784v2"/>
<path stroke="#25ac82" stroke-width="6" d="M168 778v2M184 782v2M238 793v2M346 782v2M384 782v2M438 782v2M465 789v2m0 13v2M535 773v2M551 778v4M562 780v2M578 771v2M740 786v1"/>
<path stroke="#2ab07f" stroke-width="5" d="M124.5 771v2m0 2v2M146.5 782v2M173.5 780v2M205.5 773v2M232.5 778v2M259.5 780v2M324.5 782v2M556.5 780v2M610.5 787v2M718.5 780v2M729.5 780v2M761.5 780v2M772.5 787v2M826.5 784v2"/>
<path stroke="#2ab07f" stroke-width="6" d="M330 782v2M373 780v2M411 797v1M497 782v2"/>
<path stroke="#2fb47c" stroke-width="5" d="M135.5 771v4M162.5 787v2m0 20v2M227.5 787v2M254.5 775v2M313.5 786v1M351.5 771v2M362.5 778v2M513.5 778v2M518.5 782v2M545.5 784v2M599.5 780v2M610.5 806v1M761.5 786v1M853.5 786v1"/>
<path stroke="#2fb47c" stroke-width="6" d="M157 775v2M303 784v2M400 775v2M508 771v2M578 782v2M632 778v2"/>
<path stroke="#35b779" stroke-width="5" d="M151.5 797v1M227.5 780v2M286.5 778v2M340.5 773v2M421.5 780v2M459.5 780v2M502.5 784v3M772.5 791v2"/>
<path stroke="#35b779" stroke-width="6" d="M211 780v2M303 787v2M357 778v4M524 780v2M605 780v2M616 778v2M740 780v2"/>
<path stroke="#3bbb75" stroke-width="5" d="M135.5 769v2M286.5 784v2M297.5 775v2M362.5 789v2M378.5 771v2M405.5 784v3M470.5 778v2M491.5 778v2M545.5 786v1M572.5 778v2M637.5 780v2M761.5 784v2M826.5 797v1M880.5 793v2"/>
<path stroke="#3bbb75" stroke-width="6" d="M292 786v1M303 786v1M400 782v2M454 780v2M497 769v2M551 807v2M605 778v2"/>
<path stroke="#44bf70" stroke-width="5" d="M162.5 789v2M189.5 780v2M200.5 780v2M205.5 782v2M227.5 778v2M270.5 789v2M308.5 778v2M378.5 782v2M389.5 786v1M416.5 786v1M421.5 786v1M432.5 780v2m0 4v1M475.5 780v2M491.5 786v1M518.5 786v1M545.5 787v2M594.5 782v2M610.5 789v2M626.5 780v2M853.5 795v2M934.5 786v1"/>
<path stroke="#44bf70" stroke-width="6" d="M141 782v2M168 786v1M249 780v2M319 775v2M373 778v2M481 782v2M535 775v2M578 769v2m0 7v2M686 778v2M697 778v2m0 6v1M751 786v1"/>
<path stroke="#4cc26c" stroke-width="5" d="M162.5 804v2M216.5 787v2M259.5 786v1M518.5 784v2M540.5 780v2M637.5 778v2M934.5 784v2"/>
<path stroke="#4cc26c" stroke-width="6" d="M222 778v2M438 789v2M465 807v2M551 784v2M589 778v2M632 787v2M740 787v2"/>
<path stroke="#54c568" stroke-width="5" d="M146.5 787v2M216.5 778v2M232.5 786v1M308.5 786v1M378.5 775v2M389.5 787v2M416.5 784v2M432.5 793v2M443.5 780v2M470.5 780v2M502.5 787v2M621.5 787v2M675.5 786v1M707.5 787v2M799.5 795v2m0 1v2M826.5 798v2M853.5 784v2M934.5 787v2"/>
<path stroke="#54c568" stroke-width="6" d="M130 773v2M238 797v1m0 18v2M346 778v2M373 789v2M411 798v2M481 775v2M535 782v2M551 786v1m0 15v2M632 786v1M686 784v2M751 784v2m0 1v2"/>
<path stroke="#5ec962" stroke-width="5" d="M124.5 782v2M162.5 815v1M243.5 780v2m0 2v2M254.5 778v2M362.5 787v2M378.5 769v2M448.5 786v1M556.5 786v1M664.5 778v2M680.5 778v2M691.5 786v1M707.5 784v2M718.5 778v2M729.5 787v2M761.5 787v2M772.5 795v2M907.5 786v1"/>
<path stroke="#5ec962" stroke-width="6" d="M157 780v2M238 795v2m0 5v2M265 789v2M292 780v2m0 13v2M303 789v2M411 816v2M578 775v2M589 786v1M740 784v2"/>
<path stroke="#67cc5c" stroke-width="5" d="M173.5 778v2M200.5 786v1M205.5 789v2M232.5 787v2M243.5 778v2M340.5 793v2M362.5 780v2M432.5 778v2m0 7v4M529.5 778v2M556.5 784v2M572.5 780v2M599.5 778v2M675.5 800v2M691.5 780v2M718.5 787v2M799.5 797v1M907.5 784v2"/>
<path stroke="#67cc5c" stroke-width="6" d="M168 787v2M211 786v1M238 809v2M384 780v2M411 809v2M427 778v2M454 778v2M562 778v2M605 786v1M697 787v2"/>
<path stroke="#70cf57" stroke-width="5" d="M173.5 786v1M178.5 787v2M189.5 787v2M313.5 780v2m0 5v2M362.5 786v1M475.5 786v1M626.5 778v2M675.5 778v2M691.5 778v2M707.5 789v2M853.5 791v2"/>
<path stroke="#70cf57" stroke-width="6" d="M265 791v2M276 786v1M384 778v2M524 778v2M551 787v2M562 784v2M616 786v1M697 784v2M740 789v2"/>
<path stroke="#7ad151" stroke-width="5" d="M151.5 782v2M178.5 786v1M189.5 791v2M232.5 780v2M243.5 786v1M324.5 789v2M351.5 791v2M367.5 780v2M405.5 787v2M416.5 789v2M443.5 778v2M448.5 787v2M459.5 786v1M491.5 787v2M556.5 787v2M567.5 780v2m0 9v2M610.5 818v2M621.5 778v2M648.5 778v4M675.5 784v2M729.5 784v2M880.5 795v2M907.5 787v2"/>
<path stroke="#7ad151" stroke-width="6" d="M130 771v2m0 2v2M184 780v2M276 780v2M411 800v2M438 780v2M659 780v2M751 789v2"/>
<path stroke="#86d549" stroke-width="5" d="M189.5 784v3M254.5 780v2M297.5 778v2M416.5 787v2M432.5 804v2M475.5 789v2M540.5 786v1M545.5 789v2M572.5 787v2M626.5 786v1M675.5 780v2M853.5 797v1M880.5 797v3"/>
<path stroke="#86d549" stroke-width="6" d="M195 784v2M249 787v2M346 780v2M373 786v1M427 780v2m0 4v1M465 791v2M508 780v2m0 4v1M535 798v2M605 784v2M616 780v2M670 786v1"/>
<path stroke="#90d743" stroke-width="5" d="M162.5 791v2M200.5 789v2M270.5 793v2M351.5 778v2M389.5 789v2M405.5 789v2M448.5 780v2M470.5 787v2M475.5 787v2M491.5 789v2M529.5 780v2m0 4v1M594.5 780v2M599.5 787v2M675.5 787v2M718.5 784v2m0 3v2M772.5 798v2M826.5 800v2"/>
<path stroke="#90d743" stroke-width="6" d="M130 769v2M276 787v2M411 802v2M427 787v4M465 793v2M562 787v2M589 780v2M632 784v2M686 789v2"/>
<path stroke="#9bd93c" stroke-width="5" d="M124.5 800v2M173.5 787v4M270.5 791v2M281.5 780v2M308.5 787v2M394.5 780v2M421.5 787v2M459.5 784v2M491.5 791v2M518.5 787v2M540.5 784v2M567.5 778v2M572.5 789v2M583.5 778v2M610.5 793v2M621.5 780v2M637.5 786v1M653.5 778v2M729.5 791v2M853.5 798v2"/>
<path stroke="#9bd93c" stroke-width="6" d="M130 768v1M157 778v2m0 18v2M249 786v1M265 807v2M330 780v2M384 786v1M438 778v2m0 7v2M578 773v2M632 789v2M643 784v2m0 3v2M670 787v2M686 787v2M697 789v2"/>
<path stroke="#a5db36" stroke-width="5" d="M146.5 778v2M232.5 789v2M243.5 787v2M259.5 784v2m0 1v4M281.5 789v2M313.5 789v2M459.5 787v2M486.5 778v2M491.5 784v2M502.5 789v2M626.5 787v4M648.5 787v2M691.5 789v2M707.5 793v2M729.5 789v2M772.5 797v1M907.5 789v2M934.5 789v2"/>
<path stroke="#a5db36" stroke-width="6" d="M168 789v2M195 786v1m0 2v2M222 780v2m0 4v1M238 798v2M346 787v2M535 780v2M551 789v2M562 786v1M632 793v2M643 787v2M659 786v1M670 784v2m0 3v2"/>
<path stroke="#b2dd2d" stroke-width="5" d="M200.5 787v2M232.5 784v2M254.5 797v1M286.5 786v3M324.5 778v2M335.5 787v2M448.5 778v2M491.5 793v2M513.5 780v2M518.5 789v2M572.5 786v1M653.5 780v2M664.5 789v2M691.5 787v2M761.5 791v2M826.5 802v2M853.5 800v2"/>
<path stroke="#b2dd2d" stroke-width="6" d="M141 778v2M195 787v2M211 787v2M222 787v2M238 800v2M249 793v2M265 793v2M276 784v2m0 3v2M346 786v1M357 789v2M373 787v2M411 815v1M497 778v2M524 784v3M562 789v2M589 787v2M605 787v2"/>
<path stroke="#bddf26" stroke-width="5" d="M124.5 773v2M151.5 786v1M189.5 789v2M227.5 786v1M394.5 789v2M405.5 791v2M421.5 784v2m0 3v2M475.5 784v2M502.5 791v2M556.5 789v2M610.5 795v2M621.5 786v1m0 2v2m0 18v2M637.5 787v4M648.5 786v1M772.5 800v2M799.5 800v2"/>
<path stroke="#bddf26" stroke-width="6" d="M195 780v2M211 784v2M238 818v2M330 786v1M357 786v1M589 784v2M605 789v2M740 791v2"/>
<path stroke="#c8e020" stroke-width="5" d="M162.5 793v2M178.5 784v2m0 3v2M216.5 789v2M243.5 789v2M340.5 798v2M367.5 778v2M389.5 784v2M394.5 778v2m0 6v1M529.5 789v2M540.5 787v2M567.5 786v3M583.5 787v2M664.5 786v1M729.5 793v2M880.5 800v2"/>
<path stroke="#c8e020" stroke-width="6" d="M130 782v2M157 786v1M184 787v2M249 789v2M303 791v2M346 789v2M357 787v2M373 784v2M427 784v2M481 780v2M508 787v4M616 789v2M659 793v2M686 793v2M740 793v2"/>
<path stroke="#d2e21b" stroke-width="5" d="M135.5 780v2M216.5 780v2m0 18v2M313.5 793v2M340.5 778v2M367.5 786v1M459.5 789v2M486.5 780v2M513.5 787v4M599.5 784v2M653.5 786v1M691.5 784v2M799.5 811v2M907.5 791v4"/>
<path stroke="#d2e21b" stroke-width="6" d="M168 798v2M265 795v2M357 784v2M454 789v2M465 795v2M605 791v2M632 791v2M686 791v2M697 793v2"/>
<path stroke="#dfe318" stroke-width="5" d="M216.5 793v2M270.5 795v2M313.5 784v2M351.5 789v2M448.5 784v2M470.5 789v2M486.5 786v1M502.5 793v2M513.5 786v1M529.5 787v2M545.5 793v2M583.5 780v2M594.5 778v2M626.5 793v2M675.5 789v2M680.5 780v2M707.5 791v2M772.5 802v2M934.5 791v2"/>
<path stroke="#dfe318" stroke-width="6" d="M157 787v2M168 791v2M211 789v2M303 793v2M357 793v2M438 784v2M481 778v2m0 6v1M524 787v2M616 787v2M643 793v2"/>
<path stroke="#eae51a" stroke-width="5" d="M135.5 778v2M146.5 784v3M173.5 791v2M200.5 784v2m0 7v2M216.5 786v1M227.5 793v2M254.5 789v2M286.5 789v2M297.5 780v2M335.5 780v2M351.5 780v2M389.5 795v2M416.5 791v2M443.5 789v2M470.5 784v2M518.5 791v2M529.5 793v2M567.5 789v2M572.5 784v2M583.5 786v1M599.5 789v2M653.5 784v2M664.5 784v2M680.5 787v2M707.5 795v2M761.5 793v2M880.5 802v2"/>
<path stroke="#eae51a" stroke-width="6" d="M184 789v2M319 780v2M384 784v2M400 778v2M454 787v2M605 793v2M616 793v2M659 787v2M697 791v2"/>
<path stroke="#f4e61e" stroke-width="5" d="M151.5 784v2M162.5 795v2M173.5 793v2M189.5 793v2M227.5 784v2M259.5 793v2M270.5 797v1M286.5 780v2M313.5 791v2M335.5 778v2m0 6v1M362.5 793v2M394.5 787v2M416.5 793v2M421.5 791v2M432.5 791v2M443.5 787v2M470.5 791v2M513.5 793v2M556.5 791v2M583.5 789v2M610.5 797v1M664.5 793v2M675.5 793v2M680.5 784v2M718.5 791v4"/>
<path stroke="#f4e61e" stroke-width="6" d="M249 784v2M319 778v2M330 787v2M411 804v2M454 793v2M465 797v1M508 778v2M524 789v2M562 791v2M616 791v2M632 795v2"/>
<path stroke="#fde725" stroke-width="5" d="M124.5 778v4m0 2v16m0 2v18M135.5 784v36M146.5 780v2m0 7v31M151.5 778v4m0 5v10m0 1v22M162.5 797v5m0 4v3m0 2v4m0 3v2M173.5 784v2m0 9v25M178.5 791v29M189.5 795v25M200.5 791v2m0 2v25M205.5 778v4m0 2v5m0 2v29M216.5 784v2m0 5v2m0 2v5m0 2v18M227.5 789v4m0 2v25M232.5 791v29M243.5 791v29M254.5 784v5m0 2v6m0 1v22M259.5 791v2m0 2v25M270.5 798v22M281.5 778v2m0 4v5m0 2v29M286.5 791v29M297.5 784v36M308.5 784v2m0 5v29M313.5 795v25M324.5 780v2m0 2v3m0 4v29M335.5 784v2m0 3v31M340.5 780v2m0 2v9m0 2v3m0 2v20M351.5 784v5m0 4v27M362.5 784v2m0 5v2m0 2v25M367.5 784v2m0 1v33M378.5 778v4m0 2v36M389.5 791v4m0 2v23M394.5 784v2m0 5v29M405.5 793v27M416.5 795v25M421.5 793v27M432.5 784v2m0 9v9m0 2v14M443.5 784v3m0 4v29M448.5 789v31M459.5 791v29M470.5 793v27M475.5 791v29M486.5 784v2m0 1v33M491.5 795v25M502.5 795v25M513.5 784v2m0 5v2m0 2v25M518.5 793v27M529.5 784v2m0 5v2m0 2v25M540.5 791v29M545.5 795v25M556.5 793v2m0 2v23M567.5 784v2m0 7v5m0 2v20M572.5 791v29M583.5 784v2m0 5v29M594.5 784v36M599.5 791v29M610.5 798v8m0 1v8M621.5 784v2m0 5v2m0 2v14m0 2v9M626.5 784v2m0 5v2m0 2v25M637.5 784v2m0 5v29M648.5 784v2m0 3v31M653.5 787v33M664.5 791v2m0 2v25M675.5 791v2m0 2v5m0 2v16M680.5 786v1m0 2v31M691.5 791v29M707.5 797v23M718.5 795v25M729.5 795v25M761.5 795v2m0 1v22M772.5 806v14M799.5 804v7m0 2v2M826.5 804v11M853.5 802v18M880.5 804v16M907.5 795v25M934.5 793v27"/>
<path stroke="#fde725" stroke-width="6" d="M130 778v4m0 2v36M141 780v2m0 2v36M157 784v2m0 3v9m0 2v20M168 793v5m0 2v20M184 784v3m0 4v29M195 791v29M211 791v29M222 784v2m0 3v31M238 806v3m0 2v5M249 791v2m0 2v25M265 797v3m0 2v5m0 2v6m0 1v4M276 791v29M292 784v2m0 1v8m0 2v23M303 795v25M319 784v36M330 784v2m0 3v31M346 784v2m0 5v29M357 791v2m0 2v25M373 791v2m0 2v25M384 787v33M400 780v2m0 2v36M411 806v1m0 4v4M427 791v29M438 786v1m0 4v29M454 784v2m0 5v2m0 2v25M465 798v4m0 9v4m0 1v2M481 784v2m0 1v33M497 780v2m0 2v36M508 784v2m0 5v29M524 791v29M535 778v2m0 4v14m0 2v20M551 791v11m0 2v3m0 2v2m0 2v7M562 793v27M578 780v2m0 2v36M589 789v31M605 795v25M616 784v2m0 9v25M632 797v23M643 791v2m0 2v25M659 778v2m0 4v2m0 3v4m0 2v25M670 791v29M686 795v25M697 795v25M740 797v23M751 791v2m0 2v23"/>
</g>
<rect x="1016" y="85" width="37" height="738" fill="url(#vg)" shape-rendering="crispEdges"/>
<g fill="#000" shape-rendering="crispEdges"><rect x="98" y="85" width="865" height="1"/><rect x="98" y="822" width="865" height="1"/><rect x="98" y="85" width="1" height="738"/><rect x="962" y="85" width="1" height="738"/><rect x="1016" y="85" width="37" height="1"/><rect x="1016" y="822" width="37" height="1"/><rect x="1016" y="85" width="1" height="738"/><rect x="1052" y="85" width="1" height="738"/><rect x="179" y="823" width="1" height="5"/><rect x="287" y="823" width="1" height="5"/><rect x="395" y="823" width="1" height="5"/><rect x="503" y="823" width="1" height="5"/><rect x="611" y="823" width="1" height="5"/><rect x="719" y="823" width="1" height="5"/><rect x="827" y="823" width="1" height="5"/><rect x="935" y="823" width="1" height="5"/><rect x="93" y="810" width="5" height="1"/><rect x="93" y="689" width="5" height="1"/><rect x="93" y="569" width="5" height="1"/><rect x="93" y="448" width="5" height="1"/><rect x="93" y="327" width="5" height="1"/><rect x="93" y="206" width="5" height="1"/><rect x="93" y="85" width="5" height="1"/><rect x="1053" y="822" width="5" height="1"/><rect x="1053" y="699" width="5" height="1"/><rect x="1053" y="577" width="5" height="1"/><rect x="1053" y="454" width="5" height="1"/><rect x="1053" y="331" width="5" height="1"/><rect x="1053" y="208" width="5" height="1"/><rect x="1053" y="85" width="5" height="1"/></g>
<g font-size="22.4"><text x="178.94" y="847.7" text-anchor="middle" textLength="12.7" lengthAdjust="spacingAndGlyphs">2</text><text x="286.93" y="847.7" text-anchor="middle" textLength="12.7" lengthAdjust="spacingAndGlyphs">4</text><text x="394.91" y="847.7" text-anchor="middle" textLength="12.7" lengthAdjust="spacingAndGlyphs">6</text><text x="502.9" y="847.7" text-anchor="middle" textLength="12.7" lengthAdjust="spacingAndGlyphs">8</text><text x="610.88" y="847.7" text-anchor="middle" textLength="25.2" lengthAdjust="spacingAndGlyphs">10</text><text x="718.86" y="847.7" text-anchor="middle" textLength="25.2" lengthAdjust="spacingAndGlyphs">12</text><text x="826.85" y="847.7" text-anchor="middle" textLength="25.2" lengthAdjust="spacingAndGlyphs">14</text><text x="934.83" y="847.7" text-anchor="middle" textLength="25.2" lengthAdjust="spacingAndGlyphs">16</text><text x="87.9" y="817.79" text-anchor="end" textLength="12.7" lengthAdjust="spacingAndGlyphs">0</text><text x="87.9" y="696.97" text-anchor="end" textLength="38.9" lengthAdjust="spacingAndGlyphs">100</text><text x="87.9" y="576.15" text-anchor="end" textLength="38.9" lengthAdjust="spacingAndGlyphs">200</text><text x="87.9" y="455.34" text-anchor="end" textLength="38.9" lengthAdjust="spacingAndGlyphs">300</text><text x="87.9" y="334.52" text-anchor="end" textLength="38.9" lengthAdjust="spacingAndGlyphs">400</text><text x="87.9" y="213.7" text-anchor="end" textLength="38.9" lengthAdjust="spacingAndGlyphs">500</text><text x="87.9" y="92.88" text-anchor="end" textLength="38.9" lengthAdjust="spacingAndGlyphs">600</text><text x="1062.5" y="829.87" textLength="12.7" lengthAdjust="spacingAndGlyphs">0</text><text x="1062.5" y="707.04" textLength="12.7" lengthAdjust="spacingAndGlyphs">5</text><text x="1062.5" y="584.21" textLength="25.2" lengthAdjust="spacingAndGlyphs">10</text><text x="1062.5" y="461.38" textLength="25.2" lengthAdjust="spacingAndGlyphs">15</text><text x="1062.5" y="338.55" textLength="25.2" lengthAdjust="spacingAndGlyphs">20</text><text x="1062.5" y="215.71" textLength="25.2" lengthAdjust="spacingAndGlyphs">25</text><text x="1062.5" y="92.88" textLength="25.2" lengthAdjust="spacingAndGlyphs">30</text></g><g font-size="22"><text y="873.7" xml:space="preserve"><tspan x="442.1" textLength="107.75" lengthAdjust="spacingAndGlyphs">Frequency</tspan> <tspan x="556.48" textLength="60.62" lengthAdjust="spacingAndGlyphs">(MHz)</tspan></text><text transform="translate(37.7 453.7) rotate(-90)" xml:space="preserve"><tspan x="-95.25" textLength="68.12" lengthAdjust="spacingAndGlyphs">Virtual</tspan> <tspan x="-20.5" textLength="60.62" lengthAdjust="spacingAndGlyphs">range</tspan> <tspan x="46.75" textLength="48.5" lengthAdjust="spacingAndGlyphs">(km)</tspan></text><text transform="translate(1108 453.7) rotate(-90)" xml:space="preserve"><tspan x="-46.75" textLength="43.12" lengthAdjust="spacingAndGlyphs">SNR</tspan> <tspan x="3" textLength="43.75" lengthAdjust="spacingAndGlyphs">(dB)</tspan></text></g><g font-size="30.2"><text y="44" xml:space="preserve"><tspan x="158.98" textLength="43.5" lengthAdjust="spacingAndGlyphs">IRF</tspan> <tspan x="211.36" textLength="89.75" lengthAdjust="spacingAndGlyphs">Kiruna</tspan> <tspan x="309.98" textLength="143.25" lengthAdjust="spacingAndGlyphs">Ionosonde</tspan> <tspan x="462.1" textLength="79.38" lengthAdjust="spacingAndGlyphs">KI167</tspan> <tspan x="550.36" textLength="80.62" lengthAdjust="spacingAndGlyphs">2025-</tspan><tspan x="630.98" textLength="45.25" lengthAdjust="spacingAndGlyphs">11-</tspan><tspan x="676.23" textLength="35.5" lengthAdjust="spacingAndGlyphs">30</tspan> <tspan x="720.6" textLength="44.62" lengthAdjust="spacingAndGlyphs">15:</tspan><tspan x="765.23" textLength="44.62" lengthAdjust="spacingAndGlyphs">27:</tspan><tspan x="809.86" textLength="35.5" lengthAdjust="spacingAndGlyphs">00</tspan>  <tspan x="863.1" textLength="37.12" lengthAdjust="spacingAndGlyphs">UT</tspan></text><text y="77.3" xml:space="preserve"><tspan x="223.85" textLength="87.62" lengthAdjust="spacingAndGlyphs">noise_</tspan><tspan x="311.47" textLength="62.75" lengthAdjust="spacingAndGlyphs">floor</tspan><tspan x="374.23" textLength="33.38" lengthAdjust="spacingAndGlyphs">=-</tspan><tspan x="407.6" textLength="97.12" lengthAdjust="spacingAndGlyphs">120.24</tspan> <tspan x="513.6" textLength="58.25" lengthAdjust="spacingAndGlyphs">(dB)</tspan> <tspan x="580.73" textLength="67.62" lengthAdjust="spacingAndGlyphs">peak</tspan> <tspan x="657.23" textLength="57.62" lengthAdjust="spacingAndGlyphs">SNR</tspan><tspan x="714.85" textLength="23.38" lengthAdjust="spacingAndGlyphs">=</tspan><tspan x="738.23" textLength="97.12" lengthAdjust="spacingAndGlyphs">102.67</tspan></text></g>
</svg></body></html>
